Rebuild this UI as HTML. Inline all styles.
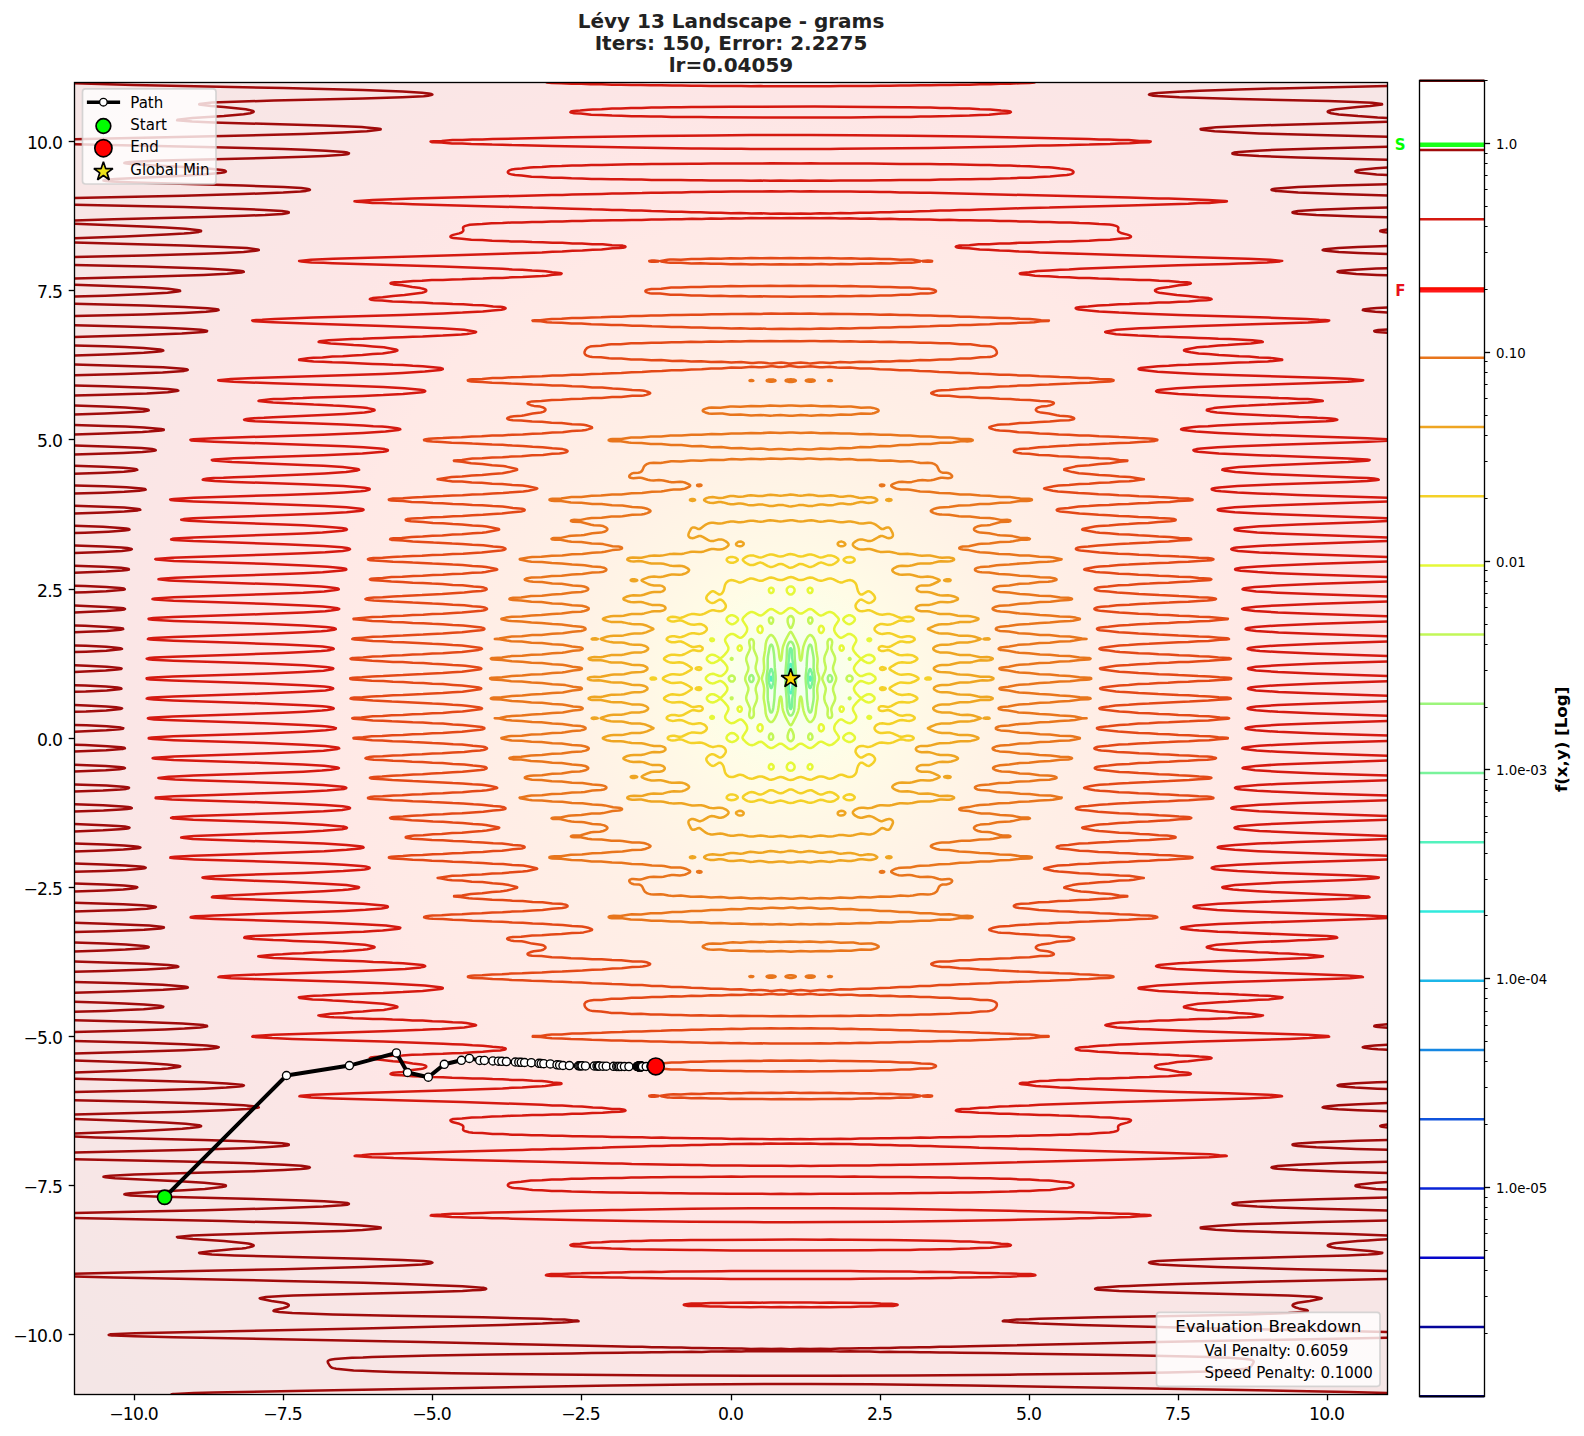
<!DOCTYPE html>
<html lang="en"><head><meta charset="utf-8"><title>Lévy 13 Landscape - grams</title>
<style>html,body{margin:0;padding:0;background:#fff}body{width:1584px;height:1436px;overflow:hidden}svg{display:block}text{font-family:'DejaVu Sans','Liberation Sans',sans-serif}</style></head><body>
<svg width="1584" height="1436" viewBox="0 0 1584 1436">
<defs>
<clipPath id="ax"><rect x="74.5" y="82.0" width="1313.0" height="1312.5"/></clipPath>
<clipPath id="cb"><rect x="1419.5" y="80.7" width="64.8" height="1315.5"/></clipPath>
<radialGradient id="bg" gradientUnits="userSpaceOnUse" cx="790.7" cy="678.6" r="1012.8">
<stop offset="0.0000" stop-color="#e7fffc"/>
<stop offset="0.0030" stop-color="#ebfff9"/>
<stop offset="0.0059" stop-color="#f0fff4"/>
<stop offset="0.0099" stop-color="#f4fff0"/>
<stop offset="0.0148" stop-color="#f5ffef"/>
<stop offset="0.0197" stop-color="#f3fff1"/>
<stop offset="0.0296" stop-color="#f6ffed"/>
<stop offset="0.0395" stop-color="#f7ffec"/>
<stop offset="0.0592" stop-color="#fbffe9"/>
<stop offset="0.0987" stop-color="#fffce6"/>
<stop offset="0.1382" stop-color="#fff8e6"/>
<stop offset="0.1777" stop-color="#fff5e6"/>
<stop offset="0.2172" stop-color="#fff2e6"/>
<stop offset="0.2567" stop-color="#fff0e6"/>
<stop offset="0.2962" stop-color="#ffeee6"/>
<stop offset="0.3357" stop-color="#ffede6"/>
<stop offset="0.3752" stop-color="#ffebe6"/>
<stop offset="0.4147" stop-color="#ffeae6"/>
<stop offset="0.4542" stop-color="#ffe9e6"/>
<stop offset="0.4937" stop-color="#fee7e6"/>
<stop offset="0.5332" stop-color="#fee7e6"/>
<stop offset="0.5727" stop-color="#fde6e6"/>
<stop offset="0.6121" stop-color="#fce6e6"/>
<stop offset="0.6516" stop-color="#fbe6e6"/>
<stop offset="0.6911" stop-color="#fae6e6"/>
<stop offset="0.7306" stop-color="#f9e6e6"/>
<stop offset="0.7701" stop-color="#f8e6e6"/>
<stop offset="0.8096" stop-color="#f7e6e6"/>
<stop offset="0.8491" stop-color="#f7e6e6"/>
<stop offset="0.8886" stop-color="#f6e6e6"/>
<stop offset="0.9281" stop-color="#f5e6e6"/>
<stop offset="0.9676" stop-color="#f4e6e6"/>
<stop offset="1.0000" stop-color="#f4e6e6"/>
</radialGradient></defs>
<rect width="1584" height="1436" fill="#fff"/>
<g font-size="20" font-weight="bold" fill="#222" text-anchor="middle">
<text x="731.0" y="28.3">Lévy 13 Landscape - grams</text>
<text x="731.0" y="50.3">Iters: 150, Error: 2.2275</text>
<text x="731.0" y="72.3">lr=0.04059</text>
</g>
<rect x="74.5" y="82.0" width="1313.0" height="1312.5" fill="url(#bg)"/>
<g clip-path="url(#ax)" fill="none" stroke-width="2.5" stroke-linejoin="round" stroke-linecap="butt">
<path stroke="#53f2bd" d="M790.4 693.2l-.6 -1 -.5 -1.9 -.6 -3.6 -.2 -5.1 0 -6 .2 -5.1 .6 -3.6 .5 -1.9 .6 -1 .5 0 .6 .8 .5 1.9 .6 3.3 .3 5.1 0 6 -.3 5.4 -.6 4 -.5 1.9 -.6 .8zM770.7 680.3l-.3 -1.4 0 -1.1 .3 -.9 .5 -.2 .4 1.1 0 1.6 -.4 1.1zM810.1 680.5l-.4 -1.6 .1 -1.1 .3 -1.1 .5 .1 .4 1.5 -.1 1.1 -.3 1z"/>
<path stroke="#79f39b" d="M790.4 708.9l-.6 -.9 -.3 -1.8 -.4 -7.1 -1.4 -10.9 -.3 -4.9 -.1 -6.6 .3 -7.6 1.5 -11 .4 -7.1 .3 -1.8 .6 -.9 .5 -.1 .6 .9 .3 1.3 .4 7.7 1.5 10.5 .3 4.8 0 6.6 -.3 8.2 -1.5 10.9 -.4 7.1 -.3 1.9 -.6 .8zM770.7 687.6l-1.1 -2.8 -.6 -2 -.4 -2.3 -.1 -2.2 .3 -2.7 .8 -3.2 1.1 -2.9 .5 -.5 .6 .5 1.1 3.3 .5 3.4 .1 3.2 -.3 3.3 -.9 3.6 -.5 1.3 -.6 .6zM810.1 688.2l-.6 -.7 -1.1 -3.4 -.5 -3 -.1 -2.8 .1 -2.1 .5 -3.1 1.1 -3.5 .6 -.6 .5 .4 1.1 2.8 .9 3.4 .2 2.7 -.2 2.8 -.9 3.8 -1.1 2.8z"/>
<path stroke="#9cf57b" d="M789.8 715.3l-1.1 -1.2 -.6 -1.3 -.7 -2.2 -.4 -2.2 -.4 -9.8 -1.1 -13.1 -.1 -9.3 .2 -6.1 1 -10.9 .3 -8.8 .2 -2.7 .5 -2.2 1.1 -2.4 1.1 -1.2 .6 -.2 .5 0 1.1 .6 1.1 1.7 .8 2.1 .4 2.2 .2 2.7 .3 8.2 1 12 .2 9.9 -.3 6 -.9 10.9 -.3 8.2 -.3 3.4 -.5 2.2 -1.1 2.4 -1.1 1.1 -.6 .2 -.5 0zM770.7 712.4l-.6 -.8 -.5 -1.7 -1.7 -9.7 -.2 -3.3 0 -8.2 -1.1 -7.6 -.1 -2.8 .2 -2.7 1 -7.1 0 -8.8 .3 -3.8 1.6 -8.6 .4 -1.2 .7 -1.3 .5 -.2 .6 .3 .5 .8 .6 1.6 .5 2.7 .6 4.1 .4 5.1 .4 8.2 .8 8.2 .1 3.8 -.9 10.4 -.5 9.9 -.9 7.5 -.5 2.7 -.6 1.6 -.5 .8 -.6 .3zM810.1 712.6l-.6 -.4 -.3 -.5 -.7 -1.6 -.8 -4.9 -.7 -6.1 -.4 -8.7 -.8 -8.2 -.2 -3.9 .2 -3.2 .8 -8.2 .4 -8.8 .7 -6.6 .6 -3.2 .4 -1.7 .8 -1.6 .6 -.4 .5 .2 .6 .7 .5 1.6 1.7 9.1 .3 3.5 -.1 8.8 1.1 7.1 .2 2.7 -.2 2.8 -1.1 7.6 .1 8.2 -.3 3.9 -1.7 9.3 -.5 1.6 -.6 .7zM750.4 681.6l-.5 -.6 -.6 -1.1 -.1 -1.6 .1 -1 .6 -1.1 .5 -.6 .6 -.4 .5 -.1 .6 .2 .8 .9 .5 1 .2 1.1 -.2 1.7 -.5 1.1 -.8 .8 -.6 .1 -.5 0zM829.2 681.9l-.7 -.8 -.5 -1.1 -.2 -1.7 .1 -1.1 .5 -1 .8 -.9 .6 -.2 .5 .1 .6 .3 .6 .7 .5 1 .2 1.1 -.2 1.7 -.6 1.1 -.5 .6 -.6 .3 -.5 0z"/>
<path stroke="#c2f758" d="M789.8 741l-1.1 -.8 -.7 -1.1 -.4 -1.7 0 -1.6 .6 -2.6 1.1 -2.6 1.1 -1.5 .5 0 .2 .1 .9 1.3 1.1 2.6 .6 2.1 .1 2.2 -.5 1.7 -.7 1.1 -1.1 .8 -.6 .2zM770.7 739.8l-.6 -.2 -.6 -.5 -.5 -1.1 -.1 -1.1 .2 -1.1 .5 -1.2 .5 -.7 .6 -.3 .5 -.1 .6 .2 .4 .4 .7 1.1 .2 1.1 .1 1.1 -.3 1.1 -.6 .8 -.5 .4zM809.5 739.7l-.6 -.6 -.6 -1.1 -.1 -1.1 .1 -1.1 .7 -1.5 .5 -.6 .6 -.2 .6 .1 .5 .3 .5 .6 .6 1.2 .2 1.2 -.1 1.1 -.6 1.1 -.6 .5 -1.1 .2zM790.4 725.3l-1.1 -1.3 -2.2 -3.9 -2 -4 -1.5 -3.8 -.7 -2.2 -.4 -2.2 -.9 -8.9 -.5 -2 -.6 -.5 -.5 .9 -.6 2.6 -.8 6.8 -.7 3.8 -1.2 3.9 -1.6 3.4 -1.1 1.9 -1.1 1.4 -1.1 .8 -.6 .1 -.5 0 -1.1 -.6 -1.7 -2 -1.3 -2.9 -.9 -3.2 -.7 -7.2 -1.3 -7.6 0 -2.2 .4 -5.5 0 -2.7 -.5 -3 -1.5 -5.2 -.2 -1.7 .3 -1.6 1.4 -4.7 .5 -3 0 -2.7 -.4 -5.5 0 -2.2 1.4 -8.2 .6 -6.5 .8 -3.3 1.4 -2.9 1.7 -2 1.1 -.6 .5 -.1 .6 .2 1.1 .8 1.1 1.4 1.1 1.8 1.6 3.6 1.2 3.8 .7 3.3 .8 7.3 .6 2.5 .5 1 .6 -.5 .5 -2 .9 -8.9 .4 -2.1 .7 -2.2 1.5 -3.9 2 -4 2.2 -3.9 1.1 -1.3 .5 -.1 .6 .6 1.1 1.7 3.1 5.9 1.9 4.4 .7 2.2 .6 2.7 .8 8.6 .5 2.2 .6 .6 .5 -.8 .6 -2.4 .8 -7.1 .7 -3.8 1.3 -3.8 1.6 -3.5 1 -1.8 1.1 -1.4 1.1 -.9 .6 -.2 .5 .1 1.1 .6 1.7 1.9 1.4 3 .9 3.3 .6 6.5 1.3 8.2 0 2.2 -.4 5.5 .1 2.7 .4 2.8 1.5 4.9 .2 1.6 -.1 1.7 -1.6 5.4 -.4 2.8 -.1 2.7 .4 4.9 0 2.8 -1.2 7.6 -.8 7.2 -.8 3.2 -1.4 2.9 -1.7 2 -1.1 .6 -.5 0 -.6 -.1 -1.1 -.9 -1.1 -1.4 -1 -1.9 -1.6 -3.3 -1.2 -3.9 -.8 -3.8 -.8 -7.1 -.6 -2.4 -.5 -.8 -.6 .6 -.5 2.2 -.8 8.6 -.6 2.7 -.7 2.2 -1.9 4.4 -3.1 5.9 -1.1 1.7 -.6 .5zM750.4 717.9l-.5 -.6 -.4 -.7 -.3 -1.6 .1 -1.5 .7 -3.4 0 -1.7 -.8 -2.2 -2.3 -4.9 -.5 -1.6 -.2 -1.1 0 -1.1 .3 -1.7 1.8 -5.4 .1 -2.2 -.6 -2.2 -2.2 -4.9 -.4 -1.7 0 -1.1 .4 -2.1 2.4 -5.5 .4 -2.2 0 -1.1 -.4 -1.6 -1.6 -5 -.2 -1.6 .1 -1.1 .6 -2.2 2.3 -4.9 .8 -2.2 .1 -1.6 -.9 -4.4 .1 -1.8 .4 -1 .5 -.5 .8 -.4 .5 -.1 1.1 .6 .6 .7 .5 1.3 .2 1.7 -.3 3.9 .1 1.6 .7 2.2 1.9 4.4 .7 2.2 .1 1.6 -.1 1.6 -1.3 5.5 -.1 2.2 .7 2.7 2.4 5.5 .3 1.1 0 1.1 -.5 2.2 -2.1 4.5 -.7 2.6 0 2.2 1.3 5.4 .1 2.8 -.6 2.7 -2.3 5.5 -.5 1.6 -.1 1.7 .3 3.8 -.2 1.6 -.5 1.4 -.8 .8 -.9 .5 -.5 -.1zM829.2 718l-.5 -.5 -.6 -.7 -.4 -1.3 -.2 -1.6 .3 -3.8 -.1 -1.7 -.5 -1.6 -2.2 -4.9 -.7 -2.8 0 -2.7 1.3 -5.5 .2 -1.6 -.1 -1.1 -.6 -2.2 -2.4 -5.5 -.3 -1.1 -.1 -1.1 .6 -2.1 2 -4.5 .8 -2.7 0 -2.1 -1.3 -5.5 -.1 -2.8 .5 -2.7 2.3 -5.5 .6 -1.6 .1 -1.6 -.3 -3.9 .1 -1.6 .5 -1.3 .6 -.8 .5 -.4 .6 -.2 .5 0 .9 .5 .7 1.1 .3 1.6 -.2 1.7 -.7 3.3 .1 1.6 .7 2.2 2.4 4.9 .5 1.7 .1 1 0 1.1 -.3 1.7 -1.6 4.9 -.2 1.6 0 1.1 .6 2.2 2.2 5 .4 1.6 0 1.1 -.5 2.2 -2.3 5.4 -.4 2.2 .2 2.2 1.8 5.5 .2 1.6 -.1 1.1 -.6 2.2 -2.4 4.9 -.7 2.2 -.1 1.7 .8 4.4 -.1 1.8 -.6 1.1 -.5 .5 -.6 .2 -.5 0zM731.8 699.2l-.5 -.1 -.4 -.5 -.1 -.6 .5 -.5 .5 -.1 .6 .3 .1 .3 -.1 .8zM849.5 699.2l-.6 -.4 -.1 -.8 .7 -.6 .5 0 .5 .6 0 .6 -.5 .5zM731.8 681.6l-1.1 -.2 -1.1 -.7 -.7 -1.3 -.2 -1.1 .4 -1.1 .5 -.7 1.1 -.7 1.1 -.3 1.1 .3 1.1 .8 .5 .6 .3 1.1 -.1 1.1 -.6 1.1 -1.2 .9zM849.5 681.6l-1.1 -.2 -1.1 -.9 -.7 -1.1 -.1 -1.1 .4 -1.1 .4 -.6 1.1 -.8 1.1 -.3 1.1 .2 1.1 .8 .6 .7 .3 1.1 -.1 1.1 -.8 1.3 -1.1 .7zM731.8 659.8l-.5 -.1 -.5 -.5 0 -.6 .5 -.5 .5 -.1 .6 .4 .1 .2 -.1 .9zM849.5 659.8l-.6 -.4 -.1 -.8 .7 -.6 .5 .1 .5 .5 0 .6 -.4 .5zM790.4 628.1l-1.1 -1.6 -1.1 -2.5 -.5 -2 -.1 -1.7 .2 -1.6 .9 -1.6 1.1 -.9 1.1 -.2 1.1 .5 1.1 1.1 .6 1.7 .1 1.6 -.4 2.2 -.8 2.4 -1.1 2.1 -.6 .5zM771.2 623.7l-.5 -.1 -.6 -.4 -.5 -.6 -.5 -1.2 -.2 -1.1 .1 -1 .5 -1.1 .6 -.6 .6 -.2 1.1 .1 .5 .4 .6 .8 .3 1.1 -.1 1.1 -.2 1.1 -.7 1.1 -.4 .4zM810.1 623.7l-.9 -.6 -.7 -1.1 -.3 -1.1 0 -1.1 .3 -1.1 .5 -.7 .5 -.5 1.1 -.1 .6 .1 .7 .7 .5 1.1 .1 1 -.2 1.2 -.6 1.1 -.5 .7 -.6 .3z"/>
<path stroke="#e5f838" d="M788.7 770.3l-1.3 -1.1 -.5 -1.1 -.2 -1.1 .4 -1.7 1.1 -1.5 1.1 -.9 1.1 -.3 .7 0 .9 .3 1.1 .8 1.2 1.6 .4 1.7 -.4 1.6 -.9 1.1 -1.4 .9 -1.6 .2zM770.1 769.2l-.6 -.6 -.5 -.7 -.2 -.9 .2 -1.1 .6 -1.1 .5 -.4 1.1 -.4 .8 .2 .9 .7 .6 1 .2 1.1 -.3 1.1 -.5 .7 -1.1 .6 -1.1 0zM809.5 769.4l-1.1 -.7 -.5 -.6 -.2 -.6 0 -1.1 .5 -1.1 .8 -.8 .5 -.3 1.1 -.1 1.1 .7 .4 .5 .4 1.1 -.1 1.1 -.5 1.1 -.7 .6 -.6 .2zM789.3 749l-1.7 -.9 -4.3 -3.4 -1.1 -.7 -1.1 -.3 -1.1 0 -1.1 .3 -5.5 3.5 -1.1 .4 -1.1 .2 -1.1 -.2 -1.6 -.7 -5.5 -4.5 -1.1 -.7 -1.1 -.3 -1.6 .2 -4.9 2.7 -2.2 .6 -1.1 -.1 -1.7 -.5 -1.1 -.6 -1.6 -1.2 -2.7 -2.6 -.9 -1.1 -.5 -1.1 0 -.6 .4 -1.1 3.5 -5.4 .7 -1.7 .1 -1.1 -.2 -1.6 -.7 -1.7 -1.1 -1.6 -1.3 -1.6 -1.1 -1.1 -1.1 -.8 -.6 -.2 -1.1 -.1 -1.6 .7 -3.8 2.4 -1.7 .6 -1.6 .1 -1.1 -.3 -1.1 -.6 -1.7 -1.3 -1.1 -1.1 -.7 -1.1 -.4 -1.1 -.1 -1.1 .3 -1.1 2.6 -4.9 .4 -1.1 0 -1.1 -.2 -1.1 -.9 -1.6 -2.6 -3.1 -2.7 -2.7 -1.7 -1.1 -.5 .2 -2.7 1.8 -1.7 .9 -1.6 .6 -1.1 .2 -1.7 -.2 -1.6 -.6 -1.7 -1.3 -.8 -1.3 -.1 -1.1 .4 -1 .4 -.6 1.8 -1.4 1.1 -.5 1.1 -.3 1.1 0 1.6 .3 1.8 .8 3.7 2.4 .5 .1 .6 -.2 1.6 -1.4 2.2 -2.2 1.1 -1.4 1.1 -1.7 .4 -1.1 .1 -1.1 -.1 -1.1 -.8 -1.6 -1.2 -1.6 -1.7 -1.7 -1.6 -1.1 -1.1 -.5 -1.1 0 -1.1 .2 -3.3 1.4 -1.6 .5 -1.7 .2 -1.6 -.4 -1.7 -.7 -1.6 -1.2 -1.3 -1.7 -.1 -1.1 .4 -1.1 1.6 -1.6 1.8 -1.1 2 -.6 1.1 -.1 1.6 .3 4.9 1.9 1.1 .1 1.1 -.2 1.1 -.6 1.7 -1.3 1.1 -1.2 1.2 -1.6 .8 -1.6 .1 -1.1 -.1 -1.1 -.4 -1.1 -1 -1.6 -1.2 -1.5 -2.2 -2.2 -1.6 -1.4 -.6 -.3 -.5 .2 -2.8 1.9 -2.7 1.3 -1.6 .3 -1.1 0 -1.1 -.3 -1.1 -.5 -1.7 -1.4 -.5 -.6 -.4 -1 0 -1.1 .9 -1.4 1.7 -1.2 1.6 -.7 1.7 -.1 1.1 .2 1.6 .6 1.8 1 2.6 1.7 .5 .2 1.7 -1.1 2.7 -2.7 2.6 -3.1 .9 -1.6 .2 -1.1 0 -1.1 -.3 -1.1 -2.7 -4.9 -.3 -1.1 0 -1.1 .5 -1.1 .7 -1.1 1.1 -1.2 1.7 -1.2 1.1 -.6 1.1 -.3 1.6 0 1.7 .6 3.8 2.5 1.6 .7 1.1 -.1 .6 -.3 1.1 -.7 1.1 -1.1 1.3 -1.6 1.1 -1.6 .7 -1.7 .2 -1.6 -.1 -1.1 -.6 -1.6 -3.6 -5.5 -.4 -1.1 0 -.5 .5 -1.1 .8 -1.1 2.9 -2.8 2.6 -1.7 1.7 -.6 1.1 0 2.2 .6 4.9 2.7 1.6 .2 1.1 -.4 1.1 -.6 5.5 -4.5 1.6 -.8 1.1 -.1 1.1 .1 1.1 .5 5.5 3.4 1.1 .4 1.1 0 1.1 -.4 1.1 -.6 3.8 -3 1.6 -1.1 1.7 -.5 1.6 .3 1.7 .9 4.3 3.4 1.1 .6 1.1 .4 1.1 0 1.1 -.3 5.5 -3.5 1.1 -.5 1.1 -.1 1.1 .1 1.6 .8 5.5 4.5 1.1 .6 1.1 .4 1.1 -.1 1.1 -.3 4.4 -2.5 2.1 -.6 1.1 0 1.7 .5 1.1 .6 1.6 1.2 2.8 2.8 .9 1.1 .4 1.1 0 .5 -.4 1.1 -3.2 4.9 -.7 1.7 -.3 1.1 0 1.6 .6 1.6 1 1.8 1.7 2 1 1 1.1 .8 .6 .3 1.1 .1 1.6 -.7 3.9 -2.4 1.6 -.7 1.6 0 1.1 .3 1.1 .6 1.7 1.2 1.2 1.2 .7 1.1 .4 1.1 .1 1.1 -.3 1.1 -2.5 4.4 -.4 1.1 -.2 1.1 .1 1 .7 1.7 1.2 1.6 1.7 2 2.7 2.6 1.7 1.2 .5 -.2 2.7 -1.7 2 -1.1 1.4 -.5 1.6 -.2 1.6 .3 1.7 .8 1.4 1.2 .6 1.1 .1 1.1 -.5 1.1 -.4 .5 -1.8 1.4 -1.1 .5 -1.1 .3 -1.1 0 -1.6 -.3 -2.6 -1.3 -2.9 -2 -.5 0 -.6 .2 -1.6 1.4 -2.2 2.3 -1.1 1.4 -1 1.6 -.4 1.1 -.2 1.1 .2 1.1 .8 1.6 1.2 1.7 1.6 1.5 1.6 1.2 1.1 .4 1.1 .1 1.1 -.2 3.3 -1.4 1.7 -.5 1.6 -.2 1.6 .3 1.7 .8 1.7 1.3 1 1 .2 .6 .2 1.1 -.5 1.1 -1.6 1.6 -2.1 1.3 -1.7 .4 -1.1 .1 -1.6 -.3 -4.9 -1.9 -1.1 -.1 -1.1 .2 -1.1 .6 -1.6 1.4 -1.1 1.1 -1.3 1.6 -.7 1.6 -.2 1.1 .2 1.1 .4 1.1 1 1.7 1.1 1.3 2.2 2.3 1.6 1.3 .6 .3 .5 -.1 3.8 -2.4 1.7 -.8 1.6 -.3 1.1 0 1.1 .3 1.1 .5 1.8 1.4 .5 .5 .4 1.1 -.1 1.1 -.9 1.4 -1.7 1.2 -1.6 .6 -1.7 .2 -1 -.2 -1.7 -.6 -1.6 -.9 -2.8 -1.9 -.5 -.1 -1.7 1.2 -2.7 2.6 -2.6 3.1 -.8 1.6 -.3 1.1 .1 1.1 .3 1.1 2.7 4.9 .3 1.1 -.1 1.1 -.4 1.1 -.8 1.1 -1.1 1.2 -1.7 1.2 -1.1 .6 -1.1 .3 -1.6 -.1 -2.2 -.9 -3.8 -2.5 -1.1 -.3 -1.1 .1 -.6 .3 -1.1 .8 -1 1 -1.4 1.6 -1.1 1.6 -.6 1.7 -.2 1.6 .1 1.1 .6 1.7 3.6 5.4 .4 1.1 -.1 .6 -.4 1.1 -.9 1.1 -2.9 2.7 -2.6 1.7 -1.7 .5 -1.1 .1 -2.1 -.7 -4.4 -2.4 -1.1 -.4 -1.1 0 -1.1 .4 -1.1 .6 -5.5 4.5 -1.6 .8 -1.1 .1 -1.1 -.2 -1.1 -.4 -5.5 -3.5 -1.1 -.3 -1.1 0 -1.1 .4 -1.1 .6 -3.8 3 -1.6 1.1 -1.7 .4zM730.7 741.8l-1.1 -.3 -1.1 -.6 -1.4 -1.3 -.5 -1.1 -.1 -.5 .2 -1.1 1 -1.7 1.9 -1.5 1.1 -.5 1.1 -.2 1.7 .2 1.7 .9 1.9 1.7 .8 1.1 .2 1.1 -.2 .5 -.8 1.1 -1.4 1.1 -1 .6 -1.8 .6 -1.1 .1zM848.4 741.9l-1.7 -.6 -1.8 -1.1 -1.1 -1.1 -.4 -.6 -.2 -1.1 .2 -.5 .8 -1.1 1.9 -1.7 1.8 -.8 1.6 -.3 1.6 .4 2 1.3 1.4 1.6 .4 1.1 0 .6 -.3 1.1 -.4 .5 -.9 .9 -1.1 .8 -1.6 .6 -1.1 .1zM759 730.9l.7 .4 .6 .1 .5 -.1 .6 -.4 .5 -.6 .6 -1.3 .1 -1.4 -.1 -1.2 -.6 -1.2 -.5 -.6 -.6 -.3 -1.1 0 -.9 .5 -.8 1.1 -.5 1.1 0 1.1 .3 1.1 .3 .7zM819.9 730.9l.6 .3 .5 .2 .6 -.1 1.1 -.7 .9 -1.4 .3 -1.1 -.1 -1.1 -.4 -1.1 -.9 -1.1 -.9 -.5 -1.1 0 -.8 .5 -.6 1.1 -.3 1.1 0 1.7 .6 1.5zM711 718.6l-.4 -.3 -.3 -.6 0 -.5 .2 -.4 1.1 -.7 1.1 0 .5 .2 .6 .6 .1 .3 -.1 .7 -.3 .4 -.8 .4 -1.1 .1zM868.1 718.4l-.6 -.7 -.1 -.5 .4 -.6 .8 -.5 1.2 0 1 .5 .3 .6 0 .5 -.3 .5 -1.1 .6 -.5 0zM739.5 711.7l.5 .1 .6 -.2 .5 -.5 .6 -1.2 .1 -.9 -.2 -1.1 -.5 -.8 -.5 -.4 -.6 -.2 -1.1 .2 -.7 .6 -.6 1.1 0 .6 .2 1.1 .6 .8zM841.1 711.7l.7 0 .6 -.2 .8 -.9 .5 -1.1 0 -1.1 -.2 -.5 -.6 -.8 -.5 -.4 -1.1 -.2 -.6 .2 -.6 .6 -.5 1.1 0 1.1 .4 1.1 .3 .6zM738.9 650.4l.6 .3 1.1 -.2 .5 -.4 .4 -.8 .3 -1 -.2 -1.1 -.5 -1.1 -.5 -.5 -.6 -.2 -.5 .1 -.6 .3 -.5 .5 -.6 .9 -.2 1.1 .1 .5 .5 1.1zM840.6 650.4l.7 .3 1.1 -.2 .5 -.4 .6 -.8 .2 -.5 0 -1.1 -.5 -1.1 -.8 -.9 -.6 -.3 -.5 0 -.6 .2 -.5 .5 -.5 1.1 -.1 1.6 .5 1.1zM712.1 641.2l-.5 -.1 -.9 -.5 -.4 -.6 0 -.5 .2 -.5 .5 -.4 1.1 -.2 .6 .1 .8 .5 .4 .5 0 .5 -.3 .6 -.4 .2zM869.2 641.2l-1.1 -.4 -.6 -.8 0 -.5 .3 -.5 .8 -.5 .6 -.1 1.1 .2 .5 .4 .3 .5 0 .5 -.4 .6 -1 .5zM760 632.9l.8 0 .6 -.3 .5 -.6 .6 -1.2 .1 -1.1 -.1 -1.5 -.6 -1.3 -.5 -.6 -.6 -.4 -.5 -.1 -1.1 .3 -.6 .5 -.9 1.4 -.2 1.1 .1 1.1 .5 1.3 1.1 1.1zM820.8 632.9l.8 0 1.1 -.7 .9 -1.5 .3 -1 -.1 -1.1 -.6 -1.4 -.7 -.8 -.9 -.5 -.6 -.1 -.5 .1 -.6 .5 -.7 1.1 -.5 1.6 .1 1.5 .5 1.2 .6 .7zM731.8 624.2l-1.6 -.4 -1.9 -1.3 -1.4 -1.6 -.4 -1.1 0 -.5 .3 -1.1 .3 -.6 .9 -.9 1 -.7 1.7 -.7 1.1 -.1 1.1 .1 1.9 .7 1.7 1.1 1.1 1.1 .3 .5 .2 1.1 -.2 .5 -.8 1.1 -1.9 1.7 -1.7 .8zM849.5 624.2l-1.6 -.3 -1.7 -.8 -1.9 -1.7 -.8 -1.1 -.2 -.5 .1 -1.1 .4 -.5 1.1 -1.1 1.7 -1.1 1.8 -.7 1.1 -.1 1.1 .1 1.7 .7 1 .7 1 .9 .3 .6 .3 1.1 0 .5 -.5 1.1 -1.4 1.6 -1.9 1.3zM789.3 594.3l-1.1 -.9 -1.1 -1.5 -.4 -1.6 .1 -1.1 .6 -1.1 1.3 -1.2 1.4 -.5 1.4 .1 1.6 .7 1.1 1.3 .4 1.2 -.1 1.7 -1 1.6 -1.5 1.3 -1.1 .3 -.5 0zM770.7 593.1l-1 -.7 -.4 -.5 -.4 -1.1 0 -1.1 .5 -1.1 .6 -.5 .7 -.3 1.1 0 1.1 .6 .5 .7 .2 .6 0 1.1 -.4 1.1 -.9 .8 -.5 .3zM809.5 593l-.8 -.6 -.8 -1 -.2 -1.1 0 -.6 .6 -1.1 .6 -.5 .6 -.3 1.1 0 1.1 .6 .6 .7 .2 .6 0 1.1 -.4 1.1 -.9 1 -.6 .2z"/>
<path stroke="#f4d128" d="M790.4 803.1l-2.2 -.3 -5.5 -1.9 -2.2 -.3 -2.2 .3 -4.9 1.6 -1.6 .3 -1.7 -.1 -2.7 -.6 -4.9 -2.1 -1.7 -.3 -2.2 .3 -4.9 1.6 -1.6 .2 -1.7 0 -2.7 -.7 -2.5 -1.3 -2.1 -1.6 -.2 -.6 0 -.5 .2 -.6 1.1 -1.1 2.4 -1.6 2.2 -1.2 1.6 -.4 1.1 -.1 1.7 .1 1.6 .5 3.8 1.6 1.1 .3 1.1 0 2.2 -.7 5.5 -3.1 1.6 -.5 1.1 -.1 2.2 .4 5.5 2.5 1.1 .2 1.1 0 2.2 -.6 5.4 -2.9 1.1 -.3 1.1 0 1.1 .1 1.1 .4 4.9 2.6 2.2 .7 1.1 0 1.1 -.2 5.5 -2.4 2.2 -.5 1.1 .1 1.6 .5 5.5 3.1 2.2 .7 1.1 0 1.1 -.3 3.8 -1.6 1.6 -.5 1.7 -.1 1.1 .1 1.1 .2 1.6 .7 2.8 1.8 1.8 1.6 .3 .6 0 .5 -.8 1.1 -2.5 1.6 -2.1 1 -2.2 .5 -1.7 0 -1.6 -.2 -4.9 -1.6 -2.2 -.3 -1.7 .4 -4.9 2 -2.7 .6 -1.7 0 -1.5 -.2 -5 -1.6 -2.2 -.3 -2.2 .3 -5.5 1.9zM729.1 799.8l-1.1 -.5 -1.2 -1.1 -.1 -.6 0 -.5 .7 -1.1 1.7 -1.1 1.6 -.5 1.7 0 2.2 .5 1.2 .5 1.6 1.1 .3 .6 .1 .5 -.4 .6 -1.5 1.1 -2.4 .8 -2.2 .2zM847.3 800l-1.8 -.7 -1.6 -1.1 -.3 -.6 0 -.5 .4 -.6 1.5 -1.1 1.8 -.7 2.2 -.4 1.6 .2 1.7 .7 1.1 .8 .8 1.1 0 .5 -.2 .6 -1.1 1.1 -1.7 .7 -2.2 .3zM790.4 780.1l-2.2 -.5 -4.9 -2.1 -2.2 -.4 -1.1 0 -1.7 .3 -4.9 1.9 -2.2 .4 -2.2 -.3 -5.4 -2.4 -1.7 -.5 -1.1 -.1 -1.1 0 -1.6 .4 -4.9 1.7 -1.7 .2 -1.1 -.1 -1.1 -.2 -1.6 -.6 -4.9 -2.6 -2.2 -.5 -1.1 0 -1.1 .3 -3.8 1.5 -1.7 .5 -1.6 .1 -1.7 -.3 -1.1 -.5 -1.1 -.7 -1 -1 -.8 -1.1 -.7 -1.6 -.9 -3.8 -.5 -1.7 -1 -1.9 -1.1 -1.2 -1.1 -.6 -1.1 0 -1.1 .5 -3.8 2.4 -1.1 .3 -1.1 -.1 -1.6 -.8 -2.1 -1.9 -1.3 -1.6 -.7 -1.6 -.1 -1.1 .2 -.6 1.1 -1.6 1.8 -1.5 1.1 -.5 1.1 -.3 1.1 -.1 1.6 .4 4.4 2.5 1.1 .5 1.1 -.1 1.6 -.9 1.1 -1.1 1.3 -1.7 .8 -1.6 .2 -1.1 -.2 -1.1 -.5 -1.1 -.9 -1.1 -1.2 -.9 -1.7 -.7 -2.2 -.3 -1.6 .2 -3.8 .8 -1.7 0 -2.2 -.6 -5.4 -2.7 -2.8 -.9 -2.2 -.2 -5.4 .6 -2.8 0 -2.9 -.7 -5.8 -2.5 -1.7 -.5 -1.6 -.1 -3.9 .9 -2.7 .2 -2.2 -.2 -1.5 -.6 -.8 -.5 -.4 -.6 -.1 -.5 .2 -.6 .6 -.5 .9 -.5 1.7 -.5 1.6 -.2 1.7 .1 4.3 1 1.7 0 1.6 -.3 6.6 -3.1 2.7 -.8 2.8 -.1 5.4 .6 2.2 -.2 2.1 -.9 1.6 -1.1 1.3 -1.7 .2 -1.1 -.3 -1.1 -1.4 -1.6 -1.6 -1.1 -1.9 -.7 -1.1 -.3 -1.6 0 -4.9 .7 -2.2 -.1 -2.8 -.6 -5.4 -2.4 -2.2 -.7 -2.2 -.2 -4.9 .8 -2.2 .1 -2.8 -.6 -1.6 -.8 -.8 -.7 -.3 -.5 0 -.6 .2 -.5 1.4 -1.1 1.7 -.7 1.6 -.4 1.7 -.1 1.6 .1 3.8 .7 2.2 -.1 2.8 -.9 6.5 -3.6 2.2 -.9 1.1 -.1 1.1 .1 3.8 .8 1.1 0 1.1 -.2 1.1 -.5 .6 -.5 .4 -.8 0 -.6 -.4 -1 -.6 -.5 -1.5 -.7 -1.8 0 -3.8 .8 -1.6 0 -1.7 -.4 -6.5 -3.4 -2.8 -1 -2.7 -.3 -4.9 .6 -2.8 -.1 -2.2 -.5 -1.6 -.6 -3 -1.6 -.5 -.6 -.3 -.5 .1 -.6 .4 -.5 1.5 -1.1 2.3 -1.1 2.2 -.7 2.2 -.3 1.7 .1 4.9 .5 1.6 -.1 1.7 -.3 2.2 -.9 2.8 -1.6 3.4 -2.2 .6 -.5 .3 -.6 -.1 -.5 -.6 -.6 -2.4 -1.6 -3 -1.7 -2.7 -1.2 -1.6 -.5 -1.7 -.1 -6 .5 -1.6 -.1 -1.7 -.2 -2.7 -.9 -2.8 -1.3 -1.7 -1.1 -.4 -.5 0 -.6 .4 -.5 .7 -.6 2 -1 2.6 -1.1 1.9 -.6 1.7 -.2 1.6 -.1 6 .5 1.7 -.1 1.6 -.5 2.7 -1.2 3 -1.7 2.4 -1.6 .5 -.6 .2 -.5 -.3 -.6 -.6 -.5 -3.3 -2.2 -2.9 -1.6 -2.2 -.9 -1.7 -.3 -1.6 -.1 -4.9 .5 -1.7 0 -2.2 -.2 -2.2 -.7 -2.2 -1.1 -1.6 -1.1 -.4 -.5 -.1 -.6 .2 -.5 .6 -.5 2.8 -1.7 1.8 -.6 2 -.5 3 -.1 4.9 .6 2.7 -.3 2.8 -1 6 -3.1 2.2 -.8 1.6 .1 3.6 .8 1.9 0 1.6 -.7 .6 -.5 .4 -1 -.2 -1.1 -.5 -.5 -1.4 -.9 -1.1 -.2 -1.1 .1 -3.8 .8 -1.1 .1 -1.1 -.1 -2.7 -1.2 -6 -3.3 -2.8 -1 -2.2 0 -3.8 .7 -1.6 .1 -1.7 -.1 -1.6 -.4 -1.6 -.7 -1.4 -1.1 -.3 -.5 0 -.5 .2 -.6 1.4 -1.1 1.1 -.5 2.8 -.5 2.2 0 4.9 .9 2.2 -.2 2.2 -.7 5.4 -2.4 2.8 -.7 2.2 0 4.9 .7 1.6 -.1 1.1 -.2 1.8 -.7 1.7 -1.1 1.4 -1.6 .3 -1.1 -.2 -1.1 -1.3 -1.6 -1.5 -1.1 -2.2 -1 -2.2 -.3 -5.4 .7 -2.8 -.1 -2.7 -.8 -6.6 -3.1 -1.6 -.4 -1.7 .1 -4.8 1 -1.7 .1 -1.1 -.2 -1.7 -.5 -.8 -.5 -.6 -.5 -.3 -.5 .1 -.6 .4 -.5 .7 -.6 1.4 -.5 2.4 -.4 2.7 .3 3.9 .9 1.6 -.1 1.7 -.5 5.6 -2.4 3.1 -.8 2.8 -.1 5.4 .7 2.2 -.2 2.8 -.9 5.4 -2.7 2.2 -.6 1.7 0 3.8 .8 1.6 .2 2.2 -.3 1.7 -.7 1.2 -.9 .9 -1.1 .5 -1.1 .2 -1.1 -.2 -1.1 -.8 -1.6 -1.3 -1.7 -1.1 -1.1 -1.6 -.9 -1.1 -.1 -1.1 .4 -4.4 2.6 -1.6 .4 -1.1 -.1 -1.1 -.3 -1.1 -.6 -1.8 -1.3 -1.1 -1.7 -.2 -.5 0 -1.1 .7 -1.7 1.4 -1.6 2.1 -1.9 1.6 -.9 1.1 0 1.1 .3 3.8 2.4 1.1 .5 1.1 0 1.1 -.6 1.1 -1.2 1 -1.9 .5 -1.6 .9 -3.9 .7 -1.6 .8 -1.1 1 -1 1.1 -.7 1.1 -.5 1.7 -.3 1.6 .1 1.7 .5 3.8 1.5 1.1 .3 1.1 0 2.2 -.6 4.9 -2.5 1.6 -.6 1.1 -.3 1.1 0 1.7 .2 4.9 1.7 1.6 .4 1.1 0 1.1 -.1 1.7 -.5 5.4 -2.4 2.2 -.3 2.2 .4 4.9 1.9 1.7 .3 1.1 0 1.1 -.1 1.6 -.5 4.9 -2.1 2.2 -.3 2.2 .4 4.9 2.2 2.2 .4 1.1 0 1.7 -.3 4.9 -1.9 2.2 -.4 2.2 .2 5.4 2.4 1.7 .5 1.1 .2 1.1 0 1.6 -.4 4.9 -1.7 1.7 -.2 1.1 0 2.2 .6 5.4 2.8 2.2 .6 1.1 0 1.1 -.3 3.9 -1.5 1.6 -.5 1.6 -.1 1.7 .3 1.1 .5 1.1 .7 1.1 1 .8 1.1 .7 1.6 .9 3.9 .7 2.2 1.2 1.9 1.1 1 .6 .2 1.1 0 1.1 -.5 3.8 -2.4 1.1 -.3 1.1 0 1.6 .8 2.2 2 1.3 1.6 .7 1.7 0 1.1 -.1 .5 -1.2 1.7 -1.8 1.4 -1.1 .5 -1.1 .3 -1.1 .1 -1.6 -.5 -4.4 -2.5 -1.1 -.4 -1.1 .1 -1.1 .5 -1.1 1 -1.4 1.6 -1 1.7 -.3 1.1 .2 1.6 .5 1.1 .9 1.1 1.1 .9 1.7 .7 2.2 .3 1.6 -.2 3.9 -.8 1.6 0 2.2 .6 6 2.9 2.7 .8 2.2 .1 5 -.6 2.7 0 3.1 .8 5.7 2.4 1.6 .5 1.6 .1 3.9 -.9 2.7 -.3 2.4 .4 1.4 .5 .8 .6 .4 .5 .1 .6 -.3 .5 -.6 .5 -.9 .5 -1.7 .5 -2.7 .1 -4.9 -1 -1.7 0 -1.6 .3 -6.2 2.9 -3.1 1 -2.7 .1 -5 -.7 -1.6 .1 -1.1 .2 -2.2 1 -1.4 1.1 -1.3 1.6 -.2 1.1 .3 1.1 1.4 1.6 1.7 1.1 1.7 .7 1.1 .2 1.6 .1 5 -.7 2.1 0 2.8 .7 6 2.6 1.6 .5 2.2 .2 5 -.9 2.7 0 1.6 .4 1.1 .3 1.5 .9 .5 .5 .3 .6 0 .5 -.3 .5 -1.4 1.1 -1.7 .7 -1.6 .4 -1.6 .1 -1.7 -.1 -3.8 -.7 -2.2 0 -2.7 1 -6.6 3.6 -2.2 .9 -1.6 .1 -4.4 -.9 -1.1 -.1 -1.1 .3 -1.4 .8 -.4 .5 -.2 1.1 .3 .9 .6 .5 1.6 .8 2.2 0 3.9 -.9 1.6 .1 2.2 .9 5.5 2.9 2.7 1 2.7 .3 5.5 -.6 2.7 .2 1.7 .3 1.8 .7 2.9 1.7 .5 .5 .3 .5 -.1 .6 -.5 .5 -1.5 1.1 -2.3 1.1 -1.8 .6 -2.1 .3 -2.1 0 -5 -.5 -1.6 .1 -1.6 .3 -2.8 1.2 -3.2 1.9 -2.5 1.6 -.6 .5 -.3 .6 .2 .5 .6 .6 2.4 1.6 2.9 1.7 2.7 1.2 1.6 .4 1.7 .2 6 -.5 1.6 .1 1.7 .2 2.2 .6 2.4 1.1 1.9 1 .8 .6 .4 .5 0 .6 -.5 .5 -1.7 1.1 -2.8 1.3 -2.7 .9 -1.7 .2 -1.6 0 -6 -.4 -1.7 .1 -1.6 .5 -2.7 1.2 -3 1.7 -2.4 1.6 -.5 .6 -.1 .5 .3 .6 .6 .5 3.4 2.2 3.3 1.8 2.2 .8 2.7 .3 5 -.5 1.6 -.1 2.2 .3 2.2 .7 2.3 1.1 1.6 1.1 .4 .5 .1 .6 -.3 .5 -.6 .6 -3 1.7 -1.6 .5 -2.2 .5 -2.7 0 -5 -.5 -2.7 .3 -2.7 1 -5.5 2.9 -2.2 .8 -1.6 .1 -3.9 -.8 -2.2 0 -1.6 .7 -.6 .6 -.3 .9 0 .6 .3 .7 .6 .6 1.1 .5 1.1 .2 1.1 0 3.8 -.8 1.1 -.1 1.1 .1 2.2 .8 6.6 3.7 2.7 .9 2.2 .1 3.8 -.7 1.7 -.1 1.6 .1 1.6 .4 1.8 .7 1.3 1.1 .3 .5 0 .6 -.3 .5 -.6 .6 -1.4 .7 -1.1 .4 -1.6 .4 -2.7 -.1 -5 -.8 -2.2 .2 -2.1 .7 -5.5 2.4 -2.8 .7 -2.1 0 -5 -.7 -1.6 .1 -1.1 .2 -1.8 .7 -1.7 1.1 -1.3 1.6 -.3 1.1 .2 1.1 1.3 1.7 1.5 1.1 2.1 .8 1.1 .3 1.6 0 5 -.6 2.7 .1 2.7 .8 6.1 2.8 2.1 .6 1.7 0 4.4 -1 1.6 -.1 1.6 .2 1.7 .5 .9 .5 .6 .5 .3 .6 -.1 .5 -.5 .6 -.8 .5 -1.5 .6 -2.2 .2 -2.7 -.2 -3.3 -.8 -1.7 -.1 -2.1 .6 -5.8 2.5 -2.5 .6 -2.7 .2 -6 -.7 -2.8 .3 -2.1 .8 -5 2.5 -2.2 .7 -2.1 .1 -3.9 -.8 -2.2 -.2 -1.6 .3 -1.7 .7 -1.1 .9 -.9 1.1 -.5 1.1 -.2 1.7 .4 1 .9 1.7 1.4 1.6 1.1 .9 1.1 .6 1.1 .1 1.1 -.4 4.4 -2.6 1.6 -.4 1.1 .1 1.1 .3 1.1 .5 1.9 1.5 1.1 1.6 .1 .6 0 1.1 -.7 1.6 -1.3 1.6 -2.2 1.9 -1.6 .9 -1.1 0 -1.1 -.3 -3.8 -2.4 -1.1 -.5 -1.1 0 -.6 .2 -1.1 1 -1.2 2 -.8 2.2 -.8 3.8 -.7 1.6 -.9 1.1 -1 1 -1.1 .7 -1.1 .5 -1.7 .3 -1.6 -.1 -1.6 -.5 -3.9 -1.5 -1.1 -.3 -1.1 0 -2.2 .6 -4.9 2.5 -1.6 .6 -1.1 .2 -1.1 .1 -1.7 -.2 -4.9 -1.8 -1.6 -.3 -1.1 0 -1.1 .1 -1.7 .5 -5.4 2.4 -2.2 .3 -2.2 -.4 -4.9 -1.9 -1.7 -.3 -1.1 0 -1.1 .1 -1.6 .5 -4.9 2.1zM697.4 689.8l1 .2 1.1 0 .8 -.2 .7 -.5 .3 -.6 -.2 -.5 -.5 -.6 -.5 -.2 -1.1 -.2 -1.1 .2 -1 .2 -1 .6 -.2 .5 .5 .6zM881.1 689.8l.7 .2 1.1 0 1 -.2 1.3 -.5 .5 -.6 -.3 -.5 -.9 -.5 -2.2 -.5 -1.6 .4 -.5 .6 -.1 .5 .2 .6zM651.9 679.5l-.5 -.1 -.8 -.5 0 -.6 .7 -.5 1.7 -.3 1.7 .2 1.3 .6 0 .6 -1.1 .5 -.8 .2zM926.7 679.5l-1.3 -.6 0 -.6 .9 -.5 .9 -.2 2.2 0 .6 .2 .8 .5 0 .6 -.3 .2 -.6 .3 -1 .2zM697 669.6l2 .4 1.6 -.4 .5 -.6 .2 -.5 -.2 -.6 -.7 -.5 -.9 -.2 -1.1 0 -1.1 .2 -1.2 .5 -.4 .6 .3 .5zM880.8 669.6l1.5 .4 1.1 -.2 1.1 -.3 .9 -.5 .3 -.5 -.5 -.6 -.7 -.3 -1.6 -.5 -1.1 .1 -.8 .2 -.7 .5 -.2 .6 .1 .5zM788.7 567.4l-5.4 -2.9 -1.7 -.5 -1.1 -.1 -2.2 .4 -3.8 1.8 -1.6 .6 -1.7 .3 -1.1 -.1 -2.2 -.8 -4.9 -2.8 -2.2 -.7 -1.1 0 -1.1 .3 -3.8 1.6 -1.6 .5 -1.7 .1 -1.1 -.1 -1.1 -.3 -1.6 -.7 -2.7 -1.6 -1.8 -1.7 -.3 -.5 -.1 -.6 .3 -.5 .5 -.6 2.4 -1.6 2.2 -1 2.2 -.5 1.7 0 1.6 .2 4.9 1.6 2.2 .3 1.7 -.4 4.9 -2 2.7 -.6 1.7 -.1 1.6 .3 4.9 1.5 2.2 .4 2.2 -.3 4.4 -1.6 1.6 -.4 1.7 -.2 1.6 .1 2.3 .5 4.3 1.6 2.2 .3 2.2 -.3 4.9 -1.6 1.6 -.3 1.7 .1 2.7 .6 4.9 2 1.7 .4 2.2 -.3 4.9 -1.6 1.6 -.2 1.7 0 2.7 .7 2.7 1.3 1.5 1.1 .5 .6 .2 .5 0 .6 -.3 .5 -1.1 1.1 -2.4 1.7 -2.2 1.1 -1.6 .4 -1.1 .1 -1.7 -.2 -1.6 -.5 -3.8 -1.5 -1.1 -.3 -1.1 0 -2.2 .7 -4.9 2.8 -2.2 .8 -1.1 .1 -1.7 -.3 -5.4 -2.4 -2.2 -.4 -1.1 .1 -1.1 .3 -4.9 2.6 -1.7 .7 -1.6 .1zM729.6 562.5l-1.4 -.7 -1.2 -1.1 -.3 -.5 0 -.6 .1 -.5 .4 -.6 .7 -.5 1 -.6 1.8 -.4 1.7 -.1 2.2 .5 1.4 .6 1.5 1.1 .3 .5 -.1 .6 -.4 .5 -1.6 1.1 -2.2 .9 -2.2 .1zM847.3 562.5l-1.7 -.7 -1.5 -1.1 -.4 -.5 -.1 -.6 .3 -.5 1.5 -1.1 1.9 -.8 2.2 -.3 1.6 .2 1.7 .5 1.3 .9 .4 .6 .2 .5 -.1 .6 -.2 .5 -1.3 1.1 -2 .8 -1.6 .2z"/>
<path stroke="#eea522" d="M768.5 862.2l-5.5 -.9 -2.2 -.2 -2.2 0 -5.4 .7 -2.8 .1 -2.2 -.3 -5.4 -1.1 -2.2 -.2 -2.2 .1 -4.9 .7 -2.8 0 -2.7 -.4 -4.9 -1.2 -2.2 -.3 -2.2 .1 -4.9 .7 -3.3 0 -2.7 -.6 -1.6 -.5 -1.8 -1.1 -.3 -.6 .2 -.5 .7 -.5 2.2 -1.1 1.6 -.4 1.7 -.3 2.2 -.1 6.5 .8 1.7 0 2.2 -.3 4.9 -1.4 2.7 -.5 2.8 0 4.9 .7 2.2 .1 2.2 -.2 4.9 -1.2 2.7 -.5 2.8 .1 5.4 .8 2.2 .1 2.2 -.3 5.5 -1.2 2.2 -.2 2.7 .1 4.9 .9 2.2 .2 2.2 -.2 4.9 -1 2.8 -.3 2.7 .2 4.9 1 2.8 .3 2.2 -.2 6 -1 3.3 .1 6 1.3 2.2 .3 2.2 -.1 5.4 -.8 2.8 -.1 2.7 .5 4.9 1.2 2.2 .2 2.2 -.1 5 -.7 2.7 0 3 .5 5.2 1.5 2.2 .3 2.2 -.2 4.9 -.7 3.3 .1 2.2 .5 1.7 .7 1.7 1.1 .3 .5 -.3 .6 -.7 .5 -1.1 .6 -2.2 .7 -2.2 .4 -2.2 0 -6 -.8 -2.2 0 -2.2 .3 -4.3 1.1 -2.8 .5 -3.1 0 -5.1 -.7 -2.2 -.1 -2.7 .3 -4.9 1 -2.8 .3 -2.7 -.1 -4.4 -.6 -2.2 -.1 -2.2 .1 -5.4 .9 -2.8 .3 -2.7 -.2 -4.9 -.7 -2.2 -.1 -2.2 .1 -4.9 .8 -2.8 .2 -2.7 -.1 -4.9 -.8 -2.2 -.2 -2.2 .1 -6.6 .8zM690.8 858l-.6 -.2 -.3 -.6 .4 -.5 2.1 -.4 2.2 .4 .6 .5 -.6 .6 -2.2 .4zM887.3 858l-.6 -.2 -.5 -.6 .6 -.5 2.1 -.4 1.6 .2 .5 .2 .5 .5 -.4 .6 -1.7 .4zM790.9 837l-2.2 -.1 -5.4 -.9 -2.8 -.2 -2.2 .1 -5.4 .9 -2.8 0 -2.2 -.2 -4.9 -.9 -2.2 -.2 -2.7 .2 -4.9 .7 -2.8 0 -2.2 -.2 -5.4 -1.1 -2.2 -.2 -2.2 .1 -4.9 .7 -2.8 0 -2.7 -.4 -5.5 -1.5 -2.2 -.2 -2.2 .1 -5.4 .8 -1.7 -.1 -1.6 -.3 -1.7 -.5 -1.9 -1 -1.6 -1.1 -3.6 -2.8 -1.1 -.6 -.5 0 -1.1 .1 -2.4 1.1 -1.4 .5 -1.1 0 -1.1 -.5 -1.1 -1.2 -2.1 -4.2 -.3 -1.7 .2 -1.1 .3 -.5 .8 -.8 1.1 -.5 1.1 -.3 1.1 0 1.9 .5 4.1 1.7 1.6 0 2.2 -.9 5.5 -3.2 1.6 -.7 1.7 -.3 2.2 .2 5.4 1.5 1.7 0 2.2 -.5 2.2 -1.1 1.5 -1.1 1.2 -1.1 .6 -1.1 -.2 -1.1 -.9 -1.1 -1.5 -1.1 -2.1 -1 -1.9 -.7 -2.2 -.2 -1.7 0 -4.3 .5 -2.2 -.1 -2.2 -.4 -5.5 -1.9 -2.7 -.5 -2.2 -.1 -4.9 .2 -2.2 0 -2.2 -.3 -5.5 -1.3 -2.7 -.5 -2.2 -.1 -5.5 .2 -2.2 -.1 -2.7 -.4 -5.5 -1.1 -2.7 -.3 -6.6 .1 -2.7 -.1 -3.3 -.5 -6.6 -1.5 -2.2 -.1 -4.9 .3 -2.2 0 -2.7 -.4 -1.7 -.8 -.4 -.3 -.1 -.6 .4 -.5 1 -.6 2.4 -.6 2.8 -.2 6.5 .3 2.2 -.3 5.5 -1.4 2.9 -.5 2.6 -.2 5.4 .2 2.2 -.1 2.2 -.3 5.5 -1.5 2.7 -.5 2.2 -.1 5.5 .2 2.7 -.3 2.8 -.8 2.8 -1.5 1.2 -1.1 .3 -.6 0 -.5 -.8 -1.1 -1.6 -1.1 -2.3 -1.1 -2.4 -.7 -2.7 -.2 -4.9 .3 -2.8 -.1 -2.7 -.5 -5.5 -1.5 -2.7 -.4 -2.2 0 -4.4 .3 -2.7 -.1 -3.3 -.7 -3.9 -1.3 -2.1 -1.1 -.5 -.6 .4 -.5 .9 -.6 5.2 -2.5 3.3 -1.2 2.7 -.3 5.5 .1 2.2 -.5 1.9 -1 .9 -1.1 .2 -1.1 -.6 -1.1 -1.3 -1 -1.9 -.7 -2 -.2 -4.9 0 -2.2 -.2 -2.2 -.5 -5.4 -1.9 -2.8 -.6 -2.2 -.2 -6 .2 -3.3 -.4 -3.5 -1.1 -2.3 -1.1 -.7 -.5 -.1 -.6 .4 -.5 .9 -.6 2.6 -1.1 3.3 -.8 3.3 -.3 4.9 .2 2.2 0 2.7 -.5 5.5 -1.7 2.7 -.6 2.2 -.2 5.5 .1 2.7 -.4 1.5 -.7 .7 -.4 .7 -.7 .3 -.5 0 -.6 -.1 -.5 -.5 -.6 -.9 -.7 -1.7 -.7 -2.2 -.5 -6 0 -2.7 -.3 -7.1 -1.9 -2.8 -.4 -9.8 -.3 -2.8 -.4 -5.4 -1.1 -2.8 -.3 -7.1 0 -2.7 -.2 -4 -.8 -3.1 -1.1 -.9 -.6 -.1 -.5 .8 -.6 1.2 -.5 3.6 -1.1 2.5 -.5 2.7 -.2 7.7 0 2.2 -.3 5.4 -1.2 2.8 -.5 2.7 -.1 5.5 0 2.7 -.4 4.3 -1.2 6.2 -2.7 .4 -.6 -2 -1.1 -5.4 -2.2 -3.5 -.9 -2.7 -.3 -5.5 0 -2.7 -.2 -2.8 -.4 -5.4 -1.2 -2.2 -.3 -7.7 0 -2.7 -.2 -4 -.8 -5.1 -1.7 -1.2 -.5 .7 -.6 3.2 -1.1 3.8 -1.1 2.6 -.4 2.7 -.3 7.7 0 2.7 -.5 4.9 -1.2 2.8 -.5 2.7 -.2 4.9 0 2.8 -.3 3 -.9 2 -1.1 1 -1.1 .1 -.6 -.2 -.5 -1.1 -1.1 -1 -.6 -2.2 -.9 -2.2 -.5 -2.2 -.2 -4.9 0 -2.7 -.2 -7.7 -1.7 -2.7 -.4 -7.7 -.1 -2.7 -.2 -9.9 -2 -2.2 -.1 -4.4 .2 -2.1 -.1 -1.8 -.3 -1.4 -.6 -.5 -.5 .2 -.6 1 -.5 2.3 -.6 2.3 -.1 4.4 .2 2.2 -.1 2.2 -.4 5.5 -1.3 2.7 -.4 2.2 -.1 7.7 -.1 2.7 -.4 7.7 -1.7 2.7 -.2 4.9 -.1 2.2 -.2 1.7 -.4 1.6 -.6 2 -1.2 .5 -.5 .2 -.6 0 -.5 -.4 -.6 -1.2 -.9 -1.4 -.7 -3 -.8 -2.2 -.3 -4.9 0 -2.7 -.2 -7.7 -1.7 -2.7 -.4 -7.7 -.1 -2.7 -.2 -9.9 -1.9 -2.2 -.1 -4.9 .1 -2.2 -.1 -1.5 -.3 -1.6 -.6 -.7 -.5 0 -.6 .6 -.5 1.5 -.6 2.3 -.3 2.1 -.2 4.4 .2 2.2 -.1 10.4 -2 2.7 -.2 7.2 0 2.7 -.4 7.7 -1.7 9.3 -.4 1.7 -.3 1.7 -.6 1.2 -.5 1.5 -1.1 .3 -.6 .1 -.5 -.2 -.6 -.4 -.5 -2.1 -1.3 -1.6 -.6 -1.7 -.3 -2.2 -.3 -4.9 0 -2.7 -.2 -7.7 -1.7 -2.7 -.4 -7.7 -.1 -2.2 -.1 -2.8 -.5 -5.9 -1.4 -2.2 -.3 -7.9 .1 -2.5 -.5 -1.2 -.6 -.3 -.6 .5 -.5 1.3 -.5 1.9 -.4 2.1 -.1 4.4 .2 2.2 -.1 2.2 -.4 6 -1.4 2.2 -.3 2.7 -.2 7.2 0 2.7 -.4 7.7 -1.7 2.7 -.2 4.9 0 2.2 -.2 2.2 -.5 2.2 -.9 1.6 -1.1 .5 -.6 .2 -.5 -.1 -.5 -.4 -.6 -1.4 -1.1 -2 -.9 -2.2 -.6 -2.8 -.3 -4.9 0 -2.7 -.2 -2.2 -.4 -5.5 -1.4 -2.7 -.4 -7.7 0 -2.7 -.3 -4.5 -1 -4.9 -1.6 -.9 -.5 1 -.6 5.2 -1.6 4.1 -.9 2.7 -.2 7.7 0 2.2 -.3 5.4 -1.2 2.8 -.4 2.7 -.2 5.5 0 2.7 -.3 3.4 -.9 5.4 -2.2 2 -1.1 -.2 -.5 -6.2 -2.8 -4.4 -1.3 -2.7 -.3 -5.5 0 -2.7 -.1 -2.8 -.5 -5.4 -1.2 -2.2 -.3 -7.7 0 -2.7 -.2 -2.3 -.5 -3.6 -1.1 -1.3 -.5 -.8 -.5 0 -.6 .8 -.5 3.1 -1.1 4.1 -.9 2.7 -.2 7.1 0 2.8 -.3 5.4 -1.2 2.8 -.4 9.8 -.2 2.8 -.5 7.1 -1.8 2.7 -.3 6 -.1 2.2 -.4 1.7 -.7 .9 -.7 .4 -.5 .2 -.6 0 -.5 -.3 -.6 -.7 -.7 -1.1 -.6 -1.1 -.5 -2.7 -.5 -5.5 .2 -2.2 -.2 -2.7 -.6 -5.5 -1.7 -2.7 -.5 -2.2 -.1 -4.9 .3 -3.3 -.3 -3.1 -.8 -2.7 -1.1 -.9 -.5 -.5 -.6 .1 -.5 .6 -.6 2.2 -1.1 3.7 -1.1 3.3 -.4 6 .1 2.2 -.1 2.2 -.5 6 -2 2.2 -.5 2.2 -.3 4.4 .1 2.3 -.2 1.7 -.5 1.6 -1.1 .7 -1.1 -.2 -1.1 -.8 -1.1 -1.9 -1.1 -2.3 -.5 -5.5 .1 -2.7 -.4 -3.3 -1.1 -5.1 -2.5 -.9 -.5 -.5 -.6 .4 -.5 2.1 -1.1 4 -1.5 3.3 -.6 2.7 -.1 4.4 .3 2.2 0 2.7 -.4 5.5 -1.5 2.7 -.5 2.2 -.1 5.5 .3 2.7 -.2 2.3 -.7 2.3 -1 1.6 -1.1 .8 -1.1 .1 -.6 -.3 -.5 -1.1 -1.1 -2.9 -1.6 -2.8 -.8 -2.7 -.3 -5.5 .2 -2.2 -.1 -2.2 -.4 -6 -1.6 -2.7 -.4 -6.6 .2 -2.7 -.2 -2.8 -.4 -5.4 -1.4 -2.2 -.4 -2.2 -.1 -4.9 .4 -2.8 -.2 -2.2 -.6 -1.1 -.5 -.5 -.6 .1 -.5 .6 -.6 2 -.7 2.8 -.4 6.5 .4 2.2 -.1 7.1 -1.6 2.8 -.4 2.7 -.1 5.5 .2 2.2 -.2 7.6 -1.5 2.2 -.2 2.2 -.1 5.5 .2 2.2 -.1 2.7 -.5 5.5 -1.3 2.2 -.3 2.2 -.1 4.9 .3 2.2 -.1 2.7 -.5 5.5 -1.9 2.2 -.5 2.2 0 3.8 .4 2.2 .1 2.2 -.2 2.2 -.8 1.7 -.9 1.5 -1.1 1 -1.1 .2 -1.1 -.6 -1.1 -1.1 -1.1 -1.6 -1.1 -2.2 -1.1 -1.7 -.5 -1.6 0 -1.7 .2 -4.3 1.3 -1.7 .2 -1.1 -.1 -1.6 -.4 -1.5 -.7 -5.1 -3 -2.2 -.9 -1.6 0 -4.3 1.7 -2.3 .5 -1.1 -.1 -1.1 -.4 -1.1 -.8 -.5 -.8 -.2 -.6 0 -1 .5 -1.7 1.9 -3.7 1.1 -1.3 1.1 -.4 1.1 0 1.1 .3 2.7 1.2 1.1 .2 .5 -.1 1.1 -.5 3.5 -2.8 1.7 -1.1 2.2 -1.1 1.8 -.5 1.8 -.3 1.6 .1 4.9 .7 2.2 .1 2.2 -.3 5.5 -1.4 2.7 -.4 2.8 0 4.9 .7 2.2 .1 2.2 -.2 5.4 -1.1 2.2 -.3 2.8 .1 4.9 .7 2.7 .2 2.2 -.2 4.9 -.9 2.2 -.3 2.8 .1 5.4 .8 2.2 .2 2.2 -.1 5.5 -.9 2.2 -.2 2.2 .1 5.4 .9 2.8 .2 2.7 -.2 4.9 -.8 2.8 -.1 2.2 .3 4.9 .9 2.2 .2 2.7 -.2 4.9 -.7 2.8 -.1 2.2 .3 5.4 1.1 2.2 .2 2.2 -.1 5.5 -.7 2.2 0 2.7 .4 5.5 1.4 2.2 .3 2.2 -.1 5.4 -.8 1.7 .1 1.6 .3 1.7 .5 2 1 1.6 1.1 3.5 2.8 1.1 .5 .5 .1 1.1 -.1 2.8 -1.3 1.1 -.3 1.1 0 1 .4 1.1 1.2 2 3.8 .4 1.7 0 1 -.2 .7 -.8 1 -.8 .5 -1.1 .4 -1.1 .1 -2.3 -.5 -4.3 -1.8 -1.6 .1 -2.2 1 -5 2.9 -1.6 .7 -1.6 .4 -1.1 .1 -1.6 -.2 -5.5 -1.5 -1.8 0 -2.1 .5 -2.1 1.1 -1.6 1.1 -1.2 1.1 -.5 1.1 .2 1.1 .9 1.1 1.5 1.1 2.2 1.1 1.7 .5 2.2 .3 2.2 -.1 3.9 -.4 2.1 0 2.2 .5 5.5 1.8 2.7 .6 2.2 .1 5 -.3 2.1 .1 2.8 .4 4.9 1.2 2.7 .5 2.2 .1 5.5 -.2 2.2 .1 2.7 .3 7.1 1.4 2.2 .2 5.5 -.2 2.7 0 2.8 .4 7.1 1.6 2.2 .2 4.9 -.4 2.2 .1 2.7 .4 1.6 .6 .6 .6 .1 .5 -.5 .6 -1.1 .5 -2.3 .6 -2.7 .2 -6.6 -.3 -2.2 .3 -5.6 1.4 -3.2 .5 -2.1 .2 -7.2 -.2 -2.7 .4 -5.5 1.4 -2.7 .6 -2.2 .1 -5.5 -.2 -2.7 .3 -2.7 .8 -2.9 1.6 -1.2 1.1 -.2 .5 0 .6 .8 1.1 1.6 1.1 2.4 1 2.2 .7 2.7 .2 5.5 -.3 2.2 .1 2.7 .5 5.5 1.5 2.7 .4 2.2 0 4.8 -.3 2.3 .1 3.3 .6 4.1 1.5 2.1 1.1 .3 .5 -.4 .6 -.9 .5 -5.2 2.5 -3.3 1.2 -2.7 .3 -5.5 -.1 -2.2 .5 -1.9 1.1 -.9 1.1 -.1 1.1 .6 1.1 1.6 1.1 1.8 .5 1.7 .2 4.9 -.1 2.2 .3 2.2 .5 6 2 2.2 .5 2.7 .1 5.5 -.1 3.3 .4 3.7 1.1 2.3 1.1 .6 .6 .1 .5 -.5 .6 -.9 .5 -2.7 1.1 -3.2 .8 -3.2 .3 -5 -.3 -2.2 .1 -2.7 .5 -5.5 1.7 -2.7 .6 -2.2 .2 -4.9 -.2 -2.8 .4 -2.1 .9 -1.1 .9 -.4 .7 -.1 .5 .2 .6 .5 .5 .9 .7 1.6 .7 2.2 .4 6 .1 2.7 .3 7.2 1.8 2.7 .5 9.9 .2 2.7 .4 5.5 1.2 2.7 .3 7.1 0 2.7 .2 4.2 .9 3 1.1 .9 .5 0 .6 -.8 .5 -1.3 .5 -3.7 1.1 -2.3 .5 -2.7 .2 -7.7 0 -2.1 .3 -5.5 1.2 -2.7 .5 -2.8 .1 -4.9 0 -3.3 .3 -4.3 1.3 -6.3 2.8 -.2 .5 2.1 1.1 5.4 2.2 3.3 .9 2.7 .3 6.1 0 2.2 .1 2.7 .5 5.5 1.2 2.7 .3 7.1 0 2.7 .2 4.2 .9 5.1 1.6 1.1 .6 -.9 .5 -5 1.6 -4.5 1 -2.7 .3 -7.7 0 -2.7 .4 -4.9 1.3 -2.7 .5 -2.8 .2 -4.9 0 -2.7 .3 -2.2 .6 -2 .9 -1.5 1.1 -.3 .6 -.1 .5 .2 .5 .4 .6 1.7 1.1 2.1 .8 2.2 .6 2.2 .2 4.9 0 2.8 .2 7.6 1.7 2.7 .4 7.7 0 2.7 .2 9.9 2.1 2.2 .1 4.4 -.2 2.2 .1 1.9 .4 1.3 .5 .5 .5 -.3 .6 -1 .5 -2.4 .6 -2.2 .1 -6.1 -.2 -2.1 .3 -5.9 1.4 -2.9 .5 -2.2 .1 -7.7 .1 -2.7 .4 -7.6 1.7 -2.8 .2 -4.9 0 -2.2 .3 -1.6 .4 -1.7 .6 -2 1.2 -.5 .5 -.2 .6 .1 .5 .4 .6 1.5 1.1 1.1 .5 1.7 .6 1.7 .3 9.4 .4 7.6 1.7 2.7 .4 7.7 .1 2.7 .2 9.9 1.9 8.8 0 2.3 .4 1.4 .6 .7 .5 -.1 .6 -.7 .5 -1.5 .6 -1.6 .3 -2.2 .1 -4.9 -.1 -2.2 .1 -9.9 1.9 -2.7 .2 -7.7 .1 -2.7 .4 -7.6 1.7 -2.8 .2 -4.9 0 -2.2 .3 -3 .8 -1.4 .7 -1.2 .9 -.3 .6 -.1 .5 .3 .6 .4 .5 2 1.2 1.7 .6 1.6 .4 2.2 .2 4.9 .1 2.8 .2 7.6 1.7 2.7 .4 9.9 .2 2.7 .4 5.5 1.3 2.2 .4 2.2 .1 4.4 -.2 2.3 .1 2.4 .6 1 .5 .1 .6 -.5 .5 -1.4 .6 -1.7 .3 -2.2 .1 -4.4 -.2 -2.2 .1 -9.9 2 -2.7 .2 -7.7 .1 -2.7 .4 -7.6 1.7 -2.8 .2 -4.9 0 -2.2 .2 -2.2 .5 -2.2 .9 -1 .6 -1.1 1.1 -.1 .5 .1 .6 1 1.1 2 1.1 3 .9 2.7 .3 4.9 0 2.8 .2 2.7 .5 4.9 1.2 2.7 .5 2.2 .1 5.5 -.1 2.7 .2 2.7 .5 3.7 1.1 3.2 1.1 .8 .6 -1.2 .5 -5.2 1.7 -4 .8 -2.7 .2 -5.5 -.1 -2.2 .1 -2.1 .3 -5.5 1.2 -2.7 .4 -2.2 .2 -6.1 0 -2.7 .3 -3.5 .9 -5.3 2.2 -2 1.1 .3 .6 6.3 2.7 4.2 1.2 3.3 .4 4.9 0 2.8 .1 2.7 .5 5.5 1.2 2.1 .3 7.7 0 2.7 .2 2.6 .5 3.5 1.1 1.3 .5 .7 .6 -.1 .5 -2.3 1.1 -2.4 .7 -2.7 .6 -3.3 .3 -7.1 0 -2.7 .3 -5.5 1.1 -2.7 .4 -9.9 .3 -2.7 .4 -7.2 1.9 -2.7 .3 -6 0 -2.2 .5 -1.6 .7 -1 .7 -.4 .6 -.2 .5 .1 .6 .8 1.1 .8 .5 1.5 .6 2.7 .5 5.5 -.1 2.2 .2 2.7 .6 5.5 1.7 2.7 .5 2.2 0 5.5 -.2 2.7 .3 3.3 .8 2.7 1.1 .9 .6 .4 .5 -.1 .6 -.7 .5 -2.3 1.1 -3.6 1.1 -3.3 .4 -5.5 -.2 -2.7 .2 -2.2 .5 -6 2 -2.2 .5 -2.2 .2 -4.9 0 -2 .2 -1.6 .6 -1.5 1.1 -.6 1.1 .1 1.1 .9 1.1 1.9 1 2.2 .5 5.5 -.1 2.7 .3 3.3 1.1 5.3 2.6 .8 .6 .4 .5 -.4 .6 -2.2 1.1 -3.9 1.4 -3.3 .6 -2.1 .1 -5 -.3 -2.2 0 -2.7 .4 -5.5 1.5 -2.7 .5 -2.2 .1 -5.5 -.3 -2.7 .2 -2.4 .7 -2.3 1.1 -1.5 1.1 -.8 1.1 0 .5 .3 .6 1.2 1.1 2.8 1.4 2.7 .9 2.7 .3 5.5 -.2 2.2 .1 2.7 .5 5.5 1.5 2.7 .4 7.2 -.2 2.5 .2 2.9 .5 5.5 1.4 2.2 .3 6.6 -.3 2.7 .2 2.4 .6 1.1 .6 .4 .5 -.1 .6 -.5 .3 -1.6 .8 -2.8 .4 -2.2 0 -4.9 -.3 -2.2 .1 -6.6 1.5 -3.3 .5 -2.1 .1 -7.2 -.1 -2.7 .3 -5.5 1.2 -2.7 .3 -2.2 .1 -5.5 -.2 -2.2 .1 -2.7 .5 -4.9 1.2 -2.8 .4 -2.1 0 -5 -.2 -2.2 .1 -2.7 .5 -5.5 1.9 -2.2 .4 -2.1 .1 -3.9 -.4 -2.2 -.1 -2.2 .2 -1.9 .7 -2.1 1 -1.4 1.1 -.9 1.1 -.2 1.1 .6 1.1 1.1 1.1 1.6 1.1 2.2 1.1 2.1 .5 1.7 0 5.5 -1.5 1.6 -.2 1.1 .1 1.6 .4 1.7 .7 5.4 3.2 1.7 .7 1.6 0 4.2 -1.7 2.4 -.5 1.1 .1 1.2 .4 .8 .5 .7 1 .3 1.2 -.2 1.1 -.4 1.1 -1.9 3.7 -1.1 1.3 -1 .4 -1.1 0 -1.1 -.3 -2.8 -1.3 -1.1 -.1 -.5 .1 -1.1 .5 -3.5 2.8 -1.7 1.1 -1.9 1 -1.7 .5 -1.6 .3 -1.7 .1 -5.4 -.8 -2.2 -.1 -2.2 .3 -5.5 1.4 -2.7 .4 -2.2 0 -5.5 -.7 -2.2 -.1 -2.2 .2 -5.4 1.1 -2.2 .2 -2.8 0 -4.9 -.7 -2.7 -.2 -2.2 .2 -4.9 .9 -2.2 .3 -2.8 -.1 -4.9 -.8 -2.7 -.2 -2.2 .1 -5.5 .9zM738 815.1l1.5 .5 1.1 0 1.6 -.4 .9 -.6 .4 -.6 .2 -.5 0 -.6 -.3 -.5 -.5 -.6 -1.2 -.7 -1.7 -.3 -1.6 .3 -1.7 .7 -.5 .6 -.2 .5 .1 .6 .4 .5zM839 815.1l1.2 .4 1.1 .1 1.6 -.3 1.4 -.7 1 -1.1 .1 -.6 -.3 -.6 -1.1 -.9 -1.1 -.4 -1.6 -.2 -1.7 .4 -1.1 .6 -.6 .6 -.2 1.1 .1 .5 .4 .6zM632.8 778l-1.1 -.3 -.8 -.3 -.2 -.6 .7 -.5 1.9 -.4 2.2 .2 .8 .2 .9 .5 -.5 .6 -2 .5zM946.9 777.9l-2.2 -.5 -.5 -.6 .9 -.5 2.4 -.4 2.2 .3 .9 .6 -.1 .6 -.8 .4 -1.1 .2zM593.4 718.9l-.6 -.1 -1.1 -.5 .7 -.6 2 -.1 2.1 .1 1.3 .6 -2.1 .5zM985.8 718.8l-2.3 -.5 1.3 -.6 2.6 -.1 1.6 .1 .6 .6 -1.2 .5zM592.8 639.5l-1.1 -.5 1 -.6 2.3 -.1 1.6 .3 1.3 .4 -1.6 .5 -1.9 .1zM985.2 639.5l-1.7 -.5 1.8 -.6 2.7 -.1 .7 .1 .9 .6 -.8 .5 -1.4 .1zM631.7 581l-1 -.6 .1 -.5 1.2 -.6 2.4 -.1 1.6 .4 .8 .3 .4 .5 -1 .6 -2.3 .3zM945.3 581l-1.1 -.6 .4 -.5 2.3 -.7 2.5 .1 1.1 .6 .1 .5 -.7 .6 -1.9 .3zM737.8 545.9l1.7 .4 1.6 -.1 1.1 -.4 1.1 -.9 .4 -.6 0 -.5 -.1 -.6 -.8 -.9 -1.1 -.5 -1.1 -.2 -1.7 .1 -1.1 .5 -1.4 1 -.3 .6 -.1 .5 .2 .5 .5 .6zM839.4 545.9l1.3 .4 1.1 0 1.7 -.3 1.1 -.6 .6 -.6 .2 -.5 -.1 -.5 -1 -1.1 -.9 -.6 -1.6 -.5 -1.1 0 -1.6 .4 -.9 .7 -.4 .5 -.1 .6 0 .5 .3 .5 .5 .6zM769.6 506l-6.6 -1.4 -2.2 -.2 -2.2 .1 -5.4 .8 -2.8 0 -2.7 -.4 -4.9 -1.2 -2.2 -.2 -2.2 .1 -4.9 .6 -2.8 .1 -2.7 -.5 -4.9 -1.4 -2.2 -.4 -2.2 .1 -5.5 .8 -3.3 -.1 -2.2 -.6 -1.5 -.6 -1.8 -1.1 -.3 -.5 .2 -.6 .7 -.5 1.1 -.6 2.2 -.7 2.2 -.4 2.2 -.1 6 .8 2.2 .1 2.2 -.3 4.9 -1.2 2.2 -.4 3.3 0 4.9 .6 2.2 .1 2.7 -.3 4.9 -.9 2.8 -.3 2.7 .1 4.4 .6 2.2 .1 2.2 -.1 5.4 -1 2.8 -.2 2.7 .1 4.9 .7 2.2 .2 2.2 -.2 4.9 -.7 2.8 -.3 2.7 .2 4.9 .8 2.8 .2 2.2 -.2 6 -.8 3.8 .2 5.5 .9 2.2 .2 2.2 -.1 5.4 -.6 2.8 -.1 2.6 .3 5 1 2.2 .2 2.2 -.1 5 -.6 2.7 0 3.3 .5 4.9 1.2 2.2 .2 1.6 -.1 5 -.7 3.6 .1 2.4 .4 1.7 .6 1.1 .6 .6 .5 .3 .6 -.3 .5 -.7 .6 -2.2 1 -1.6 .4 -1.7 .3 -2.2 .1 -2.1 -.2 -3.9 -.6 -2.2 0 -2.2 .3 -4.9 1.4 -2.7 .5 -2.7 -.1 -5 -.7 -2.2 0 -2.2 .2 -4.9 1.2 -2.7 .4 -2.8 0 -5.4 -.8 -2.2 -.1 -2.2 .3 -5.5 1.2 -2.2 .2 -2.2 -.1 -5.4 -.9 -2.2 -.2 -2.2 .2 -4.9 1 -2.8 .3 -2.2 -.2 -5.4 -1.1 -2.8 -.2 -2.2 .2 -5.4 .9zM690.8 500.6l-.3 -.1 -.6 -.5 .3 -.6 1.7 -.4 1.1 0 1.1 .2 .6 .2 .4 .6 -.6 .5 -2.1 .4zM887.3 500.6l-.4 -.1 -.7 -.5 .4 -.6 2.3 -.4 1.6 .2 .7 .2 .3 .6 -.6 .5 -2 .4z"/>
<path stroke="#e8751c" d="M769 977.7l-2 -.6 -.4 -.6 .7 -.5 2.3 -.6 2.9 0 2.4 .6 .7 .5 -.4 .6 -1.8 .5 -1.1 .1zM787.6 977.6l-1.7 -.5 -.4 -.6 .7 -.5 1.8 -.6 1.3 -.1 2.2 -.1 1.8 .2 1.9 .6 .6 .5 -.4 .6 -1.5 .5 -1.9 .3 -2.2 0zM808.4 977.7l-2.2 -.6 -.4 -.6 .7 -.5 2.4 -.6 2.9 0 2.3 .6 .6 .5 -.4 .6 -1.5 .5 -1.1 .1zM750.4 977.1l-1 -.6 .5 -.2 1.1 -.2 1.6 .1 .7 .3 -.8 .6zM829.2 977.1l-.5 -.1 -.7 -.5 1.2 -.4 1.1 0 1.6 .4 -.8 .6zM766.8 951.4l-6.5 -.5 -9.9 .4 -9.8 -.9 -9.3 .4 -2.8 -.2 -7.6 -1.1 -2.2 0 -5.5 .3 -3.3 -.2 -2.3 -.4 -1.8 -.6 -2.4 -1.1 -.6 -.5 -.1 -.6 .5 -.5 .9 -.6 2.7 -1.1 2 -.5 3.9 -.3 7.6 .3 2.2 -.2 7.7 -1.1 2.7 -.1 7.7 .4 10.4 -.9 9.3 .5 10.4 -.8 9.8 .5 9.9 -.6 9.8 .6 9.3 -.5 4.4 .2 7.1 .6 7.1 -.5 2.8 0 9.8 .9 9.9 -.3 2.7 .2 5.5 .9 2.2 .2 7.1 -.3 3.3 .1 2.2 .5 2.5 .8 2.1 1.1 .5 .5 -.1 .6 -.7 .5 -1 .6 -1.3 .5 -2.6 .7 -2.2 .4 -2.2 .1 -7.6 -.3 -9.9 1.2 -2.7 .1 -7.7 -.4 -10.4 .9 -9.3 -.4 -10.4 .7 -9.8 -.5 -9.9 .6 -9.8 -.6 -9.3 .5zM769.6 924.5l-8.2 -.5 -10.4 .3 -9.9 -.7 -9.3 .2 -10.9 -.8 -9.9 .2 -9.8 -.9 -10.4 .1 -9.9 -.9 -9.8 .1 -9.9 -.9 -9.8 0 -9.9 -1 -10.8 -.1 -10 -1.5 -6.6 .2 -2.1 -.1 -1.7 -.2 -1.5 -.6 -.1 -.5 .9 -.6 1.8 -.3 2.2 -.2 7.1 .2 7.6 -1.3 3.4 -.4 9.3 .1 9.8 -1.2 10.4 0 11 -1.2 9.3 .1 9.8 -1.1 9.9 .1 9.8 -1.1 10.4 .1 9.9 -1.1 9.8 .3 7.7 -1 2.7 -.1 9.3 .5 9.9 -1 2.2 0 7.6 .6 2.8 -.1 7.1 -.7 2.2 0 5.4 .7 2.8 .1 7.6 -.6 2.8 0 9.3 1 9.3 -.5 2.7 .1 7.7 1 10.4 -.3 9.3 1.1 10.4 -.1 9.8 1.1 9.9 -.1 9.8 1.1 9.3 -.1 11 1.2 10.4 0 9.8 1.2 9.4 -.1 3.3 .4 7.6 1.3 2.2 0 4.4 -.2 2.7 .2 1.9 .3 .9 .6 -.2 .5 -.4 .2 -1.1 .4 -2.7 .3 -6.1 -.2 -2.2 0 -7.1 1.2 -3.2 .4 -9.4 -.1 -10.4 1.1 -9.8 0 -9.9 .9 -9.8 -.1 -9.3 .9 -11 -.1 -9.8 .9 -9.9 -.2 -10.9 .8 -9.3 -.2 -9.9 .7 -10.4 -.3 -9.3 .6 -9.8 -.5 -9.9 .6 -10.4 -.6 -7.6 .4zM790.4 898.8l-9.3 -.8 -10.4 .7 -9.9 -.8 -9.8 .6 -9.9 -1 -9.3 .5 -2.7 -.1 -5.5 -.6 -2.7 -.2 -9.9 .4 -9.8 -1 -7.7 .3 -2.7 0 -9.9 -1.2 -7.6 .3 -2.2 -.1 -2.7 -.3 -5 -1 -2.7 -.3 -7.1 .3 -2.8 -.2 -1.7 -.4 -1.6 -.5 -1.1 -.6 -1.5 -1.1 -.8 -1.1 -1.8 -3.8 -.8 -1 -1.1 -.8 -1.1 -.4 -1.1 -.2 -4.3 -.2 -1.7 -.4 -1.5 -.8 -.7 -.6 -.7 -1.1 -.1 -.5 .2 -.6 .6 -.5 1.5 -.6 1.8 -.2 5.5 .6 1.6 0 2.2 -.5 4.9 -1.5 2.8 -.6 3.3 -.2 5.4 .4 2.2 -.1 2.2 -.3 5.5 -1.3 2.7 -.4 2.2 -.1 6 .5 3.3 -.3 2.2 -.6 2 -.8 2.1 -1.1 .6 -.6 .2 -.5 -.3 -.6 -.8 -.5 -3.5 -1.7 -2.5 -.7 -2.7 -.4 -6.6 0 -2.7 -.1 -7.1 -1.4 -2.8 -.4 -9.3 -.2 -9.8 -1.3 -10.4 -.3 -10.4 -1.1 -9.3 -.2 -11 -1.1 -9.3 -.1 -10.4 -1.1 -9.8 -.2 -10.4 -1.4 -8.8 -.2 -1.2 -.2 -1.6 -.5 -.1 -.6 1.2 -.5 1.2 -.2 2.7 -.2 6.6 -.1 9.8 -1.4 11 -.3 10.4 -1.2 9.3 -.2 10.4 -1.2 10.4 -.3 9.8 -1.5 9.3 -.4 3.5 -.7 3.1 -1.1 2 -1.1 .4 -.5 -.1 -.5 -1.7 -1.1 -2.3 -.9 -2.7 -.8 -2.2 -.3 -2.2 -.2 -7.1 0 -9.8 -1.5 -2.8 -.2 -8.2 0 -9.8 -1.4 -9.9 -.1 -3.8 -.5 -7.1 -1.6 -2.2 0 -4.4 .1 -2.5 -.3 -.8 -.5 .4 -.6 1.8 -.5 7.7 -.2 10.4 -2.9 2.7 -.3 6 -.3 3.3 -.7 2.6 -1.1 1.3 -1.1 .3 -.6 0 -.5 -.3 -.5 -.6 -.6 -2.2 -1.2 -3.3 -.8 -8.7 -.6 -8.3 -1.7 -2.7 -.4 -7.1 -.2 -2.7 -.2 -2.8 -.4 -7.6 -1.9 -2.2 -.1 -5 0 -1.2 -.2 -1.2 -.5 .5 -.5 .9 -.2 2.1 -.2 3.9 .1 1.6 -.1 8.2 -1.7 2.8 -.4 9.8 -.3 10.4 -1.5 8.2 -.2 3.3 -.3 9.3 -2.1 6 -.5 2.2 -.3 1.1 -.6 .3 -.5 -.3 -.5 -1.2 -.6 -2.1 -.3 -5.4 -.5 -8.3 -1.8 -3.2 -.5 -9.3 -.4 -9.9 -1.3 -10.4 -.3 -9.8 -1.1 -9.9 -.3 -10.4 -1 -9.8 -.3 -3.5 -.4 -8.5 -1.6 -.5 -.6 1.5 -.2 6.9 -1.4 3.5 -.5 10.4 -.3 9.9 -1.1 9.8 -.3 10.4 -1.2 9.3 -.3 3.3 -.4 7.7 -1.3 8.7 -.6 2.8 -.5 1.5 -.6 .8 -.6 .3 -.5 0 -.6 -.6 -.5 -.9 -.6 -1.6 -.5 -1.7 -.4 -2.2 -.2 -7.1 -.4 -9.9 -1.5 -10.4 -.4 -10.4 -1.3 -9.8 -.2 -10.4 -1.3 -9.3 -.2 -3.9 -.6 -2.4 -.6 -1 -.6 0 -.5 1.1 -.6 1.7 -.5 2.8 -.6 3.3 -.3 8.2 -.2 10.4 -1.4 9.3 -.4 10.4 -1.6 7.7 -.4 2.7 -.4 3 -.7 2.2 -1.1 .6 -.6 .1 -.5 -.3 -.6 -.7 -.5 -2.2 -1 -3.8 -.8 -9.3 -.6 -10.4 -1.5 -9.3 -.4 -10.4 -1.2 -10.9 -.4 -9.9 -1.5 -8.2 -.2 -2.9 -.6 -.6 -.6 .6 -.5 2.9 -.6 8.2 -.3 9.9 -1.4 10.9 -.4 10.4 -1.2 9.3 -.3 10.4 -1.5 9.9 -.6 3.7 -.8 2.5 -1.1 .5 -.6 .2 -.5 -.4 -.6 -.8 -.5 -3.1 -1.1 -3.7 -.7 -8.8 -.5 -10.4 -1.4 -9.3 -.3 -10.9 -1.2 -9.9 -.3 -9.8 -1 -9.9 -.4 -5.7 -.8 -4.5 -1.1 -.2 -.5 2 -.6 5.4 -1.1 2.5 -.3 10.4 -.3 9.8 -1.1 9.9 -.3 10.9 -1.2 9.3 -.4 3.3 -.4 7.7 -1.3 8.2 -.6 2.7 -.6 1.4 -.6 .6 -.5 .1 -.6 -.4 -.5 -.6 -.4 -1.9 -.7 -1.9 -.4 -8.2 -.6 -10.4 -1.6 -9.9 -.4 -10.9 -1.2 -9.3 -.3 -10.4 -1.1 -9.9 -.3 -5.2 -.7 -7.4 -1.3 -4.5 -.3 5.1 -.4 6.9 -1.3 5.1 -.7 9.9 -.3 10.4 -1.1 9.8 -.4 10.4 -1.2 10.4 -.5 10.4 -1.9 5.5 -.5 2.2 -.3 1.6 -.7 .3 -.6 -.3 -.5 -1.2 -.6 -1.5 -.3 -6.6 -.6 -7.7 -1.5 -3.2 -.4 -9.9 -.5 -10.4 -1.2 -10.4 -.4 -9.3 -1 -10.4 -.3 -10.9 -1.5 -7.7 -.3 -1.2 -.2 -1.2 -.5 .5 -.6 2.4 -.4 7.7 -.3 10.4 -1.4 10.4 -.4 9.3 -1 10.4 -.4 10.4 -1.2 10.4 -.5 9.9 -1.9 7.1 -.8 1.6 -.5 .6 -.5 -.1 -.5 -1 -.6 -1.1 -.2 -6.6 -.7 -7.7 -1.6 -3.2 -.4 -9.9 -.5 -10.4 -1.2 -10.4 -.4 -9.8 -1 -10.4 -.4 -9.9 -1.3 -9.3 -.4 -1.9 -.6 -.1 -.6 1.6 -.5 .9 -.1 9.4 -.5 9.8 -1.3 10.4 -.3 9.3 -1 10.4 -.4 10.4 -1.2 9.9 -.5 3.2 -.5 7.7 -1.5 7.1 -.8 1.5 -.7 .2 -.5 -.6 -.6 -1.9 -.5 -6.8 -.7 -7.2 -1.5 -3.2 -.5 -9.9 -.4 -10.4 -1.2 -10.4 -.4 -9.3 -1 -10.4 -.4 -9.8 -1.4 -8.8 -.4 -1.8 -.3 -.6 -.6 1 -.5 1.4 -.2 8.8 -.4 9.8 -1.4 10.4 -.3 9.3 -1 10.4 -.4 10.4 -1.2 9.9 -.5 3.2 -.4 7.7 -1.5 6.6 -.6 1.3 -.3 1.3 -.6 .4 -.5 -.2 -.5 -1.1 -.6 -.6 -.2 -2.2 -.3 -6.6 -.7 -9.3 -1.7 -10.4 -.5 -10.4 -1.3 -10.4 -.3 -9.8 -1.1 -10.4 -.4 -4.4 -.6 -7.1 -1.4 -5 -.2 4.4 -.4 9.3 -1.7 3.3 -.4 9.9 -.3 10.4 -1.1 9.3 -.2 10.9 -1.2 10.4 -.5 9.9 -1.5 8.7 -.7 2.2 -.6 1.7 -.7 .4 -.6 -.1 -.5 -.5 -.6 -1.5 -.7 -2.7 -.6 -8.2 -.6 -7.7 -1.2 -3.3 -.4 -9.3 -.4 -10.9 -1.2 -9.9 -.3 -9.8 -1.1 -10.4 -.4 -2.8 -.3 -4.9 -1 -2.1 -.5 -.1 -.6 4.5 -1.1 5.9 -.9 9.9 -.3 9.8 -1 9.9 -.3 10.9 -1.2 9.3 -.3 11 -1.5 8.2 -.4 3.5 -.7 3.2 -1 .8 -.6 .4 -.5 0 -.6 -.6 -.5 -2.3 -1.1 -3.9 -.9 -9.9 -.6 -10.4 -1.5 -9.3 -.3 -10.9 -1.3 -9.9 -.3 -10.4 -1.4 -8.2 -.3 -2.8 -.5 -.7 -.6 .5 -.5 1.9 -.6 1.1 -.1 8.2 -.3 9.9 -1.4 10.9 -.4 10.4 -1.2 9.3 -.4 10.4 -1.5 9.3 -.6 3.8 -.9 2.1 -.8 .8 -.6 .3 -.5 -.1 -.6 -.5 -.5 -.9 -.6 -2.8 -1 -2.7 -.5 -8.7 -.6 -11 -1.6 -9.3 -.4 -10.4 -1.4 -8.8 -.3 -3.8 -.4 -3.3 -.9 -1.1 -.5 -.2 -.6 1 -.5 1.7 -.6 4.1 -.7 9.9 -.3 10.4 -1.2 9.8 -.3 10.4 -1.2 10.4 -.4 9.9 -1.5 7.1 -.4 2.2 -.2 1.5 -.3 1.7 -.6 1 -.5 .5 -.6 .1 -.5 -.3 -.6 -.7 -.5 -1.6 -.7 -2.8 -.6 -8.7 -.5 -7.7 -1.3 -3.3 -.4 -9.3 -.3 -10.4 -1.2 -9.8 -.3 -9.9 -1.1 -10.4 -.3 -3.2 -.4 -8.4 -1.7 -.2 -.5 8.6 -1.7 3.8 -.4 9.3 -.2 10.4 -1.1 10.4 -.3 9.8 -1.1 10.4 -.3 9.9 -1.3 9.3 -.4 3.2 -.5 7.7 -1.7 6.6 -.6 1.6 -.4 1 -.4 .4 -.6 -.2 -.5 -1 -.6 -2.4 -.4 -6 -.4 -9.3 -2.1 -3.3 -.3 -8.2 -.2 -10.4 -1.6 -9.8 -.2 -3.3 -.5 -7.7 -1.6 -5.5 0 -2.1 -.2 -.8 -.1 -.6 -.6 1 -.5 1.4 -.2 5 0 2.2 -.2 7.6 -1.8 2.8 -.4 9.8 -.4 2.7 -.4 8.3 -1.7 8.7 -.6 3.3 -.8 2.1 -1.2 .6 -.5 .3 -.6 .1 -.5 -.3 -.6 -1.2 -1.1 -2.7 -1.2 -3.3 -.6 -6 -.3 -2.7 -.4 -10.4 -2.8 -7.7 -.2 -1.7 -.5 -.5 -.5 .6 -.6 2.7 -.4 4.4 .2 2.2 -.1 7.1 -1.5 3.8 -.5 9.9 -.1 9.8 -1.4 8.2 0 2.8 -.2 9.8 -1.5 9.3 -.2 2.8 -.5 2.9 -.9 2.4 -1.1 .7 -.5 .2 -.6 -.3 -.5 -.8 -.6 -2.5 -1.1 -2.6 -.7 -2.8 -.5 -9.3 -.4 -9.8 -1.5 -10.4 -.3 -10.4 -1.3 -9.3 -.1 -11 -1.2 -10.4 -.3 -9.8 -1.4 -6.6 -.1 -2.7 -.2 -.9 -.2 -1.4 -.5 0 -.6 1.4 -.5 1.4 -.2 8.8 -.2 10.4 -1.4 9.8 -.2 10.4 -1.1 9.3 -.2 11 -1 9.3 -.2 10.4 -1.1 10.4 -.3 9.8 -1.3 9.3 -.2 2.8 -.4 7.1 -1.4 2.7 -.2 6.6 0 2.7 -.4 2.3 -.6 3.6 -1.6 .8 -.6 .4 -.5 -.1 -.6 -.6 -.5 -2.1 -1.1 -2.6 -1.1 -1.7 -.4 -3.3 -.3 -6 .4 -2.2 0 -2.7 -.4 -5.5 -1.3 -2.2 -.3 -2.2 -.1 -5.4 .4 -3.3 -.2 -2.6 -.6 -5.6 -1.7 -1.7 -.3 -1.6 0 -5.5 .5 -1.6 -.1 -1.7 -.6 -.5 -.5 -.3 -.5 .1 -.6 .2 -.5 1.2 -1.1 1.5 -.9 1.7 -.5 4.3 -.2 1.1 -.1 1.1 -.5 1.1 -.7 .8 -1 1.7 -3.8 .9 -1.1 1.4 -1.1 1.1 -.5 1.5 -.6 1.9 -.4 2.8 -.2 7.1 .3 2.7 -.4 4.9 -.9 2.8 -.4 2.2 0 7.6 .3 9.9 -1.2 2.7 0 7.7 .3 9.8 -1 9.9 .4 2.7 -.2 5.5 -.6 2.7 -.2 9.3 .5 9.9 -.9 9.8 .6 9.9 -.9 10.4 .7 7.6 -.7 3.3 0 8.2 .7 2.8 0 4.9 -.5 2.7 -.2 9.9 .9 9.8 -.6 9.9 .9 9.3 -.5 2.7 .1 5.5 .7 2.7 .2 9.9 -.4 9.8 1 10.4 -.3 9.9 1.2 7.7 -.3 2.1 0 2.8 .3 4.9 1 2.7 .4 2.2 0 5 -.3 2.7 .2 2 .4 1.5 .6 1 .5 1.5 1.1 .8 1.1 1.8 3.8 .7 .9 1.1 .8 1.6 .6 3.9 .1 1.6 .2 1.7 .6 1 .7 1.1 1.1 .3 .5 0 .6 -.2 .5 -.6 .5 -1.6 .6 -1.7 .1 -5.5 -.5 -1.6 0 -2.2 .5 -5 1.5 -2.7 .6 -3.2 .2 -5.5 -.4 -2.2 .1 -2.7 .4 -5.5 1.3 -2.2 .3 -2.2 0 -5.5 -.4 -3.2 .2 -2.2 .6 -2.7 1 -2 1.1 -.6 .5 -.1 .6 .4 .5 .7 .6 3.6 1.6 2.3 .6 2.7 .4 6.6 0 2.7 .2 7.2 1.4 2.7 .4 9.3 .2 9.9 1.3 10.4 .3 10.3 1.1 9.9 .2 10.4 1 9.3 .2 10.4 1.1 9.9 .2 10.4 1.4 8.7 .2 1.5 .2 1.4 .5 0 .6 -1.4 .5 -.9 .2 -2.8 .2 -6.5 .1 -9.9 1.4 -10.4 .3 -10.9 1.2 -9.3 .1 -9.9 1.2 -10.9 .4 -9.9 1.5 -9.3 .4 -2.7 .5 -2.6 .7 -2.5 1.1 -.8 .6 -.4 .5 .2 .6 .8 .5 2.3 1.1 3 .9 2.7 .5 2.2 .1 7.1 .1 9.9 1.5 2.7 .2 8.2 0 9.9 1.4 9.8 .1 3.8 .5 7.2 1.5 2.1 .1 4.4 -.2 2.8 .4 .6 .6 -.5 .5 -1.8 .5 -7.6 .2 -10.4 2.9 -2.8 .3 -6 .3 -3.3 .7 -2.6 1.1 -1.3 1.1 -.2 .6 0 .5 .3 .6 .6 .5 2.1 1.1 3.3 .9 8.8 .6 8.2 1.7 2.7 .4 9.9 .4 2.7 .4 7.7 1.8 2.1 .2 5.5 0 1 .2 1 .5 -.6 .6 -.8 .1 -1.7 .2 -4.4 -.1 -1.6 .1 -7.7 1.6 -3.2 .5 -9.9 .2 -10.4 1.6 -8.2 .2 -2.7 .2 -9.9 2.2 -6 .4 -2.2 .4 -1.1 .6 -.3 .5 .4 .6 1 .4 2.2 .4 6 .6 7.7 1.7 3.3 .5 9.3 .4 9.8 1.3 10.4 .3 10.4 1.1 9.3 .2 10.4 1.1 9.9 .3 3.8 .4 8.5 1.7 -.2 .5 -8.4 1.7 -2.6 .3 -2.9 .2 -8.1 .2 -9.8 1.1 -9.3 .3 -11 1.2 -9.3 .3 -3.3 .4 -7.6 1.3 -8.8 .5 -2.7 .6 -1.6 .7 -.8 .5 -.3 .6 .1 .5 .6 .6 1 .5 1.7 .6 1.5 .3 2.1 .2 7.2 .4 9.8 1.5 10.4 .4 10.4 1.2 9.9 .3 10.4 1.2 9.8 .3 4.1 .7 1.8 .6 .9 .5 -.1 .6 -1.1 .5 -3.4 .9 -3.8 .4 -8.8 .3 -10.4 1.4 -9.3 .4 -10.4 1.6 -9.3 .6 -2.7 .5 -2.8 1 -.8 .6 -.6 .5 0 .6 .3 .5 .7 .6 2.1 .8 3.8 .9 9.3 .6 10.4 1.5 9.3 .4 10.4 1.2 11 .4 9.8 1.4 8.2 .3 1.1 .1 2 .6 .5 .5 -.7 .6 -2.9 .5 -8.2 .3 -9.8 1.4 -10.4 .3 -10.4 1.2 -9.9 .4 -10.4 1.5 -9.8 .6 -3.9 .9 -2.4 1.1 -.5 .5 -.1 .6 .4 .5 .9 .6 3.1 1 3.6 .6 8.2 .5 10.9 1.5 9.9 .4 10.4 1.1 9.8 .3 9.9 1 9.8 .3 6 .9 4.4 1.1 -.1 .6 -2 .5 -5 1 -2.7 .3 -10.4 .4 -9.9 1.1 -9.8 .3 -11 1.2 -9.3 .4 -2.7 .3 -8.2 1.3 -8.2 .6 -2.8 .7 -1.4 .6 -.5 .6 -.1 .5 .4 .6 1.6 .7 2.2 .6 8.8 .6 9.8 1.6 11 .5 10.4 1.2 9.3 .2 10.4 1.1 9.8 .3 3.3 .4 9.3 1.7 4.5 .4 -5 .2 -7.2 1.4 -4.3 .6 -10.4 .4 -9.9 1.1 -10.4 .3 -9.8 1.2 -11 .6 -9.3 1.7 -6.6 .7 -2.1 .3 -1.7 .8 -.3 .5 .5 .5 1.2 .6 1.3 .2 6.6 .7 7.7 1.4 3.3 .5 9.8 .5 11 1.2 9.8 .4 9.3 1 10.4 .3 9.9 1.4 8.7 .4 1.4 .2 1.1 .5 -.6 .6 -1.9 .3 -8.2 .4 -10.4 1.4 -9.8 .3 -9.9 1.1 -10.4 .4 -10.4 1.2 -9.8 .4 -3.3 .5 -7.1 1.5 -6.9 .7 -1.9 .5 -.6 .6 .2 .5 1.5 .7 7.1 .8 7.7 1.5 3.3 .5 10.4 .5 9.8 1.2 10.4 .4 9.3 1 10.4 .3 9.9 1.3 9.3 .5 1 .1 1.5 .5 0 .6 -2 .6 -2.7 .2 -6 .2 -10.4 1.3 -10.4 .4 -9.9 1 -10.4 .4 -10.4 1.2 -9.8 .5 -3.3 .5 -7.7 1.5 -6.6 .7 -1 .2 -1 .6 -.2 .5 .6 .5 1.6 .5 7.2 .8 7.4 1.5 3 .4 9.8 .5 10.4 1.2 10.4 .4 9.9 1.1 9.8 .3 10.4 1.4 8.2 .3 2 .4 .5 .6 -1.3 .5 -1.2 .2 -7.6 .3 -11 1.5 -10.4 .3 -9.3 1 -9.8 .4 -11 1.2 -9.8 .5 -3.3 .4 -7.7 1.5 -6.6 .6 -1.4 .3 -1.2 .6 -.4 .5 .3 .6 1.7 .6 2.1 .4 5.5 .5 10.4 1.9 11 .6 9.8 1.1 10.4 .4 9.9 1.1 10.4 .4 4.6 .6 6.9 1.3 5 .4 -4.5 .3 -7.3 1.3 -5.3 .7 -9.8 .4 -10.4 1.1 -9.3 .2 -10.4 1.2 -10.4 .4 -10.4 1.6 -8.2 .6 -1.9 .4 -2 .7 -.5 .4 -.4 .5 .1 .6 .6 .5 1.3 .6 2.8 .6 8.2 .6 10.9 1.7 9.3 .4 11 1.2 9.8 .3 9.9 1.1 10.4 .3 2.4 .3 5.5 1.1 1.9 .6 -.1 .5 -4.6 1.1 -5.7 .8 -9.8 .4 -9.9 1 -9.8 .3 -10.4 1.1 -9.9 .4 -10.4 1.4 -8.7 .5 -3.8 .7 -3 1.1 -.8 .5 -.4 .6 .1 .5 .6 .6 2.4 1.1 3.8 .8 9.8 .6 10.4 1.5 9.3 .3 10.4 1.2 11 .4 9.8 1.4 8.2 .2 3 .7 .6 .5 -.6 .6 -3 .6 -8.2 .3 -9.8 1.4 -11 .4 -10.4 1.2 -9.3 .4 -10.4 1.5 -9.3 .6 -3.8 .9 -2.2 .9 -.7 .5 -.3 .6 .2 .5 .5 .6 2.3 1.1 2.9 .7 2.7 .4 7.7 .4 10.4 1.6 9.3 .4 10.4 1.4 8.2 .2 3.3 .3 2.8 .6 1.8 .5 1 .6 .1 .5 -1 .6 -2.5 .6 -3.8 .6 -9.3 .2 -10.4 1.3 -9.9 .2 -10.4 1.3 -10.4 .4 -9.8 1.5 -7.2 .4 -2.1 .2 -1.7 .4 -1.6 .5 -1 .6 -.5 .5 -.1 .6 .4 .5 .8 .6 1.5 .6 2.7 .5 8.8 .6 7.6 1.3 3.3 .4 9.3 .3 11 1.2 9.3 .3 9.8 1.1 8.2 .2 2.8 .2 2.9 .4 6.9 1.4 1.5 .2 -.4 .6 -8.5 1.6 -3 .3 -10.4 .4 -10.4 1 -9.8 .3 -9.9 1.1 -10.4 .3 -9.8 1.3 -9.3 .4 -3.3 .5 -7.7 1.7 -6 .6 -2.1 .3 -1.1 .6 -.4 .5 .3 .5 1.1 .6 2.2 .3 6 .5 9.3 2.1 3.3 .3 8.2 .2 10.4 1.5 9.9 .3 2.7 .4 8.2 1.7 1.6 .1 4.4 -.1 1.7 .1 .9 .3 .5 .5 -1.2 .5 -.8 .2 -5.5 0 -2.1 .2 -7.7 1.8 -2.7 .4 -9.9 .4 -2.7 .4 -8.2 1.7 -8.8 .6 -3.3 .8 -2.2 1.2 -.5 .6 -.3 .5 0 .5 .3 .6 1.2 1.1 2.6 1.1 3.3 .7 6 .3 2.8 .3 10.4 2.9 1.6 .1 6 .1 1.9 .5 .4 .6 -.8 .5 -2.6 .3 -4.4 -.1 -2.1 0 -7.2 1.6 -3.8 .5 -9.8 .1 -9.9 1.4 -8.2 0 -2.7 .2 -9.9 1.5 -7.1 0 -2.2 .2 -2.7 .5 -3.1 .9 -2.3 1.1 -.7 .6 -.2 .5 .5 .5 1.9 1.1 3.2 1.1 3.4 .7 9.3 .4 9.9 1.5 10.9 .4 9.9 1.1 9.3 .2 10.4 1.2 10.9 .3 9.9 1.4 6.5 .1 2.8 .2 1.1 .2 1.2 .5 -.1 .6 -1.5 .5 -1.3 .2 -8.7 .2 -10.4 1.4 -9.9 .2 -10.4 1.1 -9.3 .1 -10.4 1.1 -9.9 .2 -10.3 1.1 -10.4 .3 -9.9 1.3 -9.3 .2 -2.7 .4 -7.2 1.4 -2.7 .1 -6.6 .1 -2.7 .4 -2.4 .6 -3.6 1.7 -.7 .5 -.3 .6 .1 .5 .7 .6 2.1 1.1 2.5 .9 2.2 .6 3.2 .2 5.5 -.5 2.2 .1 2.2 .3 5.5 1.3 2.7 .4 2.2 .1 5.5 -.4 3.2 .2 2.9 .6 4.8 1.5 2.2 .5 1.6 0 5.5 -.6 1.8 .2 1.5 .6 .6 .5 .3 .6 -.1 .5 -.3 .6 -1.2 1.1 -.9 .5 -1.7 .6 -1.6 .3 -3.9 .1 -1.6 .6 -1.1 .8 -.8 .9 -1.7 3.8 -.9 1.1 -1.5 1.1 -1.1 .6 -1.5 .5 -1.8 .4 -2.7 .2 -5 -.3 -2.2 0 -2.7 .4 -5 .9 -2.7 .3 -2.1 .1 -7.7 -.3 -9.9 1.2 -10.4 -.3 -9.8 1 -9.9 -.4 -2.7 .2 -5.5 .6 -2.7 .1 -9.3 -.5 -9.9 1 -9.8 -.6 -9.9 .8 -2.7 -.1 -4.9 -.5 -2.8 -.1 -7.1 .7zM698.2 872.6l1.3 .1 1.3 -.1 .7 -.6 -.3 -.5 -.6 -.3 -1.6 -.2 -1.8 .5 -.1 .5zM880.6 872.6l1.2 .1 1.4 -.1 1 -.6 0 -.5 -.2 -.1 -1.7 -.4 -1.6 .2 -.6 .3 -.2 .5zM697.3 485.8l1.7 .4 1.1 -.1 1.1 -.3 .3 -.6 -.3 -.3 -.3 -.2 -.8 -.2 -2.1 .2 -.9 .5zM880.2 485.8l1.6 .4 1.1 -.1 1.1 -.3 .3 -.6 -.9 -.5 -1.6 -.2 -1.4 .2 -.5 .5zM789.3 449.7l-8.2 -.8 -2.8 0 -7.1 .6 -2.2 -.1 -5.4 -.7 -2.8 -.2 -9.8 .5 -9.9 -1.1 -9.8 .3 -9.9 -1.1 -9.8 .1 -10.4 -1.1 -9.3 .1 -10.4 -1.1 -10.4 0 -9.9 -1.1 -10.4 0 -9.3 -1.1 -10.4 -.1 -2.4 -.3 -8 -1.3 -8.2 .1 -2.7 -.4 -1.1 -.5 .1 -.6 1.3 -.5 2.4 -.4 6.6 .2 2.2 0 6.5 -1.2 3.3 -.4 9.9 0 9.8 -1 10.4 0 9.3 -.9 11 0 9.8 -.9 9.9 .1 10.4 -.8 9.8 .2 9.9 -.8 9.8 .2 9.9 -.7 9.8 .3 9.3 -.6 10.4 .4 8.8 -.5 3.3 0 8.2 .5 10.4 -.4 9.3 .6 9.8 -.3 10.4 .7 9.3 -.2 9.9 .8 9.8 -.2 10.4 .8 10.4 0 9.9 .8 9.8 0 9.9 .9 10.6 0 9.1 1 10.4 0 2.7 .3 7.7 1.3 8.2 -.2 2.5 .4 1.3 .5 .1 .6 -1.1 .5 -2.2 .4 -2.2 .1 -4.4 -.3 -2.2 .1 -7.9 1.3 -2.5 .3 -9.9 0 -9.8 1.2 -10.4 0 -11 1.1 -9.3 0 -9.8 1.1 -9.9 -.1 -9.8 1.1 -9.9 -.1 -8.2 .9 -2.7 .2 -9.3 -.3 -9.9 1.1 -9.8 -.5 -9.3 1 -2.8 0 -7.6 -.6 -2.8 .1 -5.4 .6zM789.3 415.7l-8.8 -.6 -7.6 .5 -2.8 .1 -9.3 -.8 -9.8 .5 -10.4 -1 -7.7 .4 -2.7 0 -7.7 -1.2 -2.2 -.1 -8.7 .3 -2.8 -.3 -3.4 -1 -2.2 -1.1 -.5 -.6 .1 -.5 .5 -.6 2.4 -1.1 3.1 -.8 2.8 -.4 8.7 .3 9.9 -1.2 2.7 -.1 7.7 .4 10.4 -.9 9.8 .4 9.3 -.7 10.4 .5 8.2 -.5 3.3 -.1 8.8 .6 10.4 -.5 9.8 .7 9.4 -.4 10.3 .9 7.7 -.4 2.7 .1 9.9 1.2 6.6 -.3 2.7 .1 2.7 .4 2.7 .7 2.3 1.1 .6 .6 0 .5 -.5 .6 -.9 .5 -2.8 1.1 -2.3 .5 -2.4 .3 -8.7 -.3 -2.2 .2 -7.7 1.1 -2.7 0 -7.7 -.4 -10.4 1 -9.3 -.5 -9.8 .8 -2.8 -.1 -7.6 -.5 -8.2 .6zM770.1 381.8l-2.7 -.5 -.7 -.6 .2 -.5 1.6 -.6 3.3 -.2 1.8 .2 .9 .3 .7 .3 .3 .5 -.8 .6 -1.3 .3 -1.5 .2zM788.7 381.9l-2.4 -.6 -.7 -.6 .2 -.5 1.4 -.6 1.5 -.2 2.2 -.2 1.7 .2 1.5 .2 1.4 .6 .3 .5 -.7 .6 -2 .5 -1.1 .1zM809.5 381.8l-2.9 -.5 -.8 -.6 .3 -.5 1.8 -.6 3.3 -.2 1.7 .2 1 .4 .5 .2 .3 .5 -.8 .6 -1.1 .3 -1.6 .2zM749.9 380.9l-.4 -.2 .5 -.5 1.5 -.1 1.2 .1 .6 .5 -.7 .2 -1.6 .2zM828.1 380.7l.6 -.5 1.1 -.1 1.5 .1 .6 .5 -1 .3 -1.1 .1z"/>
<path stroke="#e34917" d="M748.8 1099.1l-7.7 -.4 -10.9 .2 -9.3 -.5 -9.9 .2 -10.4 -.6 -9.3 .2 -10.4 -.7 -7.6 .2 -3.3 -.1 -2.2 -.2 -6.6 -1.1 -.4 -.5 6.5 -1.1 2.7 -.3 3.3 -.1 7.6 .2 10.4 -.7 9.3 .1 10.4 -.6 9.9 .2 9.3 -.5 10.9 .2 9.9 -.4 9.8 .2 10.4 -.3 9.9 .2 9.8 -.3 9.3 .3 9.9 -.2 9.8 .3 9.9 -.2 4.9 .2 6 .2 10.4 -.2 9.3 .5 9.9 -.2 10.4 .6 9.3 -.1 10.9 .7 9.9 -.1 3.3 .3 6.5 1.1 -.4 .5 -8.3 1.3 -3.8 .1 -7.7 -.2 -10.4 .7 -9.3 -.2 -9.9 .6 -10.4 -.2 -9.3 .5 -10.9 -.2 -9.9 .4 -9.3 -.2 -10.4 .3 -9.8 -.2 -9.9 .3 -9.8 -.3 -9.9 .2 -10.4 -.3 -8.2 .2zM649.7 1096.4l-.3 -.1 -.1 -.5 2.6 -.5 2.2 0 4.4 .5 .3 0 -.4 .5 -3.7 .4 -2.8 0zM923.4 1096.4l-.4 -.1 -.5 -.5 5.3 -.5 3.2 .2 1.1 .3 -.1 .5 -2.1 .4 -2.7 0zM746.1 1071.2l-5.5 -.2 -9.9 .1 -10.4 -.4 -9.3 .1 -10.4 -.5 -9.3 0 -10.4 -.7 -9.8 0 -9.9 -1.1 -8.7 -.2 -2.8 -.3 -2.2 -.5 -1.6 -.7 -.5 -.6 .1 -.5 .6 -.6 2 -.7 2.7 -.5 2.8 -.2 7.1 -.1 10.9 -1.2 8.8 0 10.4 -.7 10.4 .1 9.8 -.6 9.3 .1 10.4 -.4 9.9 .2 9.8 -.4 10.4 .2 9.9 -.4 9.8 .3 10.4 -.3 9.3 .3 9.9 -.3 10.4 .4 8.7 -.2 5 .1 6.5 .3 9.9 -.2 10.4 .4 9.3 -.1 10.4 .6 9.3 -.1 10.4 .7 10.4 .1 10.4 1.1 8.2 .1 2.4 .3 2.1 .6 1.3 .5 .7 .6 .1 .5 -.5 .6 -1.2 .5 -1.9 .6 -1.9 .3 -2.7 .2 -7.7 .1 -10.4 1.1 -8.8 0 -10.9 .7 -9.3 0 -9.9 .5 -10.4 -.1 -9.8 .4 -9.9 -.1 -9.8 .3 -10.4 -.1 -9.3 .2 -10.4 -.2 -9.9 .3 -9.8 -.3 -10.4 .2 -9.3 -.2 -9.9 .1zM745.5 1043.3l-5.5 -.2 -9.3 .1 -9.8 -.4 -9.9 .1 -9.8 -.4 -9.3 0 -10.4 -.4 -9.9 0 -10.4 -.5 -10.4 0 -9.3 -.5 -10.4 -.1 -9.8 -.5 -9.9 0 -10.4 -.6 -9.3 -.1 -9.8 -.6 -11 -.1 -9.3 -.7 -9.8 -.1 -5.1 -.5 -5.9 -.9 -7.7 -.2 -.4 0 .1 -.6 8 -.2 5.9 -.8 5.1 -.6 9.8 -.1 10.4 -.8 9.3 -.1 10.4 -.6 9.9 -.1 9.8 -.6 10.4 -.1 10.4 -.6 9.3 -.1 9.9 -.5 9.8 -.1 11 -.6 9.3 0 9.8 -.5 9.9 0 10.4 -.5 9.8 0 9.9 -.4 9.8 .1 9.9 -.5 10.4 .2 9.3 -.3 9.3 .2 10.9 -.3 9.3 .3 9.9 -.3 10.4 .4 8.7 -.2 3.9 .1 7.6 .4 10.4 -.1 9.3 .4 9.9 0 10.4 .5 9.3 0 9.8 .5 10.4 0 9.3 .6 10.4 .1 9.9 .5 9.3 .1 10.9 .6 9.9 .1 9.9 .6 9.8 .1 10.4 .6 10.4 .2 9.3 .7 9.9 .1 5.1 .6 5.8 .8 8.1 .2 .1 .6 -8.2 .2 -5.9 .9 -5 .5 -9.9 .1 -10.4 .7 -9.3 .1 -10.4 .6 -9.8 .1 -9.4 .5 -10.9 .1 -9.8 .6 -9.9 0 -9.9 .5 -9.8 0 -11 .5 -9.3 0 -9.8 .4 -9.3 0 -10.4 .4 -9.9 -.1 -10.4 .4 -9.8 -.1 -9.9 .4 -10.4 -.2 -9.3 .3 -9.8 -.2 -9.3 .2 -11 -.2 -9.8 .2 -9.3 -.3 -9.9 .2zM730.2 1015.9l-9.3 -.4 -10.4 .2 -9.3 -.4 -10.4 .1 -9.9 -.5 -9.3 .1 -10.4 -.5 -10.4 0 -9.8 -.7 -9.3 .1 -10.4 -.9 -9.9 -.1 -2.7 -.3 -7.7 -1.2 -8.2 -.3 -3.1 -.7 -2.3 -1.1 -1.7 -1.6 -.7 -1.1 -.4 -1.1 -.1 -1.1 0 -.5 .7 -1.1 .6 -.6 2.1 -1.1 2.7 -.7 3.3 -.3 7.7 -.1 9.8 -1.3 9.9 0 10.4 -1 9.8 .1 10.4 -.8 9.9 .1 9.8 -.8 9.9 .2 9.8 -.7 9.9 .2 9.8 -.8 10.4 .3 9.9 -.8 9.8 .4 9.9 -.9 9.8 .6 2.8 -.2 5.4 -.7 2.2 -.1 7.1 .7 2.8 .1 2.7 -.2 4.9 -.7 2.2 -.1 7.1 .9 2.2 .1 2.8 -.1 7.1 -.7 2.2 .1 4.8 .7 2.8 .2 2.8 -.1 7.1 -.5 2.2 .1 8.2 .8 7.7 -.4 3.8 0 8.2 .8 10.4 -.3 9.8 .8 9.9 -.3 9.8 .8 9.9 -.2 10.4 .8 9.3 -.1 10.4 .8 9.9 -.1 10.3 1 10.4 0 9.9 1.3 7.1 .1 2.2 .1 2.7 .6 2.4 .9 1.5 1.1 .4 .5 .3 1.1 -.1 1.1 -.4 1.1 -.7 1.1 -1 1.1 -.7 .5 -1.7 .9 -2.7 .7 -2.2 .3 -7.1 .2 -9.9 1.4 -10.4 .2 -9.8 .8 -9.9 .1 -10.4 .6 -9.8 0 -9.3 .5 -11 -.1 -9.3 .5 -10.4 -.1 -9.3 .4 -10.4 -.2 -10.4 .4 -9.8 -.2 -9.9 .4 -10.4 -.2 -9.3 .3 -9.8 -.3 -9.9 .3 -9.8 -.3 -9.9 .3 -10.4 -.3 -9.3 .2 -10.4 -.4zM769 990.8l-4.3 -.6 -3.3 -.3 -2.8 0 -7.1 .5 -10.4 -1.1 -10.4 .3 -9.3 -.9 -10.4 .1 -9.3 -.9 -10.4 -.1 -9.8 -.8 -9.9 -.1 -9.8 -.9 -9.9 -.1 -9.8 -.8 -10.4 -.2 -10.4 -.7 -9.3 -.2 -9.9 -.6 -10.4 -.2 -9.8 -.7 -9.9 -.2 -9.8 -.6 -9.9 -.1 -10.4 -.6 -10.4 -.3 -9.3 -.5 -10.4 -.2 -9.8 -.7 -9.4 -.2 -10.4 -.8 -9.8 -.4 -2.7 -.3 -1.8 -.5 0 -.6 1.9 -.5 1.5 -.2 3.3 -.3 7.6 -.2 9.9 -.8 9.9 -.3 9.3 -.6 10.9 -.3 9.9 -.6 9.8 -.2 10.4 -.7 9.9 -.2 9.8 -.7 10.4 -.3 9.9 -.8 9.8 -.3 10.4 -.9 9.3 -.3 10.4 -1.2 7.7 -.3 2.7 -.2 2.7 -.5 2 -.5 2.6 -1.1 .3 -.6 -.6 -.5 -3.1 -1.1 -2.6 -.6 -2.4 -.2 -8.7 -.1 -11.5 -1.2 -9.3 -.1 -10.4 -.9 -9.3 0 -10.4 -.8 -11 -.2 -9.3 -.8 -9.8 -.1 -10.4 -1.2 -9.3 -.3 -3.2 -.6 -1.1 -.6 -.3 -.5 .2 -.6 1.1 -.7 2.2 -.8 2.7 -.7 6.6 -.7 2.9 -.9 1.4 -.9 .8 -.7 .1 -.6 -.1 -.5 -.4 -.6 -.7 -.5 -1.1 -.6 -2.4 -.6 -8.7 -1.1 -7.7 -1.8 -2.7 -.5 -7.7 -.4 -3.3 -.5 -1.9 -.5 -1.1 -.6 -.5 -.5 .4 -.6 2 -.7 3.3 -.5 8.2 -.2 11 -1.3 9.8 -.2 9.3 -.9 10.4 -.3 10.4 -1.2 8.2 -.2 3.3 -.3 5.5 -1.3 2.9 -1.1 .2 -.5 -.8 -.6 -3.2 -1.1 -2.2 -.5 -4 -.7 -9.9 -.5 -9.3 -1.1 -10.4 -.4 -9.8 -.8 -9.9 -.4 -9.9 -.7 -10.4 -.3 -10.3 -.6 -9.9 -.3 -10.4 -.6 -9.3 -.2 -10.4 -.7 -9.3 -.2 -9.9 -.7 -9.8 -.3 -3.8 -.4 -3.1 -.4 -2 -.6 .1 -.5 2.1 -.6 3.6 -.5 2.5 -.2 9.3 -.3 9.9 -.8 10.4 -.3 10.4 -.7 9.3 -.2 10.4 -.7 10.4 -.3 9.8 -.7 10.4 -.3 9.9 -.9 9.9 -.4 9.8 -1.2 10 -.7 2.6 -.5 1.6 -.6 .9 -.5 .2 -.6 -.5 -.5 -1.1 -.6 -3.3 -.7 -2.7 -.4 -7.7 -.3 -9.8 -1.2 -9.9 -.3 -9.9 -.9 -10.4 -.3 -9.8 -.8 -10.4 -.2 -9.9 -.8 -9.8 -.3 -3.4 -.3 -8.6 -1.2 -6.3 -.5 0 -.5 7.9 -.7 8.8 -1.5 11.4 -.7 9.9 -1.3 8.2 -.5 3.3 -.3 3.3 -.6 8.5 -2.1 1.6 -.5 .2 -.6 -1.4 -.5 -6.8 -1.7 -6.5 -1.1 -9.9 -.7 -10.4 -1.2 -10.4 -.4 -9.8 -1.1 -9.9 -.4 -4.4 -.5 -7.6 -1.4 -2.5 -.3 9.8 -1.6 4.8 -.6 9.8 -.3 9.8 -.8 9.9 -.3 10.4 -.9 9.9 -.3 10.3 -1 10.4 -.6 4.7 -.7 8.1 -1.6 1.7 -.6 -.6 -.5 -7.8 -1.7 -5.5 -.9 -11 -.6 -9.3 -.9 -10.4 -.4 -9.8 -.8 -10.4 -.3 -9.9 -.7 -9.8 -.2 -10.4 -.7 -10.4 -.3 -9.3 -.6 -9.9 -.3 -9.8 -.8 -9.9 -.4 -2.1 -.3 -2 -.5 0 -.6 2.5 -.5 3.3 -.3 8.2 -.4 8.7 -.7 11 -.4 10.4 -.7 9.8 -.3 9.9 -.6 9.8 -.3 9.9 -.7 10.4 -.4 10.4 -.8 8.8 -.4 10.9 -1.4 8.9 -.8 2 -.6 .8 -.5 0 -.6 -.8 -.5 -2.7 -.7 -8.2 -.7 -10.9 -1.3 -8.8 -.4 -10.4 -.8 -10.4 -.4 -9.9 -.7 -9.3 -.3 -10.4 -.7 -10.9 -.3 -9.9 -.8 -9.8 -.4 -4.8 -.7 -1.7 -.6 .1 -.5 1.6 -.5 3.1 -.6 3.9 -.3 8.7 -.4 9.9 -.9 8.7 -.3 10.4 -.9 9.9 -.4 10.4 -1 9.8 -.6 4.4 -.5 9.8 -1.8 2.3 -.6 .5 -.5 -1.3 -.5 -12.1 -2.2 -4.1 -.5 -8.8 -.5 -10.4 -1 -9.8 -.4 -9.9 -.8 -9.8 -.3 -10.4 -.8 -11 -.4 -9.8 -1 -7.9 -.4 -3.3 -.5 -.5 -.5 1.4 -.6 2.1 -.2 9.3 -.5 9.2 -.9 10.5 -.4 10.4 -.7 9.8 -.3 9.3 -.7 9.9 -.4 10.4 -.8 10.9 -.6 9.9 -1.2 6.6 -.5 3.3 -.5 1.6 -.5 .8 -.5 -.1 -.6 -1.3 -.7 -1.5 -.4 -2.3 -.3 -7.1 -.6 -11.5 -1.3 -8.2 -.4 -10.4 -.8 -10.4 -.4 -9.9 -.7 -10.4 -.3 -10.4 -.6 -9.3 -.3 -10.4 -.7 -9.8 -.3 -9.9 -.7 -9.3 -.4 -3.3 -.4 -2 -.5 0 -.6 2 -.5 4.4 -.5 8.2 -.3 11 -.9 8.7 -.2 10.4 -.7 9.3 -.2 10.4 -.7 10.4 -.3 9.9 -.7 9.8 -.4 9.9 -.9 9.3 -.5 4.9 -.6 7.2 -1.3 2.5 -.6 .9 -.5 -1.2 -.6 -5.5 -1.1 -5 -.8 -3.8 -.5 -9.3 -.5 -9.9 -.8 -9.8 -.4 -9.9 -.7 -10.4 -.4 -10.4 -.6 -9.3 -.3 -10.4 -.7 -10 -.3 -9.7 -.9 -8.7 -.4 -2.8 -.3 -1.2 -.6 .9 -.5 3.1 -.5 8.2 -.3 9.3 -.9 10.9 -.4 11 -.8 9.3 -.3 9.3 -.7 10.4 -.4 10.4 -.8 9.8 -.5 10.4 -1.1 7.7 -.6 3.8 -.7 2 -.8 .3 -.5 -.5 -.6 -1.2 -.5 -1.1 -.3 -3.3 -.5 -7.7 -.6 -8.7 -1 -11.5 -.6 -10.4 -.9 -9.9 -.3 -10.4 -.7 -9.8 -.3 -9.9 -.7 -9.3 -.3 -10.4 -.8 -8.7 -.3 -4.4 -.4 -2.9 -.5 -1.2 -.6 .8 -.5 2.7 -.6 5 -.5 8.7 -.3 10.4 -.8 9.3 -.2 10.4 -.7 9.3 -.3 10.4 -.7 9.9 -.3 10.4 -.9 11.5 -.5 8.2 -1 7.7 -.5 3.2 -.5 2 -.4 1.3 -.7 .4 -.4 -.4 -.6 -1.1 -.5 -2.2 -.6 -2.1 -.3 -8.3 -.6 -10.9 -1.2 -8.8 -.3 -10.4 -.8 -10.4 -.4 -9.3 -.6 -10.4 -.4 -9.8 -.6 -10.4 -.3 -10.4 -.7 -9.9 -.3 -9.3 -1 -9.3 -.7 -.1 -.5 1.2 -.2 8.2 -.6 8.8 -.9 10.4 -.3 10.4 -.7 10.4 -.4 9.8 -.6 10.4 -.3 9.3 -.7 10.4 -.3 9.9 -.8 9.3 -.5 10.9 -1.3 7.4 -.6 2.8 -.6 1.2 -.5 .1 -.6 -.7 -.5 -2 -.6 -19.2 -2.1 -9.8 -.5 -9.9 -.8 -10.4 -.3 -9.8 -.7 -9.9 -.3 -9.8 -.6 -11 -.4 -9.3 -.6 -9.8 -.3 -9.3 -.9 -9.9 -.7 -1.3 -.5 2.1 -.6 6.9 -.3 11.5 -1.1 9.8 -.3 9.3 -.7 11 -.3 9.8 -.7 9.9 -.3 9.8 -.7 10.4 -.4 9.9 -.8 9.8 -.5 17.6 -2.3 1.3 -.3 .6 -.6 -.6 -.5 -1.3 -.3 -13.7 -1.9 -5 -.5 -8.7 -.4 -9.9 -.9 -10.4 -.4 -9.8 -.6 -9.9 -.4 -9.8 -.6 -11 -.3 -9.3 -.7 -9.8 -.3 -9.9 -.8 -9.3 -.5 -1.3 -.2 -1.8 -.5 .7 -.6 3 -.4 8.2 -.4 9.3 -.8 10.9 -.4 10.7 -.7 9.6 -.3 10.4 -.6 9.8 -.3 9.3 -.7 10.4 -.4 9.9 -.8 9.8 -.5 17.5 -2.4 1.3 -.6 -.2 -.5 -1.9 -.6 -17.2 -2.2 -8.8 -.5 -10.4 -.8 -10.4 -.4 -9.3 -.7 -9.9 -.3 -10.3 -.6 -9.9 -.3 -9.8 -.7 -11.5 -.4 -9.9 -.8 -8.8 -.5 -2.7 -.5 -.1 -.6 2.9 -.6 8.7 -.4 10.4 -.9 11 -.3 9.8 -.7 9.9 -.3 9.8 -.6 10.4 -.4 9.3 -.6 10.4 -.4 9.9 -.8 9.3 -.5 16.9 -2.2 2.1 -.6 .3 -.5 -1.1 -.6 -1.8 -.3 -13.1 -1.8 -3.3 -.3 -9.3 -.5 -9.9 -.8 -10.4 -.4 -9.3 -.7 -10.4 -.3 -10.4 -.7 -9.3 -.2 -10.9 -.7 -10 -.4 -9.7 -.8 -8.2 -.5 -2.8 -.3 -.9 -.6 1.5 -.5 1.6 -.2 9.3 -.5 9.9 -.9 9.3 -.2 10.4 -.7 9.8 -.3 10.4 -.7 9.9 -.3 9.8 -.7 10.4 -.4 9.9 -.8 9.3 -.4 16.6 -2.1 2.6 -.6 .8 -.5 -.5 -.5 -2.2 -.6 -17.3 -2.2 -9.3 -.4 -9.9 -.9 -10.4 -.4 -9.8 -.6 -9.9 -.4 -9.8 -.6 -9.9 -.3 -9.8 -.7 -10.4 -.3 -11 -1 -7 -.4 -2.5 -.5 1 -.6 .9 -.1 8.7 -.6 9.9 -.9 9.8 -.3 9.3 -.6 11 -.4 9.8 -.6 10.4 -.3 9.3 -.7 10.4 -.4 9.9 -.8 9.3 -.4 10.9 -1.3 7.7 -.7 3 -.6 .8 -.6 -.1 -.5 -1 -.6 -1.6 -.4 -18.6 -2.1 -10.4 -.5 -9.9 -.8 -10.4 -.4 -9.3 -.6 -10.4 -.3 -9.8 -.7 -10.4 -.3 -10.4 -.7 -9.9 -.3 -9.3 -.9 -8.7 -.7 -.5 0 -.2 -.6 18.7 -1.7 9.9 -.3 10.4 -.7 10.4 -.3 9.8 -.7 10.4 -.3 9.3 -.6 10.4 -.4 10.4 -.8 8.8 -.4 10.9 -1.1 8.3 -.7 1.8 -.2 2.3 -.5 1.2 -.6 .5 -.5 -.4 -.6 -1.2 -.5 -2.1 -.6 -3.2 -.4 -7.7 -.5 -8.2 -1 -11.5 -.6 -10.4 -.8 -9.9 -.3 -10.4 -.7 -9.3 -.3 -10.4 -.7 -9.3 -.3 -10.4 -.7 -8.7 -.4 -4.7 -.4 -2.8 -.5 -1 -.6 1 -.5 2.8 -.6 4.7 -.4 8.7 -.3 10.4 -.8 9.3 -.3 10.4 -.7 9.3 -.3 10.4 -.7 9.9 -.4 10.4 -.8 11.5 -.6 8.7 -1 8.3 -.7 3.6 -.6 1.3 -.6 .6 -.5 -.3 -.6 -.3 -.2 -.7 -.3 -1.5 -.5 -3.3 -.5 -7.1 -.5 -11 -1.3 -9.8 -.4 -10.4 -.9 -10.4 -.4 -9.3 -.6 -9.9 -.3 -10.4 -.8 -10.9 -.4 -8.8 -.8 -8.7 -.5 -2.9 -.3 -1.1 -.6 1 -.5 3 -.4 8.7 -.4 8.9 -.9 10.8 -.3 11 -.8 9.3 -.2 10.4 -.7 9.8 -.3 9.9 -.7 9.8 -.4 9.9 -.9 9.3 -.4 3.8 -.5 4.7 -.8 5.6 -1.1 1.4 -.5 -.7 -.6 -2.4 -.5 -8 -1.5 -4.4 -.5 -9.3 -.5 -9.9 -.9 -9.8 -.4 -9.9 -.7 -10.4 -.3 -10.4 -.7 -9.3 -.3 -10.4 -.6 -9.3 -.3 -10.4 -.8 -8.2 -.3 -4.1 -.4 -2.2 -.6 -.2 -.5 1.8 -.6 3.6 -.4 9.3 -.4 9.9 -.8 9.8 -.3 10.4 -.6 9.3 -.3 10.4 -.6 10.4 -.3 9.9 -.7 10.4 -.4 10.4 -.8 8.2 -.4 11.5 -1.3 7.7 -.7 1.5 -.2 2 -.5 1 -.6 .1 -.5 -.7 -.6 -1.5 -.5 -3.5 -.6 -6.6 -.5 -9.9 -1.2 -10.9 -.5 -10.4 -.8 -9.9 -.4 -9.3 -.7 -9.3 -.3 -10.9 -.7 -9.9 -.3 -9.8 -1 -9.3 -.5 -1.9 -.2 -1.6 -.5 .4 -.6 2.9 -.5 8.4 -.4 9.8 -1 11 -.4 9.8 -.8 9.9 -.3 10.4 -.8 9.3 -.4 10.9 -1 9.3 -.5 3.9 -.5 11.6 -2.1 1.4 -.6 -.3 -.5 -2.2 -.6 -10 -1.8 -4.4 -.6 -9.8 -.5 -10.4 -1.1 -9.3 -.3 -9.9 -.9 -9.8 -.3 -9.9 -.9 -12.2 -.7 -3.3 -.5 -1.7 -.6 -.2 -.5 1.5 -.6 5 -.7 10.4 -.4 9.3 -.8 10.9 -.3 10.4 -.7 9.3 -.3 9.9 -.7 10.4 -.4 10.4 -.9 8.8 -.3 10.9 -1.4 8.2 -.7 2.6 -.6 .9 -.5 .1 -.6 -.8 -.5 -1.9 -.6 -9.1 -.8 -10.4 -1.4 -9.9 -.4 -10.4 -.9 -9.8 -.3 -9.9 -.7 -9.8 -.3 -10.4 -.7 -9.3 -.2 -10.4 -.7 -11 -.4 -8.7 -.8 -11.5 -.6 -2.4 -.5 -.2 -.6 1.8 -.5 2.4 -.3 9.9 -.4 9.8 -.8 9.9 -.3 9.3 -.6 10.9 -.4 9.9 -.6 9.8 -.2 9.9 -.7 10.4 -.3 9.8 -.8 10.4 -.4 9.3 -.9 11 -.7 5.3 -.8 7.8 -1.7 .9 -.5 -1.5 -.5 -8.1 -1.7 -5 -.7 -10.4 -.6 -10.3 -1 -9.9 -.3 -10.4 -.9 -9.9 -.3 -9.8 -.9 -9.3 -.2 -5 -.6 -10.2 -1.6 14.1 -2.2 10.4 -.5 9.8 -1 10.4 -.5 9.9 -1.1 10.4 -.7 6.3 -1.1 6.9 -1.7 1.4 -.5 0 -.6 -1.5 -.5 -9.2 -2.2 -3.1 -.5 -11.2 -.9 -9.9 -1.2 -11.1 -.7 -9.1 -1.5 -7.8 -.7 -.3 -.5 8.1 -.7 6.6 -.9 3.8 -.4 9.8 -.3 9.9 -.8 10.4 -.3 9.3 -.7 9.9 -.3 10.4 -.9 10.9 -.4 9.3 -1.1 7.1 -.3 3.3 -.4 3.2 -.7 1.1 -.6 .6 -.5 -.2 -.6 -.8 -.5 -1.5 -.5 -2.5 -.6 -10.3 -.8 -9.8 -1.1 -9.9 -.4 -9.9 -.9 -10.4 -.3 -9.8 -.8 -10.4 -.3 -10.4 -.6 -9.3 -.3 -10.4 -.7 -10.4 -.2 -9.9 -.8 -9.3 -.3 -5.9 -.7 -2.2 -.5 -.3 -.6 1.9 -.5 3.3 -.6 3.8 -.3 9.8 -.3 9.9 -.7 8.7 -.2 10.4 -.7 9.9 -.2 10.4 -.7 10.4 -.2 9.8 -.7 10.4 -.3 9.9 -.7 9.3 -.3 10.4 -.8 10.4 -.4 9.3 -1.1 9.9 -.5 3.8 -.6 2.2 -.6 3.3 -1.1 .9 -.5 -.2 -.6 -2.7 -1.1 -3 -.8 -2.7 -.5 -3.3 -.3 -8.2 -.2 -10.4 -1.2 -10.1 -.3 -9.6 -1 -9.8 -.2 -11 -1.2 -8.2 -.2 -3.3 -.5 -2 -.7 -.4 -.5 .4 -.6 1.1 -.5 1.8 -.6 3.5 -.5 7.7 -.5 2.7 -.5 8.2 -1.8 8.2 -1 2.3 -.6 1.1 -.5 .8 -.6 .4 -.5 .1 -.6 -.1 -.5 -.8 -.8 -1.3 -.9 -3 -.9 -6.3 -.7 -3 -.7 -2.4 -1 -.8 -.5 -.3 -.6 .3 -.5 1 -.5 3.3 -.7 9.3 -.3 10.4 -1.2 9.8 -.1 9.9 -.9 10.4 -.1 10.4 -.8 9.3 -.1 10.4 -.9 9.3 0 10.9 -1.2 9.3 -.1 2.1 -.2 2.7 -.6 3.2 -1.1 .7 -.5 -.2 -.5 -1 -.6 -1.5 -.5 -2 -.6 -2.9 -.5 -3.3 -.3 -7.1 -.2 -10.4 -1.2 -9.3 -.3 -10.4 -1 -9.8 -.2 -9.9 -.8 -10.4 -.3 -9.8 -.7 -9.9 -.2 -10.4 -.7 -9.3 -.2 -10.4 -.6 -10.9 -.3 -9.3 -.6 -9.9 -.3 -9.9 -.8 -10.9 -.5 -1.2 -.1 -2.1 -.6 -.2 -.5 1.6 -.6 3 -.3 9.8 -.4 10.4 -.9 9.4 -.1 9.8 -.7 9.9 -.2 9.8 -.6 10.4 -.2 10.4 -.6 9.9 -.2 9.8 -.6 9.9 -.1 9.8 -.7 10.4 -.2 9.9 -.6 9.3 -.2 10.4 -.8 10.4 -.2 9.8 -.7 9.9 -.2 9.8 -.8 9.9 -.1 9.8 -.8 10.4 -.1 9.3 -.9 10.4 .1 9.9 -.9 9.8 .2 10.4 -1 7.1 .5 2.8 0 9.3 -1 2.2 0 5.4 .7 2.8 0 2.7 -.2 4.9 -.7 2.2 -.1 7.1 .9 2.8 .2 9.8 -.8 9.3 1 2.8 0 7.1 -.5 2.2 .1 5 .7 3.2 .2 9.8 -.2 9.9 .9 10.4 -.1 9.3 .9 10.4 .1 9.8 .8 10.4 .1 9.3 .8 10.4 .2 9.4 .7 10.4 .2 10.3 .8 9.4 .1 9.8 .7 10.4 .2 9.9 .7 9.8 .1 9.9 .6 10.4 .2 9.8 .6 10.4 .2 9.9 .6 9.8 .2 9.9 .7 9.3 .1 10.4 .9 9.8 .3 3.1 .4 1.6 .6 -.2 .5 -2.1 .6 -1.3 .1 -10.9 .5 -9.9 .8 -9.8 .3 -9.3 .6 -11 .3 -10.4 .6 -9.3 .2 -10.4 .7 -9.8 .2 -9.9 .7 -10.4 .3 -9.8 .8 -9.3 .2 -11 1 -9.3 .3 -10.4 1.2 -7.1 .2 -3.3 .3 -2.8 .5 -2 .6 -1.5 .5 -1 .6 -.2 .5 .7 .5 3.2 1.1 2.7 .6 2 .2 9.3 .1 10.9 1.2 9.4 0 10.4 .9 9.3 .1 10.4 .8 10.9 .2 9.3 .8 9.9 .1 10.4 1.2 7.1 .1 2.7 .2 2.8 .7 1 .5 .3 .5 -.3 .6 -1.1 .7 -2.1 .8 -3 .7 -6.3 .7 -3 .9 -1.4 .9 -.7 .8 -.2 .5 .2 .6 .4 .5 .7 .6 1.2 .5 2.8 .7 7.6 .9 8.2 1.8 2.8 .5 7.6 .5 3.5 .5 1.9 .6 1.1 .5 .4 .6 -.5 .5 -1.3 .6 -3.4 .6 -8.8 .2 -10.4 1.2 -10.4 .3 -9.6 .9 -10.1 .3 -10.4 1.2 -8.2 .2 -3.3 .3 -5.7 1.3 -2.7 1.1 -.1 .6 .8 .5 3.3 1.1 2.3 .6 3.8 .6 9.8 .5 9.3 1.1 10.4 .4 10.4 .8 9.3 .3 9.9 .7 10.4 .3 10.4 .7 9.3 .2 10.4 .7 9.3 .2 10.9 .6 9.3 .3 9.9 .7 9.8 .3 3.9 .3 3.3 .6 1.9 .5 -.3 .6 -2.3 .5 -5.9 .7 -9.3 .3 -9.9 .8 -10.4 .2 -10.3 .7 -9.4 .3 -10.4 .6 -10.4 .3 -9.8 .8 -10.4 .3 -9.9 .9 -9.8 .4 -9.9 1.2 -10.2 .7 -2.6 .6 -1.4 .5 -.8 .5 -.2 .6 .5 .5 1.2 .6 3.1 .7 3.3 .4 7.1 .3 9.9 1.2 9.8 .3 9.9 .9 10.4 .3 10.4 .8 9.8 .2 9.9 .8 9.8 .3 3.8 .4 6.6 .9 8.1 .7 -.3 .5 -7.8 .7 -9 1.5 -11.2 .7 -9.9 1.3 -11.2 .8 -3 .5 -9.2 2.2 -1.5 .5 -.1 .6 1.5 .5 6.9 1.7 6.2 1.1 10.4 .7 9.9 1.1 10.4 .5 9.8 1 10.5 .5 14.1 2.2 -10.3 1.6 -4.4 .5 -9.9 .3 -9.8 .9 -9.9 .3 -10.4 .9 -9.8 .3 -10.4 1 -10.4 .6 -4.9 .7 -8.1 1.7 -1.5 .5 .9 .5 7.8 1.7 5.2 .8 11 .7 9.3 .9 10.4 .4 9.8 .8 10.4 .3 9.9 .7 9.8 .2 10.4 .7 10.4 .3 9.3 .6 9.9 .3 9.8 .8 9.9 .4 2.4 .3 1.9 .5 -.2 .6 -2.5 .5 -11.5 .6 -8.7 .8 -11 .4 -10.4 .7 -9.3 .2 -10.4 .7 -9.8 .3 -9.9 .7 -9.8 .3 -10.4 .9 -9.9 .4 -10.4 1.4 -9 .8 -1.9 .6 -.8 .5 .1 .6 .9 .5 2.5 .6 8.2 .7 11 1.4 8.7 .3 10.4 .9 10.4 .4 9.9 .7 9.3 .3 10.4 .7 10.9 .3 9.3 .8 10.4 .4 5.1 .7 1.5 .6 -.2 .5 -1.7 .6 -3.3 .5 -12.3 .7 -9.9 .9 -9.8 .3 -9.9 .9 -9.3 .4 -10.4 1 -9.8 .5 -4.4 .6 -10 1.8 -2.1 .6 -.4 .5 1.4 .6 12.2 2.1 3.8 .5 9.3 .5 9.9 1 9.8 .4 9.9 .7 9.8 .4 10.4 .8 11 .4 9.8 1 8.5 .4 2.9 .5 .4 .6 -1.7 .5 -1.3 .2 -9.9 .5 -9.8 1 -9.3 .2 -10.4 .8 -10.4 .3 -9.3 .7 -9.9 .4 -10.4 .8 -10.9 .6 -9.9 1.2 -6.5 .4 -3.3 .5 -1.8 .6 -.6 .6 .1 .5 .9 .6 2.1 .5 1.5 .2 7.6 .7 11.5 1.3 8.2 .4 10.4 .8 10.4 .4 10.4 .7 9.9 .3 10.4 .6 9.3 .3 10.4 .6 9.8 .3 9.9 .8 9.3 .4 3.6 .4 1.9 .6 -.2 .5 -2.2 .6 -4.2 .4 -8.2 .3 -10.4 .8 -9.3 .3 -10.4 .7 -9.3 .2 -10.4 .7 -10.4 .3 -9.9 .7 -9.8 .4 -9.9 .9 -9.3 .5 -4.4 .5 -7.9 1.5 -2.4 .5 -.7 .6 1.4 .5 5.5 1.1 4.7 .8 3.8 .4 9.3 .5 9.9 .9 9.8 .4 9.9 .7 9.8 .3 10.4 .7 9.3 .2 11 .8 10.9 .3 8.8 .9 8.7 .4 3 .4 1 .5 -1.1 .6 -2.9 .3 -8.7 .5 -8.8 .8 -10.9 .4 -10.4 .8 -9.9 .3 -9.3 .6 -10.4 .4 -10.4 .9 -9.8 .4 -11 1.3 -6.5 .5 -3.9 .5 -1.4 .5 -1.1 .5 -.2 .6 .5 .5 1.4 .6 3.6 .6 8.2 .7 8.7 1 12.1 .7 9.8 .7 9.9 .4 10.4 .7 9.8 .3 9.9 .7 9.3 .3 10.4 .8 8.7 .3 4.8 .4 2.7 .6 1.1 .5 -1.1 .6 -2.7 .5 -4.8 .5 -8.7 .3 -10.4 .8 -9.3 .2 -9.9 .7 -9.8 .3 -10.4 .7 -9.9 .3 -9.8 .8 -12.1 .6 -8.2 1 -7.6 .5 -3.3 .5 -2.1 .5 -1.1 .5 -.4 .6 .4 .5 1.3 .6 2.3 .5 1.8 .2 8.2 .7 10.9 1.1 8.8 .4 10.4 .8 10.4 .4 9.3 .6 10.4 .3 10.4 .7 9.8 .3 10.4 .7 9.9 .3 18.8 1.7 -.3 .6 -.5 0 -8.7 .7 -9.2 .9 -10 .3 -10.4 .7 -10.4 .3 -9.8 .7 -10.4 .3 -9.3 .6 -10.4 .4 -9.9 .8 -9.3 .5 -10.9 1.3 -7.7 .7 -2.6 .5 -1.1 .6 0 .5 .8 .6 2.1 .5 8.5 .8 10.4 1.3 9.8 .4 9.9 .8 10.4 .4 9.8 .7 9.9 .3 9.8 .6 11 .4 9.3 .6 9.8 .3 9.9 .9 8.7 .6 .9 .1 1 .6 -2.5 .5 -6.5 .3 -11.5 1.1 -10.4 .3 -9.8 .7 -9.9 .3 -9.8 .6 -9.9 .4 -9.8 .6 -10.4 .4 -9.9 .9 -9.3 .4 -17.5 2.3 -1.9 .5 -.5 .5 .7 .5 .6 .2 2.1 .4 6.1 .7 6.3 .9 4.7 .5 8.7 .4 9.9 .8 10.4 .4 9.8 .7 9.9 .3 10.4 .7 9.8 .3 10.4 .7 9.3 .2 9.9 .9 9.3 .5 1.7 .2 1.5 .5 -1 .6 -2.8 .4 -8.2 .4 -9.6 .8 -10.1 .4 -10.9 .7 -9.3 .2 -10.4 .7 -10.4 .3 -9.3 .7 -10.4 .4 -9.9 .8 -9.3 .5 -3.3 .3 -14.7 2.1 -1.3 .6 .4 .5 2 .6 16.9 2.2 9.3 .5 9.9 .8 10.4 .4 9.8 .7 9.9 .3 9.8 .6 9.9 .3 9.8 .7 11.5 .4 9.9 .8 9.3 .5 2.4 .5 -.1 .6 -2.9 .6 -8.7 .4 -10.4 .9 -11 .3 -9.8 .7 -9.9 .3 -10.3 .6 -9.4 .3 -9.8 .7 -10.4 .4 -9.9 .8 -9.3 .5 -17.2 2.2 -1.8 .6 -.2 .5 1.3 .6 1 .1 13.6 2 3.3 .3 9.3 .5 9.9 .8 10.4 .4 9.3 .7 9.8 .3 10.4 .6 9.7 .3 10.6 .7 10.9 .4 9.3 .8 8.2 .4 3 .4 .7 .6 -1.7 .5 -1.4 .2 -9.3 .5 -9.9 .8 -9.8 .3 -9.3 .7 -11 .3 -9.8 .6 -9.9 .4 -9.8 .6 -10.4 .4 -9.9 .9 -8.7 .4 -4.4 .4 -6.6 1 -6.5 .7 -2.4 .6 -.4 .3 -.2 .2 .6 .6 2.4 .5 16.9 2.1 9.3 .5 9.9 .8 10.4 .4 9.8 .7 9.9 .3 9.8 .7 11 .3 9.3 .7 9.8 .3 11.5 1.1 7 .3 2.1 .6 -1.4 .5 -9.3 .6 -9.9 1 -9.8 .3 -9.3 .6 -11 .4 -9.8 .6 -9.9 .3 -9.8 .7 -10.4 .3 -9.9 .8 -9.3 .5 -10.9 1.3 -7.7 .7 -3 .7 -.8 .5 .2 .6 1.2 .5 1.3 .3 18.6 2.1 10.4 .6 9.9 .8 10.4 .3 9.3 .7 10.4 .3 9.8 .6 10.4 .4 10.4 .7 10.4 .3 8.8 .9 8.2 .6 1.2 .2 -.1 .5 -9.3 .7 -9.3 1 -9.9 .3 -10.4 .7 -10.4 .3 -9.8 .6 -10.4 .4 -9.3 .6 -10.4 .4 -10.4 .8 -8.8 .3 -10.9 1.2 -8.2 .6 -2.1 .3 -2.2 .6 -1.1 .5 -.4 .6 .4 .5 1 .4 2.2 .6 3.3 .5 7.6 .5 8.2 1 12.1 .6 9.8 .8 9.9 .3 10.4 .7 9.3 .3 10.4 .7 9.3 .2 10.4 .8 8.7 .3 5.1 .5 2.6 .6 .9 .5 -1.2 .6 -3 .5 -4.4 .4 -8.7 .3 -10.4 .8 -9.3 .3 -9.9 .7 -9.8 .3 -10.4 .7 -9.9 .3 -9.8 .8 -12.1 .7 -8.7 1 -7.7 .6 -3.3 .5 -2.2 .8 -.5 .6 .3 .5 1.9 .8 3.8 .7 7.7 .6 10.9 1.2 8.8 .4 10.4 .8 10.4 .4 9.8 .7 9.9 .3 10.4 .8 10.9 .4 9.3 .8 8.2 .4 3.1 .5 .9 .5 -1.2 .6 -2.2 .3 -9.3 .4 -9.6 .9 -10.1 .3 -10.4 .7 -9.3 .3 -10.4 .7 -10.4 .3 -9.9 .7 -9.8 .4 -9.9 .8 -9.3 .5 -3.8 .5 -4.9 .8 -5.5 1.1 -1.3 .6 .9 .5 2.6 .6 7.1 1.3 4.9 .6 9.3 .5 9.9 .9 9.8 .3 9.9 .8 10.4 .3 10.4 .7 9.3 .2 10.4 .7 8.7 .2 11 .9 8.2 .3 4.5 .5 2 .5 0 .6 -2 .5 -3.4 .4 -9.3 .4 -9.9 .7 -9.8 .3 -10.4 .7 -9.3 .3 -10.4 .6 -10.4 .3 -9.9 .7 -10.4 .4 -10.4 .8 -8.2 .4 -11.5 1.3 -7.1 .6 -2.3 .3 -1.5 .4 -1.2 .7 -.1 .6 .7 .5 1.7 .5 3.3 .5 6.5 .5 9.9 1.2 10.9 .6 10.4 .8 9.9 .4 9.3 .7 9.8 .3 10.4 .7 10.6 .4 9.7 .9 8.7 .4 2.2 .3 1.4 .6 -.6 .5 -3.2 .5 -8 .4 -9.8 1 -11 .4 -10.4 .8 -9.8 .3 -9.9 .8 -9.8 .4 -10.4 1 -8.8 .5 -4 .5 -12.2 2.2 -1.2 .5 .5 .5 2.3 .6 9.7 1.7 4.4 .6 9.8 .6 10.4 1 9.9 .4 10.4 .9 8.7 .3 10.4 1 8.2 .3 4 .3 3.1 .6 1.6 .5 0 .5 -1.6 .6 -4.9 .7 -9.8 .4 -9.9 .8 -10.9 .3 -10.4 .7 -9.3 .3 -9.9 .7 -10.4 .4 -10.4 .8 -8.7 .4 -11 1.3 -8.2 .7 -2.7 .7 -.8 .5 0 .6 .9 .5 2 .6 8.8 .8 11 1.4 8.7 .4 10.4 .8 10.4 .4 9.9 .7 9.8 .3 9.9 .6 9.8 .3 10.4 .7 11 .4 8.7 .7 11.5 .7 2.6 .5 0 .6 -2.1 .5 -2.1 .3 -9.9 .4 -9.8 .8 -9.9 .3 -9.3 .6 -10.4 .3 -10.4 .7 -9.8 .2 -9.9 .7 -10.4 .3 -9.8 .8 -9.9 .3 -9.8 1 -11 .6 -5.5 .9 -7.7 1.7 -.7 .5 1.7 .6 8.1 1.6 4.7 .7 10.4 .6 10.4 1 9.8 .3 10.4 .9 9.9 .3 9.8 .8 9.9 .3 4.8 .6 9.8 1.6 -2.6 .3 -7.6 1.4 -4.4 .5 -9.9 .4 -9.8 1.1 -10.4 .5 -9.9 1.1 -10.4 .7 -6.4 1.1 -6.9 1.7 -1.3 .5 .1 .6 1.7 .5 8.4 2.1 3.3 .6 3.3 .3 8.2 .5 9.9 1.3 11.5 .7 8.7 1.5 8 .7 0 .5 -6.3 .5 -8.7 1.2 -3.4 .3 -9.8 .3 -9.9 .8 -9.8 .2 -10.4 .8 -10.4 .3 -9.9 .9 -9.8 .3 -9.9 1.2 -7.7 .3 -2.1 .3 -1.9 .3 -1.9 .5 -1.1 .6 -.5 .5 .2 .6 .9 .5 1.5 .6 2.7 .5 9.9 .7 9.9 1.2 9.8 .4 9.9 .9 10.4 .3 9.8 .7 10.4 .3 10.4 .7 9.9 .3 9.8 .6 10.4 .3 10.4 .8 8.8 .3 2.6 .2 3.6 .5 2.1 .6 .1 .5 -2.1 .6 -3 .4 -3.9 .4 -9.8 .3 -9.9 .7 -8.7 .2 -11 .7 -9.3 .2 -10.4 .6 -9.8 .3 -10.4 .6 -10.4 .3 -9.9 .7 -9.8 .4 -9.9 .8 -10.4 .4 -9.3 1.1 -9.8 .5 -4 .7 -2.2 .5 -3.3 1.1 -.8 .6 .3 .5 2.8 1.1 5.5 1.3 3.3 .3 8.2 .2 10.4 1.2 10.4 .3 9.3 .9 9.9 .2 10.9 1.3 8.2 .2 3.3 .5 2.1 .7 .4 .6 -.5 .5 -1.1 .6 -2 .5 -3.3 .5 -7.6 .5 -2.8 .4 -7.6 1.8 -8.2 1 -2.9 .7 -1.2 .6 -.7 .5 -.4 .6 -.1 .5 .2 .6 1.2 1.1 1 .5 2.9 .9 6.5 .7 2.8 .7 2.1 .8 1.1 .7 .3 .6 -.4 .5 -1.1 .6 -2.6 .6 -2.7 .2 -7.1 .1 -10.4 1.2 -9.9 .1 -9.3 .8 -10.9 .2 -10.4 .8 -9.3 .1 -10.4 .9 -9.4 0 -10.9 1.2 -9.3 .1 -2.4 .2 -2.5 .6 -3.1 1.1 -.6 .5 .3 .6 2.5 1.1 4.7 1 3.3 .3 7.1 .2 10.4 1.2 9.3 .3 11 1 9.3 .2 9.8 .8 10.4 .3 9.9 .7 9.8 .2 10.4 .7 9.9 .2 9.8 .6 11 .3 9.3 .6 9.8 .3 9.9 .8 7.6 .2 3.3 .3 1.6 .2 1.9 .5 0 .6 -1.8 .5 -2.8 .3 -9.8 .4 -10.4 .8 -9.3 .2 -9.9 .7 -9.8 .2 -9.9 .6 -10.4 .2 -9.8 .5 -10.4 .2 -9.9 .6 -9.8 .2 -9.9 .7 -10.4 .2 -9.8 .6 -9.4 .2 -10.3 .7 -10.4 .2 -9.4 .8 -10.4 .2 -9.8 .8 -9.9 .1 -9.8 .8 -10.4 .1 -9.3 .9 -10.4 -.1 -9.3 .9 -10.4 -.3 -10.4 1.1 -7.1 -.5 -2.8 0 -9.3 1 -9.8 -.8 -2.8 .2 -7.1 .8 -2.2 -.1 -4.9 -.7 -2.7 -.2 -2.8 .1 -6 .7zM768.5 363.2l-3.9 -.5 -3.2 -.3 -2.8 0 -5.4 .5 -2.2 .1 -9.9 -.9 -9.8 .4 -9.9 -.8 -10.4 .3 -9.8 -.8 -9.9 .2 -9.8 -.7 -9.3 .2 -11 -.8 -9.8 .1 -9.9 -.8 -10.4 0 -9.8 -.9 -9.3 0 -2.9 -.2 -8.1 -1.1 -8.7 -.2 -2.8 -.5 -2.7 -.9 -1.6 -1.1 -.6 -1.1 -.1 -.6 .1 -1.1 .7 -1.6 1.3 -1.7 1.7 -1.1 1.8 -.7 2.2 -.4 8.7 -.5 7.5 -1.1 2.9 -.3 9.3 -.1 10.4 -.9 10.4 0 9.9 -.6 9.3 0 10.9 -.5 9.3 .1 9.9 -.5 10.4 .1 9.3 -.4 10.4 .2 10.4 -.4 9.3 .2 9.8 -.4 10.4 .2 9.9 -.3 9.8 .3 9.9 -.3 9.8 .3 9.3 -.3 5.5 .1 6 .2 9.9 -.2 9.8 .4 9.9 -.2 9.8 .4 10.4 -.2 9.3 .4 10.4 -.1 9.9 .5 9.8 -.1 9.9 .5 10.4 0 9.8 .6 9.4 0 10.3 .9 10.4 .1 9.9 1.4 8.8 .5 2.1 .4 1.9 .7 1.6 1.1 1 1.1 .7 1.1 .5 1.7 -.1 1.1 -.2 .5 -1.1 1.1 -.9 .6 -2.3 .8 -2.7 .5 -2.2 .2 -7.1 .1 -9.9 1.3 -10.4 0 -9.3 .9 -10.9 0 -9.9 .8 -9.8 -.1 -11 .8 -9.3 -.2 -9.8 .7 -9.9 -.2 -9.8 .8 -10.4 -.3 -9.9 .8 -9.8 -.4 -9.9 .9 -7.6 -.6 -2.8 0 -9.3 1 -2.2 -.1 -5.2 -.6 -2.4 -.1 -2.8 .1 -7.1 .9 -2.2 -.1 -4.9 -.7 -2.7 -.2 -2.9 .1 -6.4 .7zM766.3 328.8l-6 -.3 -9.9 .2 -9.8 -.4 -9.3 .1 -11 -.5 -9.3 .1 -9.3 -.5 -10.4 0 -9.8 -.5 -9.9 -.1 -9.8 -.5 -9.9 -.1 -10.4 -.5 -9.3 -.1 -10.4 -.6 -10.4 -.1 -9.8 -.6 -10.4 -.1 -9.9 -.7 -9.8 -.1 -9.9 -.7 -9.8 -.2 -4.8 -.4 -6.2 -.9 -7.8 -.2 -.5 -.6 2.3 -.2 5.5 0 6.1 -.9 5.4 -.5 9.8 -.1 10.4 -.7 9.3 -.1 10.4 -.6 9.3 -.1 11 -.6 9.3 0 9.8 -.6 10.4 0 9.3 -.5 10.4 0 10.4 -.5 9.3 0 10.4 -.4 9.9 0 10.4 -.4 9.8 0 9.9 -.3 9.8 .1 9.9 -.4 9.8 .2 10.4 -.3 9.9 .2 9.8 -.3 9.3 .3 9.9 -.2 6 .2 4.9 .1 9.9 -.2 9.8 .4 9.3 -.1 9.9 .3 9.8 0 10.4 .4 9.9 -.1 9.8 .5 9.3 0 11 .5 10.4 0 9.3 .5 10.4 0 9.8 .6 9.9 0 9.9 .6 10.4 .1 9.8 .6 9.9 .1 9.8 .7 9.9 .1 5.4 .5 6.1 .9 7.1 .1 .7 .1 -.5 .6 -7.9 .2 -6.2 .9 -4.7 .4 -9.9 .2 -10.4 .7 -9.3 .1 -10.4 .7 -9.8 .1 -9.4 .6 -10.9 .1 -9.8 .6 -9.9 .1 -9.9 .5 -9.8 .1 -11 .6 -9.3 0 -9.8 .5 -9.9 0 -10.4 .5 -9.8 -.1 -9.9 .5 -9.8 -.1 -9.9 .4 -9.8 -.2 -10.4 .4 -9.9 -.2 -9.3 .3 -9.8 -.3 -9.3 .2zM748.8 296.5l-7.7 -.4 -10.9 .2 -9.3 -.5 -9.9 .2 -10.4 -.6 -9.3 .1 -10.4 -.8 -10.4 0 -10.4 -1.1 -8.2 -.2 -2.1 -.2 -2.2 -.6 -1.4 -.5 -.7 -.6 -.1 -.5 .4 -.6 1.1 -.5 1.8 -.5 2.7 -.5 9.8 -.2 9.9 -1.1 9.8 0 9.9 -.7 9.8 0 9.9 -.5 10.4 .1 9.8 -.4 9.9 .1 10.4 -.3 9.8 .1 9.3 -.3 10.4 .3 9.9 -.3 9.8 .2 10.4 -.2 9.3 .3 9.9 -.1 5.5 .1 6 .2 9.3 -.1 10.4 .4 9.3 -.1 10.4 .5 9.3 0 10.4 .7 10.4 0 10.4 1.1 7.7 .1 2.7 .4 2.2 .5 1.7 .7 .5 .6 -.1 .5 -.8 .6 -1.9 .7 -2.7 .5 -2.7 .2 -7.2 .1 -10.9 1.2 -8.8 -.1 -9.8 .7 -11 0 -9.8 .6 -9.3 -.2 -10.4 .5 -9.9 -.2 -9.8 .4 -10.4 -.2 -9.9 .3 -9.8 -.2 -9.9 .3 -9.8 -.3 -9.9 .2 -10.4 -.3zM746.1 264.2l-5.5 -.3 -9.9 .3 -9.8 -.5 -9.9 .1 -10.4 -.6 -9.3 .2 -10.4 -.7 -10.4 .1 -2.8 -.3 -6.6 -1.1 -.3 -.5 6.7 -1.1 2.5 -.2 3.3 -.1 7.6 .2 10.4 -.7 9.3 .1 10.4 -.5 9.9 .1 9.3 -.4 10.9 .2 9.9 -.4 9.3 .2 10.4 -.3 9.8 .2 9.9 -.3 9.8 .3 9.9 -.2 10.4 .3 8.7 -.2 4.5 .1 7 .3 10.4 -.2 9.3 .4 9.9 -.1 10.4 .5 9.3 -.1 10.4 .7 7.7 -.2 3.2 .1 2.6 .2 6.6 1.1 -.2 .5 -6.6 1.1 -2.4 .3 -3.2 0 -7.7 -.1 -10.4 .7 -9.3 -.2 -10.4 .6 -9.9 -.1 -9.3 .5 -10.4 -.3 -10.4 .5 -9.3 -.3 -10.4 .4 -9.8 -.3 -9.3 .4 -11 -.4 -9.8 .3 -9.3 -.3 -9.9 .2zM649.7 261.5l-.3 -.1 -.1 -.5 2.6 -.4 2.2 -.1 4.4 .5 .3 0 -.4 .5 -3.7 .4 -2.8 0zM923.4 261.5l-.5 -.1 -.3 -.5 5.2 -.5 3.2 .3 1.1 .2 -.1 .5 -2.1 .4 -2.7 0z"/>
<path stroke="#d51910" d="M730.7 1307l-9.8 -.4 -10.4 0 -9.3 -.5 -8.8 0 -4.2 -.2 -3.4 -.6 -1 -.5 1.7 -.6 5.8 -.6 9.9 0 9.8 -.5 9.9 0 9.8 -.3 10.4 0 9.9 -.3 9.3 .2 10.4 -.3 9.8 .2 11 -.2 9.3 .2 9.8 -.2 9.9 .3 10.9 -.2 9.3 .3 9.3 -.1 10.4 .4 11 0 9.3 .5 10.9 .1 4.2 .5 1.8 .6 -1 .5 -3.5 .6 -3.1 .2 -9.3 0 -10.4 .5 -9.9 0 -9.7 .4 -10 -.1 -10.4 .3 -9.8 -.2 -9.3 .3 -10.4 -.2 -10.4 .2 -9.9 -.2 -9.3 .2 -10.4 -.3 -10.4 .2 -9.8 -.3zM770.1 1279.1l-9.3 -.2 -30.1 0 -9.3 -.2 -30.6 -.1 -9.9 -.2 -9.3 0 -30.6 -.5 -9.3 0 -10.4 -.3 -9.9 0 -10.4 -.4 -8.7 0 -11 -.4 -9.8 -.1 -10.4 -.6 -9.9 -.1 -2.8 -.2 -2.5 -.6 .7 -.5 4.6 -.6 10.4 -.1 10.4 -.6 9.3 -.1 9.3 -.4 11 0 9.8 -.4 9.9 0 9.8 -.4 10.4 0 9.9 -.3 9.8 .1 10.4 -.3 9.3 0 9.9 -.2 30.6 -.1 9.9 -.2 81 -.2 28.4 .2 9.9 0 9.3 .2 30.6 .1 9.9 .2 9.3 0 10.4 .3 10.4 -.1 9.8 .3 9.9 0 9.8 .4 9.9 0 10.4 .4 9.3 0 9.9 .4 10.9 .1 9.9 .6 10.4 .1 4.1 .6 .6 .5 -2.5 .6 -4.4 .3 -8.8 0 -9.8 .6 -9.9 .1 -10.4 .4 -9.3 0 -10.4 .4 -9.9 0 -9.8 .3 -9.9 0 -10.4 .3 -9.3 0 -10.9 .2 -9.3 0 -9.9 .2 -30.6 .1 -9.3 .2zM788.7 1250.6l-57.4 -.1 -30.1 -.4 -9.9 0 -60.2 -.9 -9.8 -.5 -9.9 -.1 -9.8 -.6 -10.4 -.3 -10.4 -1.1 -6.6 -.4 -3 -.5 -.8 -.6 .6 -.5 2.6 -.6 6.6 -.3 11 -1.2 10.4 -.3 9.8 -.6 9.9 -.1 10.4 -.5 9.3 0 9.8 -.4 10.4 0 9.9 -.3 9.8 0 9.9 -.2 10.4 0 9.8 -.2 81.6 -.3 27.9 .1 10.4 -.1 9.8 .2 9.3 -.1 30.1 .4 9.9 -.1 60.2 1 9.8 .5 9.9 .1 9.9 .6 10.4 .3 10.9 1.2 6.6 .3 2.6 .6 .6 .5 -.7 .6 -3.1 .5 -6 .4 -10.9 1.1 -10.4 .3 -9.9 .6 -9.9 .1 -9.8 .5 -9.9 0 -9.8 .4 -10.4 0 -9.9 .3 -9.8 0 -9.9 .2 -10.4 0 -9.8 .2zM789.3 1222.2l-38.3 -.1 -59.7 -.4 -59.6 -.8 -59.7 -1 -59.7 -1.2 -10.3 -.4 -9.9 -.1 -9.9 -.4 -9.8 -.1 -10.4 -.5 -10.4 -.2 -9.3 -.7 -7.7 -.2 -3.9 -.5 .9 -.5 1.4 -.2 8.2 -.3 11.5 -.8 9.3 -.1 9.8 -.5 10.4 -.2 9.9 -.4 79.9 -1.8 29.6 -.5 10.4 -.3 9.8 -.1 9.9 -.2 59.6 -.9 59.7 -.5 9.8 0 9.3 -.1 10.4 .1 11.5 -.1 8.2 .1 30.7 0 59.1 .5 59.7 .9 9.8 .2 9.9 .1 10.4 .3 29.5 .5 79.9 1.8 9.9 .4 10.4 .2 9.8 .5 9.3 .1 11.5 .8 8.2 .3 1.5 .2 .8 .5 -3.9 .5 -7.7 .2 -8.7 .7 -11 .2 -10.4 .5 -9.8 .1 -9.9 .4 -9.8 .1 -10.4 .4 -59.7 1.2 -59.6 1 -59.7 .8 -59.7 .4zM729.1 1193.7l-27.9 -.3 -10.4 .1 -9.9 -.2 -9.8 0 -9.9 -.2 -10.4 0 -9.3 -.3 -10.4 0 -9.8 -.2 -9.9 -.1 -9.8 -.3 -10.4 -.1 -9.9 -.4 -9.8 -.1 -9.9 -.5 -9.8 -.1 -9.9 -.7 -9.3 -.3 -3.8 -.4 -7.7 -1 -7.1 -.6 -1.9 -.3 -1.9 -.6 -1.2 -.5 -.7 -.5 -.4 -.6 -.1 -.5 .3 -.6 .5 -.5 1 -.6 1.6 -.5 2.2 -.4 7.7 -.6 9.9 -1.2 10.9 -.4 9.9 -.7 9.8 -.1 9.9 -.6 10.4 -.1 9.8 -.4 9.9 0 9.3 -.4 10.9 0 9.3 -.3 9.9 0 10.4 -.3 9.8 0 9.3 -.2 11 0 9.8 -.2 9.9 0 10.4 -.2 9.8 .1 9.9 -.2 9.8 .1 9.9 -.2 9.8 .1 9.9 -.2 9.8 .2 11 -.2 9.3 .2 9.8 -.2 9.9 .2 9.8 -.1 9.9 .2 14.2 -.1 6 .2 10.4 -.1 9.9 .2 9.8 0 9.9 .2 9.8 0 9.9 .2 9.3 0 10.4 .3 10.4 0 9.8 .3 9.9 0 9.9 .4 10.4 0 9.8 .5 9.9 0 9.8 .6 9.9 .1 9.8 .7 9.3 .3 3.3 .2 8.2 1.1 7.1 .5 2.8 .5 1.7 .5 .9 .6 .6 .5 .2 .6 0 .5 -.4 .6 -.7 .5 -1.2 .5 -3.3 .8 -7.7 .7 -10.2 1.3 -10.6 .4 -9.8 .7 -9.9 .1 -10.4 .5 -9.3 .1 -9.8 .4 -10.4 .1 -10.4 .3 -9.4 .1 -9.8 .2 -9.9 0 -9.8 .3 -10.4 0 -9.9 .2 -9.8 0 -9.9 .2 -10.4 -.1 -29.5 .3 -30.1 0 -9.9 .2 -10.4 -.2 -9.3 .2 -9.8 -.2 -10.4 .2 -9.9 -.2zM766.8 1165.8l-6.5 -.1 -9.9 .1 -9.8 -.2 -9.3 0 -9.9 -.2 -9.8 0 -10.4 -.3 -9.9 0 -9.8 -.3 -9.9 0 -9.8 -.3 -30.1 -.5 -9.9 -.4 -9.8 -.1 -10.4 -.3 -29.6 -.6 -9.8 -.3 -9.9 -.2 -10.4 -.3 -89.2 -2.1 -59.1 -1.6 -11.5 -.6 -10.4 -.3 -17.1 -1.2 1.8 -.6 5.4 -.2 9.7 -.9 11.1 -.3 10.4 -.5 59.7 -1.7 69.5 -1.8 9.9 -.4 9.8 -.1 10.4 -.5 9.9 -.1 29.5 -1 10.4 -.2 9.3 -.4 10.4 -.2 9.9 -.4 9.8 -.2 9.9 -.4 10.4 -.1 9.8 -.5 9.9 -.1 9.8 -.5 9.9 0 10.4 -.5 9.8 .1 9.9 -.5 9.8 .1 9.9 -.4 10.4 .2 9.3 -.4 9.3 .2 10.4 -.3 9.8 .3 9.9 -.3 5.5 .3 5.4 .2 9.9 -.2 9.3 .4 9.8 -.1 9.9 .5 9.8 -.1 10.4 .5 9.9 0 9.8 .5 10.4 .1 9.3 .5 10.4 .1 9.9 .4 9.9 .2 9.8 .4 10.4 .2 9.3 .4 10.4 .2 30.1 1 9.3 .1 30.1 1 109.5 2.9 41.2 1.4 9.7 .9 5.5 .2 1.7 .6 -17.6 1.3 -40.5 1.3 -218.9 5.4 -29.6 .5 -10.4 .3 -9.9 0 -9.3 .3 -10.4 0 -10.4 .3 -9.8 0 -9.3 .2 -10.4 0 -10.4 .2 -9.3 -.1 -9.9 .2 -9.3 -.1 -10.4 .1 -9.8 -.1zM1387.5 917.9l-21.3 1.2 -107.9 3.4 -39.4 1.6 -23.5 1.5 -12.7 1.7 -1.7 .5 .5 .6 3.1 .5 8.6 1.1 6 .6 8.8 .4 9.8 .7 10.4 .3 9.9 .6 39.9 1.5 10.6 .3 38.7 1.6 6.1 .6 3.2 .5 .6 .6 -2.5 .5 -7.4 .8 -9.9 .4 -9.3 .6 -9.3 .3 -10.9 .6 -29.6 1.2 -21.3 1.1 -20.4 1.6 -6.6 1.1 -2.1 .5 -1.2 .6 .3 .5 1.7 .6 5.4 1.1 4.4 .5 19.6 1.4 10.4 .5 9.3 .6 9.8 .4 10.4 .7 10.4 .3 10.4 .7 9.3 .4 5.9 .5 9 1.1 -2 .5 -13.4 1.2 -38.9 1.6 -10.4 .3 -39.9 1.4 -9.9 .5 -10.4 .4 -9.3 .6 -9.8 .4 -20.2 1.8 -2.1 .6 -.6 .5 1 .6 3.3 .7 15.8 1.5 21.9 1.2 40 1.6 70 2.2 39.4 1.5 14.3 1.1 1.1 .6 -12.6 1.1 -21.9 .9 -90.3 2.7 -39.4 1.5 -19.7 .9 -21.4 1.3 -17.7 2 -1.4 .5 .2 .5 1.9 .6 18.1 1.9 9.9 .4 9.8 .7 9.9 .3 9.8 .6 10.4 .3 10.4 .5 9.3 .2 10.4 .6 10.4 .3 9.9 .6 8.2 .2 6.3 .5 9.1 1.1 -.7 .6 -13.1 1.5 -9.8 .4 -10.2 .8 -10.1 .4 -10.4 .8 -9.3 .4 -10.4 .9 -10.4 .7 -4.4 .6 -5.9 1.1 -2.5 .6 -1.4 .5 .1 .6 1.6 .5 8.3 1.6 3.7 .6 10.9 .7 9.9 1 9.7 .5 10 .9 12.6 .7 12.3 1.7 -1.7 .5 -9.4 1.1 -4.5 .3 -9.3 .3 -9.9 .6 -9.3 .2 -10.4 .5 -9.8 .2 -9.9 .5 -9.8 .2 -10.4 .6 -9.9 .2 -9.8 .6 -10.4 .3 -9.9 .8 -8.2 .3 -4.7 .4 -3.7 .6 -5.9 1.1 -.8 .5 1.6 .6 2.9 .5 7.2 1.1 22 1.5 9.9 .3 10.4 .6 38.8 1.5 69.9 2.1 39.6 1.4 19.7 1.2 1.1 .1 .7 .6 -4.9 .5 -5.7 .3 -9.3 .6 -20.1 .8 -90.4 2.6 -60.2 2.2 -9.3 .5 -10.4 .4 -9.9 .7 -9.8 .4 -10.4 1.1 -9.9 .8 -2.2 .6 -.9 .5 .2 .6 1.4 .5 3.4 .6 7.4 .4 9.9 1 10.9 .4 10.4 .7 9.9 .3 9.3 .6 10.4 .2 9.8 .6 10.4 .2 9.9 .7 9.8 .2 10.4 .9 7.8 .3 3.7 .6 .9 .5 -.7 .6 -2.4 .5 -9.8 .8 -10.4 1.3 -11 .9 -8.7 1.3 -8.8 1 -2.7 .7 -1.4 .6 -.6 .5 -.1 .6 .4 .5 .9 .6 1.9 .6 2.7 .6 8.2 1 9.9 1.8 9.2 .9 2 .6 .3 .2 .3 .3 -.8 .5 -3.9 .6 -6.6 .2 -10.9 1 -9.3 .2 -9.9 .6 -10.9 .3 -9.3 .5 -9.9 .1 -10.4 .6 -10.4 .1 -9.3 .5 -10.4 .2 -9.8 .6 -10.4 .2 -9.9 .7 -8.7 .3 -4.4 .3 -7.1 1 -6.1 .4 -2.3 .4 -.3 .5 2.2 .6 5.4 .4 8.7 1.2 4.4 .4 8.8 .4 10.4 .8 9.3 .3 10.4 .6 39.4 1.6 59.6 1.9 49.8 1.4 40 1.4 12.2 1.1 1.6 .5 -11.6 1.2 -22.5 .9 -129.1 3.6 -79.4 2.8 -10.4 .6 -9.8 .3 -10.4 .6 -9.3 .3 -11 .8 -8.7 .3 -9.9 1.1 -8.2 .3 -3.4 .4 -1.9 .5 -.5 .6 .7 .5 2.4 .5 2.7 .2 7.7 .1 9.3 .9 10.4 .2 10.4 .7 9.8 .1 9.9 .5 9.8 .1 10.4 .6 9.9 .1 9.8 .5 11 .2 9.3 .5 9.8 .2 10.4 .7 10.4 .3 9.3 1 7.1 .4 2.8 .4 1.5 .6 .3 .5 -.3 .5 -.7 .6 -2.8 1.1 -6.2 1.6 -2.1 1.1 -.5 .6 -.4 1.1 .3 2.2 -.1 .5 -.3 .5 -.8 .6 -1.3 .5 -3.1 .8 -3.2 .5 -10.4 .5 -10.4 .8 -9.3 .2 -10.4 .6 -9.3 .1 -9.9 .4 -10.4 .1 -9.8 .4 -9.9 .1 -10.9 .4 -9.3 0 -9.9 .4 -10.4 0 -9.8 .4 -9.9 0 -9.8 .3 -9.9 0 -9.9 .4 -9.8 -.1 -11 .4 -9.3 -.1 -9.8 .4 -9.9 -.1 -9.8 .4 -10.4 -.1 -9.3 .4 -10.4 -.2 -9.9 .4 -9.8 -.2 -10.4 .4 -9.9 -.4 -9.8 .4 -9.9 -.4 -9.8 .4 -9.3 -.4 -10.4 .2 -9.9 -.4 -9.8 .2 -9.9 -.4 -9.8 .1 -10.4 -.4 -9.3 .1 -10.4 -.4 -9.9 .1 -9.8 -.4 -10.4 .1 -9.3 -.4 -10.4 0 -9.9 -.3 -9.8 0 -9.9 -.4 -9.8 0 -10.4 -.4 -9.3 0 -10.4 -.4 -10.4 -.1 -9.9 -.4 -10.4 -.1 -9.8 -.4 -9.4 -.1 -9.8 -.6 -9.9 -.2 -10.4 -.8 -9.3 -.4 -3.8 -.5 -3.5 -.9 -1.3 -.5 -.8 -.6 -.4 -.5 -.1 -.5 .4 -1.7 -.1 -1.1 -.8 -1 -.8 -.6 -2.4 -1 -6.1 -1.5 -1.8 -.8 -.8 -.6 -.2 -.5 .3 -.5 1.4 -.6 1.1 -.2 8.8 -.6 9.8 -1.1 10.4 -.2 9.9 -.7 9.9 -.2 9.3 -.5 10.9 -.2 9.9 -.5 10.4 -.1 9.8 -.6 9.9 0 9.8 -.6 9.9 -.1 10.4 -.7 10.4 -.2 9.3 -.9 7.6 -.1 2.8 -.2 2.4 -.5 .7 -.5 -.5 -.6 -1.9 -.5 -3.5 -.4 -7.6 -.2 -10.4 -1.2 -8.8 -.3 -10.9 -.8 -9.3 -.3 -10.4 -.7 -9.9 -.2 -10.4 -.6 -79.4 -2.8 -129.1 -3.6 -22.5 -.9 -11.5 -1.2 1.6 -.5 12.2 -1.1 39.9 -1.4 89.7 -2.7 59.7 -2.2 9.8 -.6 9.9 -.3 9.9 -.8 9.8 -.5 3.3 -.3 8.7 -1.2 6.1 -.5 1.5 -.5 -.2 -.5 -1.3 -.3 -7.1 -.5 -6.1 -.8 -4.9 -.5 -9.3 -.3 -9.9 -.7 -10.4 -.2 -9.8 -.6 -9.9 -.2 -9.8 -.5 -10.4 -.2 -10.4 -.5 -9.9 -.1 -9.3 -.5 -10.9 -.3 -9.9 -.6 -9.3 -.2 -10.9 -1 -7.1 -.3 -3.3 -.5 -.6 -.3 -.3 -.2 .6 -.5 2.1 -.6 9.1 -.9 9.9 -1.8 8.2 -1 2.7 -.6 1.9 -.6 .9 -.6 .4 -.5 -.1 -.6 -.6 -.5 -1.4 -.6 -2.7 -.7 -8.8 -1 -8.7 -1.4 -11 -.8 -10.4 -1.3 -9.7 -.8 -2.4 -.5 -.7 -.6 .9 -.5 3.7 -.6 7.7 -.3 10.4 -.9 9.8 -.2 9.9 -.7 10.4 -.2 10.4 -.6 9.8 -.2 9.9 -.6 10.4 -.3 9.8 -.7 9.9 -.4 10.4 -1 7.1 -.4 2.2 -.3 1.6 -.3 1.4 -.5 .2 -.6 -.9 -.5 -2.2 -.6 -1.7 -.2 -8.3 -.6 -9.8 -1 -10.4 -.5 -9.9 -.7 -9.8 -.4 -9.3 -.5 -60.2 -2.2 -90.9 -2.6 -20.2 -.8 -9.3 -.6 -5.6 -.3 -4.9 -.5 .6 -.6 1.7 -.1 19.1 -1.2 39.6 -1.4 69.9 -2.1 39.4 -1.5 9.8 -.6 9.3 -.3 22.5 -1.5 4.2 -.6 6 -1 1.7 -.6 -.8 -.5 -8.9 -1.6 -5 -.5 -8.7 -.3 -9.9 -.8 -10.4 -.3 -9.8 -.6 -9.9 -.2 -10.4 -.6 -9.8 -.2 -9.9 -.5 -9.8 -.2 -10.4 -.5 -9.3 -.2 -9.9 -.6 -9.3 -.3 -4.5 -.3 -9.4 -1.1 -1.6 -.5 12.2 -1.7 12.6 -.7 10 -.9 9.7 -.5 9.9 -1 10.9 -.7 3.7 -.6 8.3 -1.6 1.6 -.5 .1 -.6 -1.4 -.5 -2.5 -.6 -5.8 -1.1 -4.5 -.6 -10.4 -.7 -10.4 -.9 -9.3 -.4 -10.4 -.8 -10.1 -.4 -10.2 -.8 -9.8 -.4 -13 -1.5 -.8 -.6 9.1 -1.1 6.3 -.5 8.2 -.2 9.9 -.6 10.4 -.3 10.4 -.5 9.3 -.3 10.4 -.5 10.4 -.3 9.8 -.6 9.9 -.3 9.8 -.7 9.9 -.4 18.1 -1.9 2 -.6 .1 -.5 -1.4 -.5 -1.3 -.2 -15.3 -1.8 -22.4 -1.3 -19.8 -.9 -39.4 -1.5 -89.7 -2.7 -22.5 -.9 -12.6 -1.1 1.2 -.6 14.2 -1.1 39.9 -1.5 69.5 -2.2 40 -1.6 21.9 -1.2 15.8 -1.5 3.3 -.7 1 -.6 -.5 -.5 -2.1 -.6 -19.7 -1.8 -10.4 -.4 -9.3 -.6 -9.9 -.3 -10.4 -.6 -39.9 -1.4 -10.4 -.3 -38.9 -1.6 -13.4 -1.2 -2 -.5 9.1 -1.1 5.8 -.5 9.3 -.4 10.4 -.7 10.4 -.3 10.4 -.7 9.8 -.3 9.9 -.7 9.8 -.4 19.7 -1.5 4.3 -.5 5.5 -1.1 1.6 -.6 .3 -.5 -1.1 -.6 -2.2 -.5 -6.5 -1.1 -20.5 -1.6 -21.3 -1.1 -29.6 -1.2 -10.4 -.6 -9.8 -.3 -9.3 -.6 -9.9 -.4 -7.3 -.8 -2.5 -.5 .5 -.6 3.3 -.5 6.1 -.6 38.8 -1.6 10.4 -.3 39.9 -1.5 9.9 -.5 10.4 -.4 9.8 -.7 9.3 -.4 14.2 -1.7 3 -.5 .5 -.6 -1.7 -.5 -12.6 -1.7 -23.1 -1.4 -39.9 -1.7 -108.4 -3.5 -20.5 -1 -3.5 -.6 .3 -.5 4.6 -.6 7.6 -.3 11 -.6 89.2 -2.9 41 -1.6 21.1 -1.1 16.1 -1.3 3 -.4 2.4 -.5 1 -.6 -.2 -.5 -1.3 -.6 -2.9 -.5 -20.6 -1.7 -39.9 -1.8 -89.8 -3.1 -19.1 -1.2 -2.2 -.4 .7 -.6 4.2 -.4 15.9 -1 70.6 -2.9 20.2 -1 19.2 -1.2 5.6 -.6 7.5 -1.1 2.7 -.5 .6 -.6 -1.5 -.5 -11.2 -1.7 -21.8 -1.4 -41 -1.9 -30.1 -1 -39 -1.7 -6.7 -.5 -4.1 -.6 -1.2 -.5 3.1 -.6 5.1 -.5 3.9 -.2 19.5 -.9 69.2 -2.4 39.9 -1.8 18.4 -1.3 3 -.3 3.8 -.8 1.2 -.5 0 -.6 -1.3 -.5 -2.6 -.6 -4.8 -.5 -17.1 -1.2 -19.2 -1 -41 -1.6 -88.7 -2.8 -20.9 -1.1 -3.7 -.5 .2 -.6 4.3 -.5 19 -1 89.8 -2.9 40.5 -1.6 22.4 -1.4 13.5 -1.3 2.9 -.6 .7 -.5 -.8 -.6 -3.1 -.5 -13.2 -1.3 -23 -1.4 -39.9 -1.5 -71.2 -2.4 -19.7 -.8 -8.6 -.8 -2.9 -.6 2.5 -.5 4.9 -.5 5.8 -.4 19.1 -.9 70.1 -2.5 19.7 -.8 19.7 -1.1 19.1 -1.6 3.3 -.6 1.1 -.4 .4 -.5 -.8 -.5 -2.1 -.6 -1.9 -.2 -19.7 -1.7 -18.6 -1 -20.2 -.9 -90.3 -3.1 -19.2 -1.2 -1.3 -.1 -1.7 -.5 1.8 -.6 1.2 -.1 19.2 -1.1 90.3 -3.1 39.9 -1.8 18.6 -1.3 5.5 -.8 1.9 -.5 .5 -.6 -.7 -.5 -2 -.6 -4.6 -.6 -17.5 -1.3 -21.4 -1.1 -40.5 -1.5 -70 -2.2 -21.4 -.8 -16.3 -1.2 .1 -.6 18.4 -1.3 39.7 -1.4 50.1 -1.6 40.5 -1.5 22.6 -1.3 14 -1.2 3.2 -.4 1.8 -.6 .3 -.5 -1 -.6 -2.7 -.5 -19.6 -1.7 -19.7 -1 -20.3 -.8 -89.2 -3 -18.6 -.7 -13.5 -1 -3.3 -.6 10.2 -1.1 6.1 -.4 19.1 -.8 89.2 -3 20.3 -.9 18.6 -1.1 8.8 -.9 7.1 -1.1 1.1 -.5 -1.4 -.6 -3.3 -.5 -10.1 -1.3 -21.4 -1.2 -39.4 -1.6 -89.5 -3 -18.3 -1.1 -2.9 -.6 1.8 -.5 19.2 -1.2 89.7 -3 41.6 -1.7 18.6 -1.1 6.2 -.7 7.8 -1.1 1.7 -.5 -.7 -.6 -3.1 -.5 -10.2 -1.3 -21.9 -1.3 -40 -1.6 -89.7 -2.9 -20.3 -1.1 -4.6 -.6 0 -.5 3.4 -.6 21.2 -1.1 90 -2.9 40.5 -1.7 21.9 -1.4 7.5 -1.1 2.3 -.5 .4 -.6 -1.7 -.5 -6.8 -1.1 -5.9 -.6 -17.7 -1 -40.5 -1.7 -89.7 -2.9 -19.5 -.9 -5 -.6 -1.2 -.5 2 -.6 4 -.3 18.6 -.9 110.5 -3.8 21.7 -1 17.2 -1.1 5.4 -.5 5.6 -1.1 .8 -.6 -.8 -.5 -2.3 -.6 -3.3 -.5 -4.9 -.5 -17.5 -1.1 -41.6 -1.8 -90.3 -3 -19.1 -.8 -4.8 -.5 -2.4 -.5 1.1 -.6 4.4 -.5 21.4 -1 89.7 -2.9 40.5 -1.8 21.6 -1.4 3.8 -.6 2.6 -.5 1.4 -.6 -.2 -.5 -1.8 -.6 -2.9 -.5 -4.3 -.6 -20.7 -1.3 -40 -1.7 -91.4 -3 -21.6 -1.1 -3.5 -.5 -.2 -.6 3.2 -.5 3.5 -.3 19.7 -.9 90.3 -2.9 39.4 -1.7 20.8 -1.3 4.5 -.6 3 -.5 1.9 -.6 .4 -.5 -1.3 -.6 -2.5 -.5 -3.7 -.5 -22 -1.6 -40.5 -1.7 -89.7 -2.9 -20.8 -1 -4.8 -.5 -1.3 -.6 2.1 -.5 5.6 -.5 18.6 -.9 70.6 -2.2 39.4 -1.5 20.8 -.9 17.5 -1.1 5.7 -.6 3.4 -.5 2.3 -.6 1 -.5 -.7 -.5 -2.2 -.6 -3.2 -.5 -5 -.6 -17.7 -1.1 -20.8 -1 -40.5 -1.5 -70 -2.2 -19.7 -1 -3.6 -.3 -2.4 -.5 1 -.6 4.5 -.5 20.2 -1 89.7 -2.9 40.5 -1.7 17.5 -1.1 5.7 -.5 7 -1 1.8 -.6 -.2 -.5 -2.1 -.6 -3.3 -.5 -4.5 -.6 -22.4 -1.5 -40 -1.6 -89.2 -2.9 -21.5 -1.1 -3.8 -.5 -.2 -.6 3.1 -.5 1.6 -.2 19.7 -1 90.3 -2.9 40 -1.6 21.9 -1.3 5.8 -.7 7.3 -1.1 .9 -.5 -1.5 -.6 -7.6 -1.1 -7.1 -.7 -18.6 -1.1 -41.1 -1.7 -89.7 -3 -19 -1.1 -2.1 -.6 2.4 -.5 18.7 -1.2 89.7 -3 40 -1.6 20.8 -1.3 9.7 -1.1 3.5 -.6 1.5 -.5 -.8 -.6 -3.1 -.5 -8.1 -1.1 -5.5 -.5 -18 -1 -20.3 -.9 -89.7 -3.1 -18.6 -.8 -5.5 -.3 -10.7 -1.1 2.6 -.5 14.1 -1.1 38.3 -1.4 69.5 -2.3 20.3 -.8 19.3 -1 19.6 -1.6 2.9 -.6 1.2 -.5 -.2 -.6 -1.7 -.5 -3.4 -.5 -13.6 -1.2 -23 -1.3 -40.5 -1.6 -49.8 -1.5 -40 -1.4 -18.1 -1.3 -.7 -.5 16.6 -1.3 21.9 -.9 69.5 -2.1 40.5 -1.5 21.4 -1.1 17.5 -1.3 4.3 -.6 2.1 -.5 .9 -.6 -.4 -.5 -2.5 -.7 -5.5 -.7 -18.1 -1.3 -39.9 -1.8 -90.3 -3.1 -19.2 -1.1 -3 -.6 1.4 -.6 2.2 -.2 18.6 -1.1 90.3 -3.2 20.2 -.8 18.6 -1 20.3 -1.7 3.3 -.7 .9 -.6 -.4 -.5 -1.6 -.6 -3.3 -.5 -18.6 -1.5 -19.7 -1.1 -19.7 -.8 -70.1 -2.5 -19.1 -.9 -5.2 -.3 -5.1 -.6 -2.9 -.5 2.5 -.6 9.6 -.8 19.1 -.9 71.2 -2.3 40.5 -1.6 22.4 -1.3 12.8 -1.3 3.3 -.5 1 -.6 -.6 -.5 -2.6 -.6 -13.9 -1.4 -22.3 -1.3 -40.6 -1.6 -89.8 -2.9 -18.6 -1 -4.5 -.5 -.5 -.6 3.4 -.5 20.3 -1.1 89.7 -2.9 40.5 -1.5 19.7 -1 16.9 -1.2 4.7 -.5 2.7 -.6 1.4 -.5 .2 -.6 -1.1 -.5 -4 -.8 -2.8 -.3 -18.6 -1.4 -39.9 -1.8 -69 -2.3 -19.7 -.9 -8.6 -.7 -3.3 -.6 .7 -.5 3.9 -.6 6.3 -.5 9.8 -.3 10.9 -.6 68.4 -2.6 21.9 -1.1 21.4 -1.4 11.4 -1.7 1.7 -.5 -.5 -.6 -2.5 -.5 -7.4 -1.1 -6 -.6 -19.2 -1.3 -20.2 -.9 -71.2 -2.9 -19.3 -1.4 -1 -.6 2.7 -.5 19.3 -1.2 89.2 -3.1 39.4 -1.7 20.8 -1.7 3 -.5 1.5 -.6 .2 -.5 -.9 -.5 -2.2 -.6 -4.8 -.5 -16.5 -1.3 -19.2 -1 -41 -1.6 -89.2 -2.9 -19.2 -1 -3.8 -.4 -.7 -.6 3.2 -.5 20.3 -1.1 109.1 -3.5 39.9 -1.7 22.6 -1.4 12.8 -1.6 2 -.6 -.3 -.5 -2.8 -.6 -9.6 -1.2 -5.5 -.5 -8.8 -.4 -9.8 -.7 -10.4 -.4 -9.9 -.5 -39.9 -1.5 -9.9 -.3 -38.3 -1.6 -6.7 -.5 -3.5 -.6 -.8 -.5 2.3 -.6 4.2 -.5 3.4 -.3 9.9 -.4 9.3 -.6 49.8 -2.1 21.3 -1.2 20.1 -1.4 6.7 -1.1 2.2 -.6 1.3 -.5 -.2 -.6 -1.5 -.5 -5.3 -1.1 -4.7 -.6 -19.7 -1.5 -9.8 -.4 -9.3 -.6 -10.4 -.4 -10.4 -.7 -10.4 -.3 -9.9 -.7 -9.8 -.4 -5.4 -.4 -9.3 -1.1 1.4 -.6 10.7 -1.1 3.1 -.2 8.8 -.2 11.5 -.6 8.7 -.2 10.4 -.5 9.9 -.3 39.9 -1.4 9.9 -.5 10.4 -.4 9.8 -.6 9.9 -.4 19.4 -1.8 2.2 -.5 .7 -.6 -.5 -.5 -1 -.3 -3.3 -.6 -15.9 -1.4 -21.3 -1.2 -40 -1.7 -70 -2.1 -39.9 -1.5 -13.2 -1.1 -1.9 -.5 12.8 -1.2 22.5 -.9 89.7 -2.8 39.4 -1.4 19.7 -.9 22.5 -1.4 15.3 -1.7 1.1 -.1 1.6 -.6 -.1 -.5 -1.7 -.6 -18.4 -1.9 -9.9 -.4 -9.8 -.7 -9.9 -.3 -9.8 -.6 -10.4 -.3 -10.4 -.5 -9.3 -.3 -10.4 -.5 -10.4 -.3 -9.3 -.6 -9.3 -.3 -5.3 -.4 -9.3 -1.1 .1 -.5 8.5 -1.1 5.7 -.6 9 -.3 9.9 -.8 10.4 -.4 10.4 -.8 9.3 -.4 10.4 -.9 9.8 -.7 7.9 -1.1 5.3 -1.1 1.6 -.6 0 -.5 -1.5 -.6 -8.2 -1.6 -3.8 -.6 -11.1 -.8 -9.9 -.9 -9.3 -.5 -10.4 -.9 -12.5 -.7 -12.1 -1.6 1 -.6 9.3 -1.1 5 -.3 8.8 -.3 9.3 -.5 10.9 -.3 9.9 -.5 9.8 -.3 9.9 -.4 9.8 -.3 10.4 -.5 9.9 -.2 9.8 -.6 10.4 -.4 9.9 -.7 8.7 -.4 5.5 -.5 8.2 -1.4 1 -.6 -1.5 -.5 -5.9 -1.1 -4.5 -.6 -22.5 -1.5 -8.7 -.3 -11 -.6 -38.8 -1.5 -69.5 -2.1 -40.5 -1.5 -19.2 -1.1 -.8 -.1 -1 -.6 4 -.5 6 -.2 12.6 -.9 38.3 -1.3 89.2 -2.6 41.1 -1.5 8.7 -.5 10.4 -.4 9.9 -.7 10.4 -.5 9.8 -1 8.8 -.7 3.3 -.7 .9 -.5 -.1 -.5 -1.2 -.6 -1.8 -.3 -2.2 -.3 -7.1 -.4 -10.4 -1.1 -9.9 -.3 -9.8 -.7 -10.4 -.3 -9.9 -.6 -9.8 -.2 -10.4 -.6 -10.4 -.3 -9.9 -.6 -9.8 -.2 -10.4 -1 -7.1 -.2 -4.1 -.6 -1.1 -.5 .6 -.5 2.2 -.6 10 -.8 10.4 -1.4 11.5 -.8 7.7 -1.2 9.8 -1.2 2.3 -.6 1.6 -.8 .3 -.3 .1 -.6 -.3 -.5 -.9 -.5 -2 -.7 -2.7 -.6 -8.2 -1 -9.9 -1.8 -8.8 -.9 -2.2 -.5 -.8 -.6 .7 -.5 3.4 -.6 7.2 -.3 11.5 -1 8.7 -.2 9.9 -.6 10.9 -.2 9.3 -.5 9.9 -.1 10.4 -.6 10.4 -.1 9.8 -.6 9.9 -.1 9.8 -.6 10.4 -.2 9.9 -.7 9.3 -.3 4.5 -.4 6.5 -.9 7.6 -.6 .7 -.2 .4 -.5 -1.8 -.6 -7.5 -.6 -6.7 -1 -3.7 -.4 -9.8 -.4 -9.9 -.8 -9.9 -.3 -9.8 -.6 -60.2 -2.3 -110 -3.3 -8.8 -.4 -12 -.4 -10 -1 -2.4 -.5 11.8 -1.2 22.5 -.9 129.1 -3.7 79.4 -2.7 10.4 -.6 9.9 -.3 10.4 -.7 9.8 -.2 10.4 -.9 8.8 -.2 10.9 -1.2 7.1 -.2 3.2 -.3 2.1 -.6 .6 -.5 -.6 -.6 -2.3 -.5 -3 -.2 -7.6 -.1 -9.3 -1 -10.4 -.1 -10.4 -.7 -9.3 -.1 -10.4 -.6 -9.9 -.1 -9.8 -.5 -10.4 -.1 -9.9 -.5 -10.9 -.2 -9.3 -.5 -9.9 -.2 -9.9 -.7 -10.9 -.3 -9.3 -1 -8.8 -.6 -.9 -.2 -1.5 -.5 -.4 -.6 .2 -.5 .7 -.6 1.9 -.8 6.1 -1.5 2.3 -.9 .9 -.7 .8 -1 .1 -1.1 -.4 -1.6 .1 -.6 .3 -.5 .8 -.6 1.3 -.5 4.2 -1.1 3.8 -.4 8.7 -.3 9.4 -.8 10.9 -.2 9.3 -.6 9.9 -.1 10.4 -.5 9.8 0 9.3 -.4 11 -.1 9.8 -.4 9.9 0 10.4 -.4 9.3 0 10.4 -.4 9.8 0 9.9 -.3 9.8 0 9.9 -.4 10.4 0 9.8 -.3 9.9 0 10.4 -.4 9.8 .1 9.3 -.4 9.9 .2 10.9 -.4 9.3 .2 9.9 -.4 10.4 .2 9.3 -.4 10.4 .3 9.3 -.3 9.8 .3 10.4 -.3 9.3 .4 10.4 -.2 9.9 .4 9.3 -.2 10.9 .4 9.9 -.2 9.8 .4 9.9 -.1 9.8 .4 9.9 0 10.4 .3 9.3 0 10.4 .4 9.3 -.1 10.4 .4 10.4 0 9.3 .4 10.4 0 9.9 .4 9.8 0 10.4 .4 10.4 .1 9.3 .4 9.9 0 9.8 .5 11 .2 9.3 .5 9.3 .2 10.4 .8 10.4 .4 3.2 .5 3.2 .9 1.2 .5 .8 .6 .4 .5 0 .6 -.3 2.2 .4 1.1 .6 .5 2 1.1 6.4 1.6 2.7 1.1 .7 .6 .2 .5 -.4 .6 -1.5 .5 -2.7 .4 -7.1 .4 -9.3 1 -10.9 .3 -9.9 .7 -9.8 .2 -9.3 .5 -11 .2 -9.8 .5 -9.9 .1 -10.4 .5 -9.8 .1 -9.9 .6 -9.8 .1 -10.4 .7 -10.4 .1 -9.3 1 -7.7 .1 -2.9 .2 -2.3 .5 -.7 .6 .7 .5 2.1 .6 3.1 .3 7.1 .2 11 1.2 8.7 .2 11 .9 9.3 .2 10.4 .7 10.4 .3 9.8 .6 79.4 2.7 129.1 3.7 22.5 .9 11.8 1.2 -2.3 .5 -12.9 1.1 -8.1 .2 -9.9 .5 -10.4 .3 -10.4 .4 -49.8 1.4 -59.6 1.9 -39.4 1.6 -10.4 .6 -8.8 .3 -10.9 .8 -11.5 .6 -8.8 1.2 -7.4 .6 -1.8 .6 .4 .5 1.7 .3 6.6 .5 6.5 .9 5 .4 8.7 .2 9.9 .8 10.4 .2 9.9 .6 10.3 .2 9.3 .5 10.4 .1 10.4 .6 9.9 .1 9.8 .5 10.4 .2 9.9 .6 9.3 .3 10.9 .9 7.3 .3 3.3 .6 .7 .5 -.7 .6 -2.2 .5 -8.9 .9 -9.9 1.8 -7.6 .9 -2.8 .5 -2.2 .7 -1.1 .7 -.4 .5 .2 .6 .2 .2 1.6 .9 2.3 .6 9.8 1.2 7.7 1.2 11.5 .8 10.4 1.4 10.1 .8 2.2 .6 .6 .5 -1.1 .5 -4.2 .6 -7.1 .3 -10.4 .9 -9.8 .2 -9.9 .7 -10.4 .2 -9.8 .6 -10.4 .2 -9.3 .6 -9.9 .3 -10.4 .7 -10.9 .4 -9.9 1 -7.9 .5 -3 .5 -1.4 .6 -.1 .5 1 .5 2.4 .6 9.6 .8 10.4 1.1 9.8 .4 9.9 .7 10.4 .4 9.3 .5 40.5 1.5 89.2 2.6 38.3 1.3 12.6 .9 6 .2 4.1 .5 -1.1 .6 -.8 .1 -19.2 1.2 -39.9 1.4 -70.1 2.1 -38.8 1.5 -11 .6 -8.7 .3 -23 1.5 -7.1 1.1 -2.8 .6 -1.5 .5 1.1 .6 9.8 1.6 4.3 .4 8.8 .3 8.7 .7 11 .4 9.8 .6 9.9 .2 10.4 .5 9.8 .3 9.9 .4 9.8 .3 9.9 .5 10.9 .3 9.3 .5 8.8 .3 5 .3 9.3 1.1 1.1 .6 -12.1 1.6 -12.6 .7 -10.4 .9 -9.3 .5 -9.9 1 -11.1 .7 -3.7 .6 -8.3 1.6 -1.4 .6 0 .5 1.5 .6 5.4 1.1 7.8 1.1 9.8 .7 10.4 .9 9.3 .4 11 .8 9.8 .4 9.9 .8 9.1 .3 5.6 .6 8.6 1.1 0 .5 -9.2 1.1 -5.4 .4 -9.3 .3 -9.3 .6 -10.4 .3 -10.4 .5 -9.3 .3 -10.4 .5 -10.4 .3 -9.8 .6 -9.9 .3 -9.8 .7 -10.4 .4 -17.9 1.9 -1.7 .6 0 .5 1.6 .6 17.4 1.9 21.9 1.3 19.2 .9 39.4 1.4 89.7 2.8 22.5 .9 12.9 1.2 -1.9 .5 -13.3 1.1 -39.9 1.5 -70 2.1 -40 1.7 -21.3 1.2 -15.9 1.5 -3.3 .5 -.9 .3 -.6 .5 .7 .6 2.3 .5 19.3 1.8 9.9 .4 9.8 .6 10.4 .4 9.9 .5 39.9 1.4 10.4 .3 9.9 .5 8.7 .2 11.5 .6 8.8 .2 3.2 .2 10.7 1.1 1.3 .6 -9.3 1.1 -5.4 .4 -9.8 .4 -9.9 .7 -10.4 .3 -10.4 .7 -9.8 .3 -9.3 .7 -10.4 .4 -19.7 1.5 -4.6 .6 -5.3 1.1 -1.6 .5 -.1 .6 1.2 .5 2.3 .6 6.7 1.1 20 1.4 21.3 1.2 29.6 1.2 10.9 .6 9.3 .3 9.3 .6 9.9 .4 3.5 .3 4.2 .5 2.3 .6 -.9 .5 -3.4 .6 -6.8 .5 -38.3 1.6 -9.9 .3 -39.9 1.5 -9.9 .5 -10.4 .4 -9.8 .7 -8.8 .4 -5.4 .5 -9.6 1.2 -2.8 .6 -.3 .5 1.9 .6 12.9 1.6 23 1.4 39.4 1.7 109.2 3.5 20 1M1387.5 859.4l-89.8 2.8 -39.9 1.6 -20.3 1 -17.1 1.2 -4.8 .5 -2.5 .6 -1.3 .5 -.1 .6 1.2 .5 2.4 .6 4.5 .5 17.7 1.3 40.5 1.8 69.3 2.4 19.4 .9 3.9 .2 5.1 .5 3.1 .6 -1.1 .5 -4.1 .6 -6.8 .5 -8.9 .3 -10.4 .6 -68.9 2.6 -21.9 1.1 -21.8 1.4 -11.1 1.7 -1.5 .5 .6 .6 2.7 .5 7.5 1.1 6.1 .6 18.6 1.2 20.2 1 70.1 2.9 18.6 1.2 2.1 .2 .7 .6 -3.2 .5 -7.3 .4 -10.7 .7 -90 3.1 -39.8 1.8 -20.6 1.7 -2.9 .5 -1.4 .6 -.1 .5 1 .6 2.4 .5 4 .5 16.4 1.3 20.2 1 40.5 1.6 70.7 2.2 19.6 .7 19.2 1.1M1387.5 838.9l-19.7 .9 -70.1 2.3 -39.9 1.5 -23 1.4 -13.2 1.3 -3 .5 -.9 .6 .8 .5 2.9 .6 13.4 1.3 23.4 1.4 39.5 1.6 89.8 2.9M1387.5 819.7l-69.5 2.4 -41.1 1.6 -19.7 1.1 -15.3 1.3 -4.5 .5 -2.2 .6 -.7 .5 .4 .5 1.5 .5 3.3 .5 19.7 1.7 38.3 1.8 70.1 2.5 19.7 .9M1387.5 800.2l-89.2 2.9 -38.9 1.7 -21.7 1.6 -3.6 .5 -2 .6 -.8 .5 .6 .6 1.8 .5 3.2 .5 22.2 1.7 39.2 1.7 89.2 3.1M1387.5 780.2l-69.5 2.3 -40.5 1.5 -19.6 1 -16.5 1.4 -4.4 .6 -.9 .2 -1.1 .6 .4 .5 1.8 .6 4.2 .5 15.8 1.3 19.7 1.1 41.1 1.6 69.5 2.1M1387.5 760.6l-69.5 2.3 -40 1.6 -22.3 1.4 -11.9 1.6 -1.3 .6 1.1 .5 11.5 1.7 22.9 1.4 40 1.7 69.5 2.2M1387.5 740.9l-69.5 2.2 -40 1.6 -18.6 1.1 -5 .4 -8.5 1.1 -3 .5 -.7 .6 1.7 .5 12.7 1.7 20.9 1.2 40.5 1.7 69.5 2.2M1387.5 721l-69.5 2.2 -40 1.6 -21.9 1.5 -5.9 .7 -3 .6 -1.7 .5 .4 .6 2.3 .5 7.5 1.1 22.3 1.5 40 1.6 69.5 2.2M1387.5 701.2l-69.5 2.2 -40 1.7 -21.9 1.4 -5.4 .8 -2.2 .6 -.9 .5 .9 .6 2.3 .5 5.3 .8 21.9 1.5 40 1.7 69.5 2.2M1387.5 681.3l-69.5 2.2 -40 1.7 -21.9 1.5 -6 .9 -1.7 .6 -.3 .5 1.4 .6 2.6 .5 3.9 .6 22.6 1.5 39.4 1.7 69.5 2.2M1387.5 661.4l-69.5 2.2 -39.4 1.7 -23 1.5 -3.7 .6 -2.5 .5 -1.3 .6 .4 .5 1.9 .6 5.7 .9 21.9 1.5 40 1.7 69.5 2.2M1387.5 641.5l-69.5 2.2 -40 1.7 -21.9 1.5 -5.6 .8 -2.1 .6 -.8 .5 1 .5 2.4 .6 4.6 .7 4.4 .4 18 1.1 40 1.7 69.5 2.2M1387.5 621.6l-69.5 2.2 -40 1.6 -22.8 1.5 -7.3 1.1 -2.1 .6 -.2 .5 1.8 .6 3.1 .5 5.6 .7 22.5 1.5 39.4 1.6 69.5 2.2M1387.5 601.5l-69.5 2.2 -40.5 1.7 -21.5 1.3 -12.4 1.6 -1.5 .6 1 .5 11.7 1.6 23.2 1.5 40 1.6 69.5 2.2M1387.5 581.5l-69.5 2.3 -40 1.7 -23.4 1.5 -8.2 1.1 -3 .5 -.9 .6 1.6 .5 12.1 1.7 21.8 1.3 40 1.6 69.5 2.3M1387.5 561.6l-69.5 2.2 -41.1 1.6 -19.1 1 -17 1.4 -3.9 .6 -1.6 .5 -.2 .6 1.1 .5 4.6 .7 17 1.4 19.7 1.1 40.5 1.5 69.5 2.2M1387.5 541.1l-89.8 3.1 -39.4 1.7 -21.8 1.7 -3.1 .5 -1.6 .6 -.5 .5 .9 .6 2.2 .5 3.7 .6 21.3 1.5 38.9 1.7 89.2 2.8M1387.5 521.1l-19.7 .9 -70.1 2.5 -38.3 1.8 -19.7 1.6 -3.3 .5 -1.6 .6 -.3 .5 .9 .6 2.1 .5 3.9 .4 15.8 1.4 19.7 1 41.1 1.7 69.5 2.4M1387.5 501.5l-89.8 2.9 -39.9 1.6 -23 1.3 -13.8 1.4 -2.7 .6 -.6 .5 1.1 .6 3.3 .5 12.7 1.3 23 1.3 39.9 1.6 70.1 2.3 19.7 .8M1387.5 440.7l-19.2 1 -20.8 .8 -69.5 2.2 -40.5 1.6 -19.7 1 -16.5 1.3 -4.7 .5 -2.2 .6 -1 .5 .3 .5 1.5 .6 3.1 .5 20.6 1.7 39.4 1.7 89.8 3.2 18.8 1.1 2.7 .5 -1.1 .6 -1.8 .2 -18.6 1.2 -70.1 2.9 -20.2 1 -18.6 1.1 -6.5 .7 -7.4 1.1 -2.6 .5 -.4 .6 1.7 .5 11.4 1.7 21.3 1.4 21.9 1.1 68.4 2.6 11.5 .6 9.3 .3 6.2 .5 4 .6 .7 .5 -3.3 .6 -8.2 .7 -20.2 .9 -69 2.3 -40.5 1.9 -18.3 1.3 -4.1 .6 -2.3 .5 -1.1 .5 .2 .6 1.4 .5 2.6 .6 5.2 .5 16.4 1.2 20.3 1 39.9 1.5 89.8 2.9M746.6 213.3l-6 -.3 -9.9 .2 -9.8 -.5 -9.9 0 -10.4 -.5 -9.3 0 -9.8 -.4 -9.9 -.1 -9.8 -.5 -10.4 -.1 -9.9 -.5 -9.8 -.1 -9.9 -.4 -9.8 -.2 -10 -.4 -10.3 -.2 -9.3 -.4 -10.4 -.2 -30.1 -1 -9.3 -.1 -10.4 -.4 -109.5 -2.9 -10.4 -.5 -10.4 -.2 -9.8 -.5 -9.6 -.2 -10.7 -.9 -4.6 -.2 -2.7 -.5 18.3 -1.4 39.9 -1.4 139.1 -3.4 10.4 -.2 9.8 -.3 29.6 -.6 10.4 -.4 9.8 -.1 9.9 -.3 10.4 -.1 9.3 -.3 9.8 -.1 11 -.3 9.3 0 9.8 -.3 10.4 0 9.3 -.3 9.9 0 10.9 -.2 9.3 0 9.9 -.2 9.8 .1 10.4 -.2 9.9 .1 9.8 -.1 9.3 .1 9.9 -.1 9.8 .2 14.3 0 6.5 .1 9.9 0 9.8 .2 9.9 0 9.3 .3 10.4 0 9.8 .3 9.3 0 11 .3 9.8 .1 198.7 4.7 30.1 .9 9.9 .1 39.4 1.4 17.5 1.2 1.4 .2 -.3 .1 -2.5 .4 -4.6 .2 -10.4 .9 -10.4 .2 -10.4 .6 -59.1 1.7 -70.1 1.8 -9.8 .4 -9.9 .1 -10.4 .4 -9.3 .2 -30.1 1 -10.4 .2 -9.3 .4 -10.4 .2 -9.8 .4 -9.9 .1 -9.9 .5 -10.4 .1 -9.8 .5 -9.9 .1 -10.4 .5 -9.3 -.1 -9.8 .5 -10.4 0 -9.9 .5 -9.8 -.1 -9.9 .4 -10.4 -.2 -9.3 .4 -9.8 -.3 -9.3 .4 -11 -.4 -9.8 .3 -9.3 -.4 -9.9 .2zM710.5 180.5l-9.3 -.2 -10.4 0 -9.9 -.2 -9.8 0 -9.9 -.2 -9.8 0 -9.9 -.3 -10.4 0 -9.8 -.3 -9.9 0 -10.4 -.4 -9.3 0 -9.8 -.5 -10.4 -.1 -9.9 -.5 -9.3 -.1 -10.4 -.7 -10.4 -.3 -9.8 -1.2 -6.6 -.5 -2.8 -.4 -2.7 -.7 -1.1 -.7 -.4 -.4 -.3 -.5 .1 -.6 .3 -.5 .7 -.6 1.1 -.5 1.8 -.6 3.3 -.4 6.6 -.6 8.2 -1.1 3.8 -.2 8.2 -.3 9.3 -.6 10.4 -.2 10.4 -.6 9.3 0 9.9 -.4 10.4 -.1 9.8 -.3 9.9 -.1 9.8 -.3 10.4 0 9.9 -.2 9.8 0 30.1 -.4 9.3 0 10.4 -.1 9.9 0 30.1 -.2 9.8 .1 9.9 -.2 30.1 .1 9.8 -.1 9.9 .2 30.1 -.1 9.8 .2 9.9 0 30.1 .3 9.8 0 9.9 .2 9.8 0 9.9 .2 10.4 0 9.8 .3 9.9 .1 10.4 .3 9.3 0 9.9 .4 10.4 .2 10.4 .5 8.7 .1 11 .7 8.7 .3 3.3 .3 8.2 1.1 7.1 .6 2.2 .3 1.8 .6 1.1 .5 .7 .6 .4 .5 0 .6 -.2 .5 -.6 .6 -1.5 .7 -1.7 .4 -2.7 .5 -6.6 .4 -10.2 1.2 -10.6 .4 -9.8 .7 -9.9 .1 -9.3 .5 -10.9 .1 -9.9 .5 -9.8 0 -9.4 .4 -10.4 0 -10.3 .3 -9.4 0 -10.4 .3 -9.8 0 -9.3 .2 -11 0 -9.8 .2 -9.9 0 -10.4 .2 -9.3 -.1 -10.4 .2 -9.8 -.1 -9.9 .2 -9.8 -.1 -9.9 .2 -9.8 -.2 -9.3 .2 -11 -.2 -9.8 .2 -9.9 -.2 -9.8 .1 -9.9 -.2 -9.3 .1 -10.9 -.2zM728 148.8l-26.8 -.4 -9.9 0 -59.6 -.9 -79.4 -1.5 -30.1 -.8 -10.4 -.1 -9.8 -.4 -9.9 -.1 -9.9 -.4 -10.9 -.2 -9.3 -.5 -9.9 -.1 -10.9 -.8 -7.7 -.3 -1.6 -.1 -1.3 -.6 2.9 -.4 8.2 -.3 11 -.8 9.8 -.1 9.9 -.5 9.8 -.1 10.4 -.4 79.4 -1.7 79.4 -1.3 59.6 -.6 40 -.3 59.6 -.1 42.2 .2 57.4 .6 59.7 .8 59.7 1.1 59.1 1.3 10.4 .4 9.8 .1 10.4 .5 9.3 .1 11 .8 7.5 .2 3.6 .5 -1.2 .6 -9.4 .4 -10.4 .7 -10.4 .2 -9.3 .5 -10.9 .2 -9.9 .4 -9.8 .1 -9.9 .4 -9.8 .1 -9.9 .3 -10.4 .1 -30.1 .8 -79.4 1.5 -59.6 .7 -30.1 .1 -9.9 .2 -59.6 .1 -9.3 -.1 -10.4 0 -9.9 -.2zM766.8 117.6l-55.8 -.3 -9.8 -.2 -10.4 0 -9.9 -.2 -9.3 0 -10.4 -.3 -10.4 0 -9.8 -.4 -9.3 0 -10.4 -.5 -9.3 -.1 -10.4 -.6 -10.4 -.3 -10.4 -1.1 -6.6 -.4 -3 -.6 -.8 -.5 .7 -.6 .9 -.2 1.8 -.3 6.4 -.4 8.2 -.9 4.4 -.3 8.8 -.2 10.4 -.6 8.7 -.1 10.4 -.5 10.4 -.1 9.9 -.3 9.8 0 9.9 -.3 9.8 0 10.4 -.3 9.9 .1 29.5 -.4 83.8 -.1 55.8 .3 30.1 .4 9.3 0 10.4 .3 10.4 0 9.8 .3 9.4 .1 10.3 .4 9.4 .2 10.4 .6 10.4 .2 10.9 1.2 6.5 .4 2.7 .5 .6 .6 -.7 .5 -.3 .1 -2.7 .5 -6.1 .3 -12 1.3 -9.3 .2 -10.4 .6 -8.8 .1 -10.4 .4 -10.4 .1 -9.3 .4 -10.4 0 -9.3 .3 -10.4 0 -10.4 .2 -9.9 0 -29.5 .4 -9.9 -.1 -30.1 .2zM1035.5 82l-1 .5 -4.9 .6 -9.3 .1 -10.4 .6 -9.9 0 -9.3 .5 -10.9 0 -10.4 .4 -8.8 0 -10.9 .3 -9.4 0 -9.8 .3 -10.4 0 -10.4 .3 -9.9 0 -9.8 .2 -9.3 0 -10.4 .2 -30.1 0 -9.9 .2 -30.1 0 -9.3 .1 -10.4 -.1 -10.4 .1 -9.3 -.2 -9.8 .1 -9.9 -.2 -30.1 0 -10.4 -.2 -9.3 0 -9.8 -.2 -9.3 0 -11 -.3 -10.4 0 -9.8 -.3 -9.3 0 -11 -.3 -8.7 0 -10.4 -.4 -11 0 -9.3 -.5 -9.8 0 -10.4 -.6 -9.3 -.1 -5 -.6 -.9 -.5"/>
<path stroke="#a00b0b" d="M170.7 1394.5l2.4 -.5 1.6 -.1 19.1 -.8 19.7 -.6 119.9 -2.3 278.6 -4.8 79.3 -1 79.9 -.4 39.4 0 59.7 .3 99.6 1.1 337.7 5.8 40.5 .9 39.4 .9M667.2 1375.4l-115.4 -.9 -99.1 -1.3 -59.7 -1.2 -20.2 -.7 -10.4 -.5 -8.8 -.3 -17.5 -1.8 -2.7 -.6 -1.4 -.4 -.9 -.6 -1.1 -1 -2 -3.3 -.3 -1.1 .1 -.6 .6 -.5 1.2 -.6 2.1 -.5 3.3 -.4 17 -1.3 10.9 -.3 9.3 -.5 60.2 -1.5 59.7 -1 79.9 -1.1 9.9 -.1 9.8 -.2 30.1 -.3 9.9 -.2 9.8 0 10.4 -.3 9.3 0 10.4 -.3 9.9 .1 9.8 -.3 10.4 .1 9.3 -.4 9.9 .1 10.9 -.3 9.3 .2 9.9 -.4 10.4 .2 9.3 -.4 10.4 .3 9.8 -.3 9.3 .3 10.4 -.3 9.3 .4 10.4 -.2 9.9 .4 9.8 -.2 10.4 .3 9.3 -.1 10.4 .4 9.3 -.1 10.4 .3 11 0 9.3 .2 9.3 0 10.4 .3 9.9 0 10.3 .2 29.6 .3 139.6 2.1 59.6 1.2 19.7 .6 10.4 .5 10.4 .3 9.9 .8 6.5 .4 3.9 .5 2.2 .5 1.2 .6 .5 .5 .2 .6 -.4 1.1 -2 3.3 -1 1 -1 .6 -1.6 .5 -2.5 .5 -14.2 1.5 -23 1.2 -40 1.1 -59.1 1 -99.6 1.2 -99.1 .7 -79.9 .3 -79.3 0zM1387.5 1337.7l-228.8 4.3 -188.8 4.3 -9.9 .1 -9.8 .3 -10.4 .1 -10.4 .4 -9.9 0 -9.8 .4 -9.3 0 -11 .4 -9.8 0 -9.9 .3 -9.8 0 -9.9 .3 -10.4 -.1 -8.7 .4 -10.4 -.2 -10.4 .4 -9.9 -.3 -9.8 .4 -9.3 -.4 -9.9 .3 -10.4 -.4 -9.8 .2 -9.3 -.4 -10.4 .1 -9.9 -.3 -9.8 0 -9.9 -.4 -9.8 .1 -10.4 -.4 -9.9 0 -9.8 -.4 -9.9 0 -9.8 -.4 -11 -.1 -9.3 -.3 -10.4 -.1 -188.8 -4.3 -249 -4.7 -38.9 -1 -20.2 -.8 -2.5 -.1 -3.3 -.5 2 -.6 24.6 -1.1 58.5 -1.3 169.1 -3.4 99.6 -2.4 39.5 -1.1 40.5 -1.4 9.3 -.6 10.9 -.4 4.2 -.3 6.7 -.9 5 -.2 -1.1 -.6 -4.4 -.1 -8.5 -1 -12.3 -.3 -9.8 -.5 -59.7 -1.4 -89.8 -1.6 -60.2 -1.3 -19.7 -.6 -20.8 -.8 -13.2 -1.1 -4.6 -.6 -1 -.5 .5 -.6 1.8 -.5 7.2 -1.4 4 -1.3 1 -.6 .6 -.5 .2 -.6 -.2 -.5 -.7 -.6 -1.2 -.5 -3.1 -.9 -12.1 -1.8 -11 -2.2 -.8 -.6 2.3 -.5 3.9 -.6 8.4 -.7 8.2 -.3 10.9 -.5 9.9 -.3 9.8 -.4 109.5 -2.6 39.9 -1.4 10.4 -.7 7.7 -.3 4.1 -.4 1.5 -.6 -.4 -.5 -2.5 -.6 -1.6 -.1 -9.3 -.6 -9.9 -.8 -20.2 -.9 -38.9 -1.5 -39.9 -1.1 -80.5 -1.9 -169.1 -3.4 -39.4 -1M1387.5 1279.1l-129.2 2.7 -79.9 2.1 -39.4 1.5 -10.4 .5 -9.3 .4 -19.7 1.4 -1.6 .1 -2.4 .6 -.4 .5 1.5 .6 1.8 .2 20.8 1.3 39.4 1.3 109.5 2.6 9.8 .4 9.9 .3 10.9 .5 8.2 .3 3.4 .2 5 .5 4 .6 2.3 .5 -.8 .6 -11.1 2.2 -12.1 1.8 -3.1 .9 -1.1 .5 -.7 .6 -.3 .5 .3 .6 1.1 .8 1.8 .8 3.1 .9 6.8 1.3 1.7 .5 .5 .6 -.8 .4 -2.7 .5 -15.9 1.3 -20.2 .8 -19.7 .6 -60.2 1.3 -89.8 1.6 -59.6 1.4 -9.9 .5 -12.2 .3 -8.6 1 -4.3 .1 -1.1 .6 4.9 .2 6.8 .9 4.1 .3 11 .4 9.3 .6 40.5 1.4 39.4 1.1 99.6 2.4 169.1 3.4M74.5 1273.8l59.1 -1.5 150 -3.1 79.3 -2.1 40 -1.6 19.1 -1.1 6.4 -.7 2.8 -.5 1.2 -.6 -1.1 -.5 -2.9 -.5 -4.7 -.6 -21.4 -1.1 -39.4 -1.2 -89.2 -2.1 -39.4 -1.1 -22.4 -.9 -12.2 -1.3 -.6 -.5 11.4 -1.6 13.4 -1.1 9.9 -1 8.2 -.7 4.1 -.5 2.9 -.6 3.9 -1.1 .8 -.5 -.2 -.6 -1.1 -.5 -1.9 -.6 -2.6 -.5 -4.3 -.6 -19.7 -1.8 -30.9 -2 -15.3 -1.6 -.7 -.6 15.2 -1.3 20.2 -.9 110.6 -3.1 20.6 -.7 18.8 -.9 14.5 -1.3 3.7 -.5 .1 -.6 -3.1 -.5 -10.3 -1.1 -6.6 -.5 -18.6 -.9 -38.8 -1.5 -79.4 -2 -149.4 -3.1M1387.5 1239.2l-9.9 .5 -9.8 .8 -9.9 .6 -19.1 1.7 -4.4 .5 -3.5 .7 -1.9 .6 -1.1 .5 -.2 .6 .8 .5 3.8 1.1 3.8 .7 21.3 2.1 12.6 1 12.3 1.7 -.6 .5 -4.7 .6 -8.7 .7 -21.3 .9 -39.4 1.1 -89.2 2.1 -39.4 1.2 -21.4 1.1 -4.6 .6 -2.9 .5 -1.1 .5 1.2 .6 2.8 .5 6.3 .7 19.1 1.1 38.9 1.5 80.4 2.2 89.8 1.9M1387.5 1220.5l-70.1 1.5 -59.1 1.8 -20.2 .8 -19.7 1.1 -14.6 1.4 -3.1 .5 .1 .6 1.7 .3 13.1 1.3 22.2 1.1 40.2 1.3 70.1 1.9 39.4 1.4M74.5 1213l129.7 -2.8 79.9 -2.1 38.9 -1.6 18.6 -1.2 5.5 -.6 1.8 -.6 0 -.5 -1.7 -.6 -5.1 -.6 -18 -1.1 -20.3 -.8 -40.5 -1.3 -89.2 -2.2 -20.2 -.6 -23.2 -1 -4.7 -.6 -1.6 -.5 1.9 -.6 4.1 -.5 23.5 -1.5 30.1 -1.5 20.8 -1.3 17.2 -1.8 2.7 -.5 1.2 -.5 0 -.6 -1.3 -.5 -2.8 -.6 -17.6 -1.7 -20.8 -1.3 -68.4 -3.2 -5 -.4 -4.5 -.5 -2 -.5 2.2 -.6 5 -.5 23.5 -1.1 109.4 -3 40 -1.5 17 -1 5.7 -.6 2.7 -.5 .9 -.5 -.9 -.6 -2.6 -.5 -5.2 -.6 -17.1 -1.1 -41.6 -1.6 -59.1 -1.6 -108.9 -2.3M1387.5 1197.5l-69.5 1.7 -40.5 1.3 -20.3 .8 -18 1.1 -5 .6 -1.8 .6 .1 .5 1.7 .6 3.9 .5 19.1 1.3 20.3 .9 41 1.3 69 1.7M1387.5 1182.1l-11.6 .7 -16.3 1.6 -2.9 .6 -1.2 .5 0 .6 1.1 .5 4.1 .7 15.3 1.6 11.5 .6M1387.5 1161.8l-49.3 1.3 -41 1.6 -19.7 1.4 -2.6 .3 -2.5 .5 -.9 .6 .9 .5 2.6 .5 2.5 .3 20.8 1.3 39.4 1.5 49.8 1.3M74.5 1152.5l109.5 -2.4 59.1 -1.8 21.9 -1 17.7 -1.2 4.2 -.5 1.9 -.6 0 -.5 -1.7 -.6 -5.2 -.6 -17.5 -1.1 -20.8 -.9 -39.9 -1.2 -107.9 -2.7 -21.3 -.8M1387.5 1139.9l-30.1 .8 -40 1.5 -19.1 1.2 -4 .5 -1.8 .6 .1 .5 1.9 .6 3.2 .4 18.6 1.3 40 1.6 31.2 .9M74.5 1133.5l70.1 -2.8 19.7 -.9 18 -1 7.7 -.7 8.7 -1.1 2.3 -.6 .1 -.5 -1.9 -.6 -13.6 -1.6 -20.2 -1.2 -41.1 -1.7 -49.8 -1.8M1387.5 1124.6l-5.3 .7 -2 .6 .2 .5 1.6 .4 5.5 .8M74.5 1114.6l108.9 -2.9 40 -1.4 23.5 -1.3 10.4 -1.2 1.5 -.5 -1.6 -.6 -3.9 -.5 -9.7 -1 -19.7 -1 -19.3 -.8 -60 -1.7 -70.1 -1.5M1387.5 1103.1l-29 1.1 -19.7 1 -10.8 1 -3.9 .5 -1.5 .6 1.5 .5 4 .6 10.1 .9 19.7 1 29.6 1M74.5 1092.1l70.1 -1.6 59.5 -1.8 22.2 -1.1 12.8 -1.1 3.9 -.6 .9 -.5 -1.6 -.6 -1.4 -.1 -14.2 -1.3 -23 -1.1 -59.1 -1.8 -70.1 -1.7M1387.5 1082l-10.4 .3 -20.8 1 -15.3 1.3 -2 .2 -1.5 .6 .9 .5 3.9 .6 12.8 1.1 22.2 1.1 10.2 .3M74.5 1072.4l50.4 -1.7 19.7 -.9 16.9 -.9 6.3 -.5 9.2 -1.1 2.8 -.5 .4 -.6 -2.1 -.5 -11.1 -1.3 -21.3 -1.3 -40.6 -1.6 -30.6 -.9M74.5 1053.4l69.5 -1.8 40 -1.3 19.5 -1 4.5 -.4 6.7 -.7 3.4 -.6 .6 -.5 -2.4 -.6 -9.7 -1.1 -22.6 -1.2 -40.5 -1.4 -69 -1.7M1387.5 1044.8l-12.8 .6 -9.6 1.1 -2.4 .6 .6 .5 8.1 1.1 6.4 .6 9.7 .4M74.5 1031.9l49.5 -1.2 40.8 -1.3 19.7 -.9 15.8 -1.1 4.9 -.6 1.9 -.5 -.2 -.5 -3.2 -.7 -21.5 -1.5 -38.7 -1.5 -69 -1.8M1387.5 1024.3l-10.8 .9 -2.2 .6 -.2 .5 1.9 .5 2 .3 9.3 .7M74.5 1011.8l30.6 -.9 19.8 -.8 18.6 -.9 16.3 -1.5 3.1 -.5 .4 -.6 -1.7 -.5 -4.6 -.6 -13 -1.1 -19.7 -1 -18.6 -.7 -31.2 -1M74.5 992.7l50.4 -1.4 38.3 -1.5 19.2 -1.3 4 -.5 1.4 -.5 -.6 -.6 -2.7 -.5 -21.9 -1.6 -38.3 -1.5 -49.8 -1.3M74.5 971.7l30.6 -.8 41.6 -1.5 20.5 -1.1 9.3 -1.1 1.8 -.5 -1.2 -.6 -8.7 -1.1 -21.7 -1.2 -41.6 -1.4 -30.6 -.8M74.5 951.5l29.6 -.9 21.3 -1 19.2 -1.4 3.6 -.7 .5 -.5 -1.3 -.6 -3.4 -.5 -18.1 -1.3 -21.3 -1 -30.1 -1M74.5 932.1l31.2 -.8 19.7 -.7 18.6 -.9 16.6 -1.3 3 -.6 .3 -.5 -2.9 -.6 -11.7 -1.1 -6.9 -.4 -37.3 -1.5 -30.6 -.9M74.5 911.5l31.2 -.9 19.7 -.7 16.4 -.9 5 -.3 4.8 -.6 3.2 -.5 1.1 -.6 -1.6 -.5 -3.6 -.6 -8.3 -.7 -19.2 -1 -48.7 -1.5M74.5 891.4l29.6 -1 19.1 -1 9.9 -1 3.2 -.5 1 -.6 -1.8 -.5 -3.7 -.6 -8 -.7 -19.2 -1 -30.1 -1.1M74.5 871.8l29 -.9 23 -1 14.6 -1.2 3.7 -.5 .9 -.6 -1.4 -.5 -4.5 -.6 -14.7 -1 -21.6 -1 -29 -.9M74.5 851.5l29 -1 19.9 -.9 12.4 -1.1 3.8 -.6 .8 -.5 -2.4 -.6 -4.7 -.5 -9.5 -.8 -19.2 -.9 -30.1 -1M74.5 831.4l28.5 -1.1 16.4 -1 6.4 -.5 2.9 -.6 .8 -.5 -1.2 -.5 -3.4 -.6 -7.2 -.5 -14.2 -.9 -29 -1.1M74.5 811.6l29 -1 17 -1 6.6 -.5 3.4 -.5 1.3 -.6 -.9 -.5 -2.8 -.6 -5.6 -.5 -19.3 -1.1 -28.7 -1.1M74.5 791.5l28.5 -1 17.3 -1.1 5.8 -.5 2.5 -.6 .4 -.5 -1.7 -.6 -4.3 -.5 -16.6 -1.1 -31.9 -1.2M74.5 771.5l31.2 -1.3 13.8 -1 4.2 -.6 1.2 -.5 -1.4 -.6 -4.5 -.5 -13.3 -1.1 -31.2 -1.2M74.5 751.6l31.7 -1.3 15.4 -1.2 1.4 -.2 1.9 -.5 -.5 -.6 -3.4 -.5 -13.6 -1.1 -22.5 -1.1 -10.4 -.3M74.5 731.7l10.4 -.4 21.5 -1 12.9 -1.1 3.6 -.5 .4 -.6 -2.3 -.5 -14.2 -1.3 -20.3 -1 -12 -.4M74.5 711.7l11.5 -.3 20.2 -1 9.7 -.9 4.6 -.5 1.6 -.6 -1.5 -.5 -4.5 -.6 -9.9 -.8 -20.2 -1 -11.5 -.4M74.5 691.8l11.2 -.3 21.1 -1.1 12 -1.1 2.7 -.6 -.4 -.5 -3.5 -.6 -11.9 -1 -20.8 -1 -10.4 -.4M74.5 671.9l10.4 -.3 20.8 -1 11.4 -1 3.9 -.6 .6 -.5 -2.4 -.6 -12.4 -1.1 -20.3 -1.1 -12 -.4M74.5 652.1l11.5 -.4 20.2 -1 14.1 -1.4 1.7 -.5 -1.5 -.6 -4.1 -.5 -10.2 -.9 -20.2 -1 -11.5 -.4M74.5 632.2l12 -.4 20.3 -.9 13.8 -1.2 2.6 -.6 -.2 -.5 -3.2 -.6 -12.7 -1.1 -22.2 -1.1 -10.4 -.3M74.5 612.4l10.4 -.4 21.7 -1 13.9 -1 3.7 -.6 .8 -.5 -1.7 -.6 -2.3 -.2 -14.8 -1.2 -31.7 -1.4M74.5 592.5l10.9 -.3 20.8 -1 14.3 -1.2 2.8 -.3 1.5 -.5 -.9 -.6 -3.9 -.5 -13.8 -1.1 -21.3 -1 -10.4 -.3M74.5 572.8l31.7 -1.2 16.2 -1 4.7 -.6 1.8 -.5 -.2 -.6 -2.3 -.5 -5.4 -.6 -17.7 -1.1 -28.8 -1M74.5 552.9l28.5 -1 18.8 -1 5.9 -.6 3.1 -.5 1 -.6 -1.1 -.5 -3.2 -.6 -6.2 -.5 -18.3 -1 -28.5 -1.1M74.5 533.1l10.4 -.3 23.6 -1.1 16 -1.1 3.6 -.5 1.4 -.6 -.7 -.5 -2.6 -.6 -6 -.5 -17.2 -1.1 -28.5 -1M74.5 513.6l30.1 -1 19.7 -1 13.4 -1.2 2.6 -.6 -.5 -.5 -3.6 -.6 -11.9 -1.1 -20.8 -.9 -29 -1M74.5 493.6l29 -.9 20.7 -.9 15 -1.1 4.9 -.6 1.6 -.5 -.7 -.6 -3.4 -.5 -15.1 -1.2 -22.3 -1 -29.7 -.9M74.5 473.8l30.1 -1.1 19.2 -1 7.6 -.7 3.9 -.6 2 -.5 -.8 -.6 -3.1 -.5 -4.5 -.5 -5.7 -.5 -19.7 -1 -29 -1M74.5 454.5l48.7 -1.5 19.2 -1 7.9 -.7 3.7 -.6 1.8 -.5 -.8 -.5 -3 -.6 -4.7 -.5 -6 -.5 -16.4 -.8 -19.8 -.8 -30.6 -.9M74.5 434.4l30.6 -.9 37.3 -1.5 6.3 -.4 12.4 -1.1 2.7 -.5 -.1 -.6 -2.7 -.5 -17 -1.4 -18.6 -.9 -19.7 -.7 -31.2 -.9M74.5 414.5l30.1 -.9 21.3 -1 17.6 -1.2 3.7 -.6 1.5 -.5 -.4 -.6 -2.2 -.5 -1.5 -.2 -19.2 -1.4 -21.9 -1 -29 -1M74.5 395.6l30.6 -.8 41.6 -1.4 21.1 -1.2 9 -1.1 1.5 -.5 -1.6 -.6 -8.9 -1.1 -21.1 -1.1 -41.6 -1.5 -30.6 -.8M74.5 375.2l49.8 -1.3 38.3 -1.5 21.5 -1.5 2.9 -.6 .8 -.5 -1.2 -.6 -3.7 -.5 -19.7 -1.4 -38.9 -1.4 -49.8 -1.4M74.5 355.5l31.2 -1 18.6 -.7 19.4 -1 12.7 -1.1 4.9 -.5 2 -.6 -.3 -.5 -2.8 -.6 -16.7 -1.5 -18.6 -.9 -19.8 -.8 -30.6 -.9M74.5 336.9l69 -1.8 38.3 -1.5 21.9 -1.5 3.1 -.6 .3 -.6 -1.7 -.5 -4.5 -.6 -15.5 -1.1 -20.6 -.9 -40.5 -1.3 -49.8 -1.2M1387.5 329.4l-9.3 .7 -2.3 .3 -1.7 .5 .4 .6 2.5 .5 10.4 .8M74.5 316.1l69 -1.7 40.5 -1.4 22 -1.2 9.9 -1.1 2.7 -.6 -.3 -.5 -3.2 -.6 -7.6 -.8 -23.5 -1.3 -40 -1.3 -69.5 -1.8M1387.5 307.5l-10.5 .5 -6.1 .5 -7.8 1.1 -.3 .5 2.6 .6 9.9 1.1 12.2 .6M74.5 296.6l30.6 -.9 40.6 -1.6 21.8 -1.3 10.3 -1.3 2.3 -.5 -.2 -.6 -2.6 -.5 -9 -1.1 -6.8 -.5 -17.5 -1 -19.7 -.8 -49.8 -1.7M74.5 278.4l70.1 -1.7 59.1 -1.8 23.5 -1.2 14.2 -1.2 2.4 -.7 -.7 -.5 -3.5 -.5 -12.7 -1.1 -22.7 -1.2 -59.6 -1.9 -70.1 -1.6M1387.5 268.2l-11.3 .4 -21.8 1.1 -12.6 1.1 -3.6 .5 -.7 .5 1.8 .6 1.1 .1 15.9 1.4 20.8 1 10.4 .3M74.5 257l70.1 -1.5 59.6 -1.7 20.3 -.8 19.1 -1.1 9.3 -.8 4 -.6 1.9 -.5 -1.3 -.6 -10.6 -1.3 -23.5 -1.2 -40 -1.4 -108.9 -2.9M1387.5 245.9l-29.6 1 -19.7 1 -10.5 1 -3.9 .5 -1.2 .6 1.8 .5 4 .6 10.4 .9 19.7 1 29 1M74.5 238.2l49.8 -1.8 42.1 -1.8 17.6 -1 6.3 -.6 8.6 -1.1 2.1 -.5 .1 -.6 -2.1 -.5 -13.4 -1.6 -20.2 -1.3 -21.9 -1 -69 -2.7M1387.5 229.6l-5.1 .7 -2.1 .5 0 .6 2.2 .5 5 .7M74.5 220.6l39.3 -1.3 89.9 -2.2 40.5 -1.3 20.8 -.8 17.4 -1.1 4.4 -.6 1.9 -.5 .1 -.6 -1.7 -.5 -5.2 -.7 -17.5 -1.1 -21.3 -1 -59.7 -1.8 -108.9 -2.4M1387.5 207.4l-30.6 .9 -39.5 1.5 -19.3 1.3 -3.9 .6 -1.7 .5 .1 .6 .2 0 1.7 .5 3.2 .4 18.6 1.3 41.1 1.5 30.1 .8M74.5 198l108.9 -2.3 59.1 -1.6 40.7 -1.6 17.3 -1.1 5.6 -.5 2.7 -.6 1.1 -.5 -.8 -.6 -2.5 -.5 -5.2 -.6 -17.8 -1 -40.5 -1.5 -108.9 -3.1 -22.8 -.9 -5.4 -.6 -2.5 -.5 1.7 -.6 4.3 -.5 5.5 -.4 68.4 -3.2 20.8 -1.3 17.2 -1.7 3 -.5 1.4 -.6 .1 -.5 -1 -.6 -2.6 -.5 -17.5 -1.8 -20.8 -1.4 -30.1 -1.4 -23.1 -1.4 -4.2 -.6 -2.2 -.5 1.4 -.6 4.3 -.5 23.8 -1.1 19.1 -.6 90.3 -2.2 41.1 -1.3 19.7 -.8 18.6 -1.1 4.3 -.6 1.8 -.5 .2 -.6 -1.6 -.5 -3.6 -.6 -18.1 -1.2 -21.3 -1 -20.8 -.7 -79.4 -2.2 -129.7 -2.7M1387.5 184.2l-49.8 1.4 -39.6 1.4 -20.6 1.4 -2.8 .3 -2.5 .5 -.7 .6 1 .5 2.8 .6 2.2 .2 20.7 1.4 40 1.6 49.3 1.3M1387.5 167.6l-11.5 .7 -14.8 1.5 -2.2 .3 -2.1 .4 -1.5 .7 .2 .5 1.3 .6 3.1 .5 16.6 1.7 10.9 .6M1387.5 146.8l-69 1.6 -41.6 1.4 -19.7 .9 -18 1.2 -5.2 .7 -1.6 .5 .1 .6 1.9 .5 3.7 .5 20.8 1.3 39.4 1.4 89.2 2.3M74.5 139.2l149.4 -3.1 79.4 -2.1 39.4 -1.4 18.6 -1 5.5 -.4 10.3 -1.1 3.5 -.5 .1 -.5 -3.3 -.6 -11.1 -1.1 -4.5 -.3 -18 -.8 -20.8 -.8 -109.5 -3 -21.3 -.9 -15.1 -1.3 .3 -.5 15 -1.7 31.5 -2 19.7 -1.8 6.7 -1.1 1.9 -.6 1.2 -.5 .3 -.6 -.7 -.5 -3.8 -1.1 -3.4 -.6 -21.9 -2.3 -13 -.9 -11.7 -1.7 .2 -.5 12.5 -1.3 22.4 -.9 39.4 -1.1 89.2 -2.1 39.4 -1.3 21.4 -1 4.4 -.5 3 -.6 1.3 -.5 -1 -.6 -2.7 -.5 -6.7 -.7 -19.7 -1.2 -39.4 -1.5 -79.3 -2.1 -150 -3.1 -59.1 -1.6M1387.5 121.7l-38.9 1.4 -70.6 1.8 -39.9 1.4 -21.9 1 -12.2 1.2 -3.4 .6 .2 .5 1.2 .2 12.6 1.4 24.6 1.4 20.2 .8 38.3 1.2 89.8 2.1M1387.5 86.1l-109.5 2.3 -39.9 1.1 -38.3 1.3 -21.9 .9 -20.3 1.2 -4.9 .6 -2.7 .5 -1 .6 1.3 .5 3 .6 4.3 .4 21.9 1.2 58.6 1.7 90.1 2.1 19.9 .6 23.9 1.1 10 1.1 .1 .5 -12.1 1.7 -12.6 1 -21.3 2.1 -4 .7 -3.7 1.1 -.7 .5 .2 .6 1.2 .5 2 .6 3.3 .6 4.4 .6 19.1 1.7 9.9 .6 9.8 .8 9.9 .5"/>
</g>
<g clip-path="url(#ax)">
<polyline fill="none" stroke="#000" stroke-width="4.0" stroke-linejoin="round" stroke-linecap="square" points="164.6,1197.3 286.5,1075.5 349.4,1065.6 396.4,1052.9 407.5,1072.5 428.3,1077.2 444.3,1064.3 461.4,1060.3 469.4,1058.4 479.7,1060.4 484.4,1060.4 492.9,1060.9 498.4,1061.2 501.8,1061.3 506.4,1061.6 515.3,1062.0 518.8,1062.2 521.3,1062.3 524.6,1062.5 531.3,1062.7 539.0,1063.3 541.2,1063.5 543.8,1063.7 550.3,1063.9 557.0,1064.8 559.6,1065.1 563.0,1065.5 569.4,1065.6 578.6,1065.8 579.8,1065.8 581.0,1065.8 582.1,1065.8 585.5,1065.9 594.2,1066.0 597.0,1066.1 598.4,1066.1 599.4,1066.1 602.9,1066.2 606.3,1066.2 613.6,1066.3 616.7,1066.4 618.1,1066.4 619.5,1066.4 621.2,1066.5 624.4,1066.5 628.9,1066.6 637.2,1066.5 637.3,1066.5 637.4,1066.5 637.5,1066.5 637.6,1066.5 637.7,1066.5 637.8,1066.5 637.9,1066.5 638.0,1066.5 638.1,1066.5 638.2,1066.5 638.3,1066.5 638.4,1066.5 638.5,1066.5 638.6,1066.5 638.7,1066.5 638.8,1066.5 638.9,1066.5 639.0,1066.5 639.1,1066.5 639.2,1066.5 639.3,1066.5 639.4,1066.5 639.5,1066.5 639.6,1066.5 639.7,1066.5 639.8,1066.5 639.9,1066.5 640.0,1066.5 640.1,1066.5 640.2,1066.5 640.3,1066.5 640.4,1066.5 640.5,1066.5 640.6,1066.5 640.7,1066.5 640.8,1066.5 640.9,1066.5 641.0,1066.5 641.1,1066.5 641.2,1066.5 641.3,1066.5 641.4,1066.5 641.5,1066.5 641.6,1066.5 641.7,1066.5 641.8,1066.5 641.9,1066.5 642.0,1066.5 642.1,1066.5 642.2,1066.5 642.3,1066.5 642.4,1066.5 646.2,1066.5 651.0,1066.4 655.8,1066.4"/>
<g fill="#fff" stroke="#000" stroke-width="1.35">
<circle cx="164.6" cy="1197.3" r="4.05"/>
<circle cx="286.5" cy="1075.5" r="4.05"/>
<circle cx="349.4" cy="1065.6" r="4.05"/>
<circle cx="396.4" cy="1052.9" r="4.05"/>
<circle cx="407.5" cy="1072.5" r="4.05"/>
<circle cx="428.3" cy="1077.2" r="4.05"/>
<circle cx="444.3" cy="1064.3" r="4.05"/>
<circle cx="461.4" cy="1060.3" r="4.05"/>
<circle cx="469.4" cy="1058.4" r="4.05"/>
<circle cx="479.7" cy="1060.4" r="4.05"/>
<circle cx="484.4" cy="1060.4" r="4.05"/>
<circle cx="492.9" cy="1060.9" r="4.05"/>
<circle cx="498.4" cy="1061.2" r="4.05"/>
<circle cx="501.8" cy="1061.3" r="4.05"/>
<circle cx="506.4" cy="1061.6" r="4.05"/>
<circle cx="515.3" cy="1062.0" r="4.05"/>
<circle cx="518.8" cy="1062.2" r="4.05"/>
<circle cx="521.3" cy="1062.3" r="4.05"/>
<circle cx="524.6" cy="1062.5" r="4.05"/>
<circle cx="531.3" cy="1062.7" r="4.05"/>
<circle cx="539.0" cy="1063.3" r="4.05"/>
<circle cx="541.2" cy="1063.5" r="4.05"/>
<circle cx="543.8" cy="1063.7" r="4.05"/>
<circle cx="550.3" cy="1063.9" r="4.05"/>
<circle cx="557.0" cy="1064.8" r="4.05"/>
<circle cx="559.6" cy="1065.1" r="4.05"/>
<circle cx="563.0" cy="1065.5" r="4.05"/>
<circle cx="569.4" cy="1065.6" r="4.05"/>
<circle cx="578.6" cy="1065.8" r="4.05"/>
<circle cx="579.8" cy="1065.8" r="4.05"/>
<circle cx="581.0" cy="1065.8" r="4.05"/>
<circle cx="582.1" cy="1065.8" r="4.05"/>
<circle cx="585.5" cy="1065.9" r="4.05"/>
<circle cx="594.2" cy="1066.0" r="4.05"/>
<circle cx="597.0" cy="1066.1" r="4.05"/>
<circle cx="598.4" cy="1066.1" r="4.05"/>
<circle cx="599.4" cy="1066.1" r="4.05"/>
<circle cx="602.9" cy="1066.2" r="4.05"/>
<circle cx="606.3" cy="1066.2" r="4.05"/>
<circle cx="613.6" cy="1066.3" r="4.05"/>
<circle cx="616.7" cy="1066.4" r="4.05"/>
<circle cx="618.1" cy="1066.4" r="4.05"/>
<circle cx="619.5" cy="1066.4" r="4.05"/>
<circle cx="621.2" cy="1066.5" r="4.05"/>
<circle cx="624.4" cy="1066.5" r="4.05"/>
<circle cx="628.9" cy="1066.6" r="4.05"/>
<circle cx="637.2" cy="1066.5" r="4.05"/>
<circle cx="637.3" cy="1066.5" r="4.05"/>
<circle cx="637.4" cy="1066.5" r="4.05"/>
<circle cx="637.5" cy="1066.5" r="4.05"/>
<circle cx="637.6" cy="1066.5" r="4.05"/>
<circle cx="637.7" cy="1066.5" r="4.05"/>
<circle cx="637.8" cy="1066.5" r="4.05"/>
<circle cx="637.9" cy="1066.5" r="4.05"/>
<circle cx="638.0" cy="1066.5" r="4.05"/>
<circle cx="638.1" cy="1066.5" r="4.05"/>
<circle cx="638.2" cy="1066.5" r="4.05"/>
<circle cx="638.3" cy="1066.5" r="4.05"/>
<circle cx="638.4" cy="1066.5" r="4.05"/>
<circle cx="638.5" cy="1066.5" r="4.05"/>
<circle cx="638.6" cy="1066.5" r="4.05"/>
<circle cx="638.7" cy="1066.5" r="4.05"/>
<circle cx="638.8" cy="1066.5" r="4.05"/>
<circle cx="638.9" cy="1066.5" r="4.05"/>
<circle cx="639.0" cy="1066.5" r="4.05"/>
<circle cx="639.1" cy="1066.5" r="4.05"/>
<circle cx="639.2" cy="1066.5" r="4.05"/>
<circle cx="639.3" cy="1066.5" r="4.05"/>
<circle cx="639.4" cy="1066.5" r="4.05"/>
<circle cx="639.5" cy="1066.5" r="4.05"/>
<circle cx="639.6" cy="1066.5" r="4.05"/>
<circle cx="639.7" cy="1066.5" r="4.05"/>
<circle cx="639.8" cy="1066.5" r="4.05"/>
<circle cx="639.9" cy="1066.5" r="4.05"/>
<circle cx="640.0" cy="1066.5" r="4.05"/>
<circle cx="640.1" cy="1066.5" r="4.05"/>
<circle cx="640.2" cy="1066.5" r="4.05"/>
<circle cx="640.3" cy="1066.5" r="4.05"/>
<circle cx="640.4" cy="1066.5" r="4.05"/>
<circle cx="640.5" cy="1066.5" r="4.05"/>
<circle cx="640.6" cy="1066.5" r="4.05"/>
<circle cx="640.7" cy="1066.5" r="4.05"/>
<circle cx="640.8" cy="1066.5" r="4.05"/>
<circle cx="640.9" cy="1066.5" r="4.05"/>
<circle cx="641.0" cy="1066.5" r="4.05"/>
<circle cx="641.1" cy="1066.5" r="4.05"/>
<circle cx="641.2" cy="1066.5" r="4.05"/>
<circle cx="641.3" cy="1066.5" r="4.05"/>
<circle cx="641.4" cy="1066.5" r="4.05"/>
<circle cx="641.5" cy="1066.5" r="4.05"/>
<circle cx="641.6" cy="1066.5" r="4.05"/>
<circle cx="641.7" cy="1066.5" r="4.05"/>
<circle cx="641.8" cy="1066.5" r="4.05"/>
<circle cx="641.9" cy="1066.5" r="4.05"/>
<circle cx="642.0" cy="1066.5" r="4.05"/>
<circle cx="642.1" cy="1066.5" r="4.05"/>
<circle cx="642.2" cy="1066.5" r="4.05"/>
<circle cx="642.3" cy="1066.5" r="4.05"/>
<circle cx="642.4" cy="1066.5" r="4.05"/>
<circle cx="646.2" cy="1066.5" r="4.05"/>
<circle cx="651.0" cy="1066.4" r="4.05"/>
<circle cx="655.8" cy="1066.4" r="4.05"/>
</g>
<circle cx="164.6" cy="1197.3" r="7.1" fill="#00ff00" stroke="#000" stroke-width="1.67"/>
<circle cx="655.8" cy="1066.4" r="8.4" fill="#ff0000" stroke="#000" stroke-width="1.67"/>
<polygon points="790.68,668.59 792.93,675.50 800.19,675.50 794.31,679.77 796.56,686.68 790.68,682.41 784.80,686.68 787.05,679.77 781.17,675.50 788.44,675.50" fill="#ffd700" stroke="#000" stroke-width="1.67" stroke-linejoin="bevel"/>
</g>
<rect x="74.5" y="82.5" width="1313.0" height="1312.0" fill="none" stroke="#000" stroke-width="1.33"/>
<g stroke="#000" stroke-width="1.33">
<line x1="134.5" y1="1394.5" x2="134.5" y2="1400.3"/>
<line x1="74.5" y1="1334.5" x2="68.7" y2="1334.5"/>
<line x1="283.5" y1="1394.5" x2="283.5" y2="1400.3"/>
<line x1="74.5" y1="1185.5" x2="68.7" y2="1185.5"/>
<line x1="432.5" y1="1394.5" x2="432.5" y2="1400.3"/>
<line x1="74.5" y1="1036.5" x2="68.7" y2="1036.5"/>
<line x1="581.5" y1="1394.5" x2="581.5" y2="1400.3"/>
<line x1="74.5" y1="887.5" x2="68.7" y2="887.5"/>
<line x1="731.5" y1="1394.5" x2="731.5" y2="1400.3"/>
<line x1="74.5" y1="738.5" x2="68.7" y2="738.5"/>
<line x1="880.5" y1="1394.5" x2="880.5" y2="1400.3"/>
<line x1="74.5" y1="589.5" x2="68.7" y2="589.5"/>
<line x1="1029.5" y1="1394.5" x2="1029.5" y2="1400.3"/>
<line x1="74.5" y1="439.5" x2="68.7" y2="439.5"/>
<line x1="1178.5" y1="1394.5" x2="1178.5" y2="1400.3"/>
<line x1="74.5" y1="290.5" x2="68.7" y2="290.5"/>
<line x1="1327.5" y1="1394.5" x2="1327.5" y2="1400.3"/>
<line x1="74.5" y1="141.5" x2="68.7" y2="141.5"/>
</g>
<g font-size="17.2" fill="#000" letter-spacing="-0.75">
<text x="133.6" y="1420.1" text-anchor="middle">−10.0</text>
<text x="62.2" y="1341.8" text-anchor="end">−10.0</text>
<text x="282.6" y="1420.1" text-anchor="middle">−7.5</text>
<text x="62.2" y="1192.8" text-anchor="end">−7.5</text>
<text x="431.6" y="1420.1" text-anchor="middle">−5.0</text>
<text x="62.2" y="1043.8" text-anchor="end">−5.0</text>
<text x="580.6" y="1420.1" text-anchor="middle">−2.5</text>
<text x="62.2" y="894.8" text-anchor="end">−2.5</text>
<text x="730.6" y="1420.1" text-anchor="middle">0.0</text>
<text x="62.2" y="745.8" text-anchor="end">0.0</text>
<text x="879.6" y="1420.1" text-anchor="middle">2.5</text>
<text x="62.2" y="596.8" text-anchor="end">2.5</text>
<text x="1028.6" y="1420.1" text-anchor="middle">5.0</text>
<text x="62.2" y="446.8" text-anchor="end">5.0</text>
<text x="1177.6" y="1420.1" text-anchor="middle">7.5</text>
<text x="62.2" y="297.8" text-anchor="end">7.5</text>
<text x="1326.6" y="1420.1" text-anchor="middle">10.0</text>
<text x="62.2" y="148.8" text-anchor="end">10.0</text>
</g>
<rect x="82.5" y="88.9" width="133.5" height="95.1" rx="3" ry="3" fill="#fff" fill-opacity="0.8" stroke="#ccc" stroke-opacity="0.8" stroke-width="1.67"/>
<line x1="88.7" y1="102.2" x2="118.3" y2="102.2" stroke="#000" stroke-width="3.6" stroke-linecap="square"/>
<circle cx="103.4" cy="102.2" r="3.8" fill="#fff" stroke="#000" stroke-width="1.35"/>
<circle cx="103.4" cy="126.0" r="7.35" fill="#00ff00" stroke="#000" stroke-width="1.67"/>
<circle cx="103.4" cy="148.2" r="8.6" fill="#ff0000" stroke="#000" stroke-width="1.67"/>
<polygon points="103.40,161.70 105.65,168.61 112.91,168.61 107.03,172.88 109.28,179.79 103.40,175.52 97.52,179.79 99.77,172.88 93.89,168.61 101.15,168.61" fill="#ece21a" stroke="#000" stroke-width="1.67" stroke-linejoin="bevel"/>
<g font-size="15" fill="#000">
<text x="130.3" y="107.5">Path</text>
<text x="130.3" y="129.8">Start</text>
<text x="130.3" y="152.1">End</text>
<text x="130.3" y="174.8">Global Min</text>
</g>
<rect x="1156.5" y="1312.3" width="223.5" height="74.0" rx="3" ry="3" fill="#fff" fill-opacity="0.8" stroke="#ccc" stroke-opacity="0.8" stroke-width="1.67"/>
<text x="1268.3" y="1331.9" font-size="16.67" text-anchor="middle" fill="#000">Evaluation Breakdown</text>
<g font-size="15" fill="#000"><text x="1204.5" y="1355.8">Val Penalty: 0.6059</text><text x="1204.5" y="1377.7">Speed Penalty: 0.1000</text></g>
<rect x="1419.5" y="80.7" width="64.8" height="1315.5" fill="#fff"/>
<g stroke-width="2.5">
<line x1="1419.5" y1="1396.25" x2="1484.3" y2="1396.25" stroke="#030369"/>
<line x1="1419.5" y1="1327.01" x2="1484.3" y2="1327.01" stroke="#04049a"/>
<line x1="1419.5" y1="1257.77" x2="1484.3" y2="1257.77" stroke="#0606ca"/>
<line x1="1419.5" y1="1188.53" x2="1484.3" y2="1188.53" stroke="#0a24d6"/>
<line x1="1419.5" y1="1119.29" x2="1484.3" y2="1119.29" stroke="#1053dc"/>
<line x1="1419.5" y1="1050.05" x2="1484.3" y2="1050.05" stroke="#1687e2"/>
<line x1="1419.5" y1="980.81" x2="1484.3" y2="980.81" stroke="#1cb6e8"/>
<line x1="1419.5" y1="911.57" x2="1484.3" y2="911.57" stroke="#30eadd"/>
<line x1="1419.5" y1="842.33" x2="1484.3" y2="842.33" stroke="#53f2bd"/>
<line x1="1419.5" y1="773.09" x2="1484.3" y2="773.09" stroke="#79f39b"/>
<line x1="1419.5" y1="703.86" x2="1484.3" y2="703.86" stroke="#9cf57b"/>
<line x1="1419.5" y1="634.62" x2="1484.3" y2="634.62" stroke="#c2f758"/>
<line x1="1419.5" y1="565.38" x2="1484.3" y2="565.38" stroke="#e5f838"/>
<line x1="1419.5" y1="496.14" x2="1484.3" y2="496.14" stroke="#f4d128"/>
<line x1="1419.5" y1="426.90" x2="1484.3" y2="426.90" stroke="#eea522"/>
<line x1="1419.5" y1="357.66" x2="1484.3" y2="357.66" stroke="#e8751c"/>
<line x1="1419.5" y1="288.42" x2="1484.3" y2="288.42" stroke="#e34917"/>
<line x1="1419.5" y1="219.18" x2="1484.3" y2="219.18" stroke="#d51910"/>
<line x1="1419.5" y1="149.94" x2="1484.3" y2="149.94" stroke="#a00b0b"/>
<line x1="1419.5" y1="80.70" x2="1484.3" y2="80.70" stroke="#6e0808"/>
</g>
<line x1="1419.5" y1="144.8" x2="1484.3" y2="144.8" stroke="#00ff00" stroke-opacity="0.9" stroke-width="4.6"/>
<line x1="1419.5" y1="290.0" x2="1484.3" y2="290.0" stroke="#ff0000" stroke-opacity="0.9" stroke-width="5.2"/>
<rect x="1419.5" y="80.5" width="65" height="1316" fill="none" stroke="#000" stroke-width="1.33"/>
<g stroke="#000" stroke-width="1.33">
<line x1="1484.3" y1="143.5" x2="1490.1" y2="143.5"/>
<line x1="1484.3" y1="352.5" x2="1490.1" y2="352.5"/>
<line x1="1484.3" y1="561.5" x2="1490.1" y2="561.5"/>
<line x1="1484.3" y1="769.5" x2="1490.1" y2="769.5"/>
<line x1="1484.3" y1="978.5" x2="1490.1" y2="978.5"/>
<line x1="1484.3" y1="1187.5" x2="1490.1" y2="1187.5"/>
</g><g stroke="#000" stroke-width="1">
<line x1="1484.3" y1="1333.5" x2="1487.6" y2="1333.5"/>
<line x1="1484.3" y1="1296.5" x2="1487.6" y2="1296.5"/>
<line x1="1484.3" y1="1270.5" x2="1487.6" y2="1270.5"/>
<line x1="1484.3" y1="1250.5" x2="1487.6" y2="1250.5"/>
<line x1="1484.3" y1="1233.5" x2="1487.6" y2="1233.5"/>
<line x1="1484.3" y1="1219.5" x2="1487.6" y2="1219.5"/>
<line x1="1484.3" y1="1207.5" x2="1487.6" y2="1207.5"/>
<line x1="1484.3" y1="1197.5" x2="1487.6" y2="1197.5"/>
<line x1="1484.3" y1="1124.5" x2="1487.6" y2="1124.5"/>
<line x1="1484.3" y1="1087.5" x2="1487.6" y2="1087.5"/>
<line x1="1484.3" y1="1061.5" x2="1487.6" y2="1061.5"/>
<line x1="1484.3" y1="1041.5" x2="1487.6" y2="1041.5"/>
<line x1="1484.3" y1="1025.5" x2="1487.6" y2="1025.5"/>
<line x1="1484.3" y1="1011.5" x2="1487.6" y2="1011.5"/>
<line x1="1484.3" y1="998.5" x2="1487.6" y2="998.5"/>
<line x1="1484.3" y1="988.5" x2="1487.6" y2="988.5"/>
<line x1="1484.3" y1="915.5" x2="1487.6" y2="915.5"/>
<line x1="1484.3" y1="879.5" x2="1487.6" y2="879.5"/>
<line x1="1484.3" y1="853.5" x2="1487.6" y2="853.5"/>
<line x1="1484.3" y1="832.5" x2="1487.6" y2="832.5"/>
<line x1="1484.3" y1="816.5" x2="1487.6" y2="816.5"/>
<line x1="1484.3" y1="802.5" x2="1487.6" y2="802.5"/>
<line x1="1484.3" y1="790.5" x2="1487.6" y2="790.5"/>
<line x1="1484.3" y1="779.5" x2="1487.6" y2="779.5"/>
<line x1="1484.3" y1="707.5" x2="1487.6" y2="707.5"/>
<line x1="1484.3" y1="670.5" x2="1487.6" y2="670.5"/>
<line x1="1484.3" y1="644.5" x2="1487.6" y2="644.5"/>
<line x1="1484.3" y1="624.5" x2="1487.6" y2="624.5"/>
<line x1="1484.3" y1="607.5" x2="1487.6" y2="607.5"/>
<line x1="1484.3" y1="593.5" x2="1487.6" y2="593.5"/>
<line x1="1484.3" y1="581.5" x2="1487.6" y2="581.5"/>
<line x1="1484.3" y1="570.5" x2="1487.6" y2="570.5"/>
<line x1="1484.3" y1="498.5" x2="1487.6" y2="498.5"/>
<line x1="1484.3" y1="461.5" x2="1487.6" y2="461.5"/>
<line x1="1484.3" y1="435.5" x2="1487.6" y2="435.5"/>
<line x1="1484.3" y1="415.5" x2="1487.6" y2="415.5"/>
<line x1="1484.3" y1="398.5" x2="1487.6" y2="398.5"/>
<line x1="1484.3" y1="384.5" x2="1487.6" y2="384.5"/>
<line x1="1484.3" y1="372.5" x2="1487.6" y2="372.5"/>
<line x1="1484.3" y1="361.5" x2="1487.6" y2="361.5"/>
<line x1="1484.3" y1="289.5" x2="1487.6" y2="289.5"/>
<line x1="1484.3" y1="252.5" x2="1487.6" y2="252.5"/>
<line x1="1484.3" y1="226.5" x2="1487.6" y2="226.5"/>
<line x1="1484.3" y1="206.5" x2="1487.6" y2="206.5"/>
<line x1="1484.3" y1="189.5" x2="1487.6" y2="189.5"/>
<line x1="1484.3" y1="175.5" x2="1487.6" y2="175.5"/>
<line x1="1484.3" y1="163.5" x2="1487.6" y2="163.5"/>
<line x1="1484.3" y1="153.5" x2="1487.6" y2="153.5"/>
<line x1="1484.3" y1="80.5" x2="1487.6" y2="80.5"/>
</g><g font-size="13.33" fill="#000">
<text x="1496.0" y="148.5">1.0</text>
<text x="1496.0" y="357.5">0.10</text>
<text x="1496.0" y="566.5">0.01</text>
<text x="1496.0" y="774.5">1.0e-03</text>
<text x="1496.0" y="983.5">1.0e-04</text>
<text x="1496.0" y="1192.5">1.0e-05</text>
</g>
<text transform="translate(1566.5,739.4) rotate(-90)" font-size="16.67" font-weight="bold" text-anchor="middle" fill="#000">f(x,y) [Log]</text>
<text x="1405.6" y="149.5" font-size="15" font-weight="bold" text-anchor="end" fill="#00ff00">S</text>
<text x="1405.6" y="295.5" font-size="15" font-weight="bold" text-anchor="end" fill="#e8101c">F</text>
</svg></body></html>
